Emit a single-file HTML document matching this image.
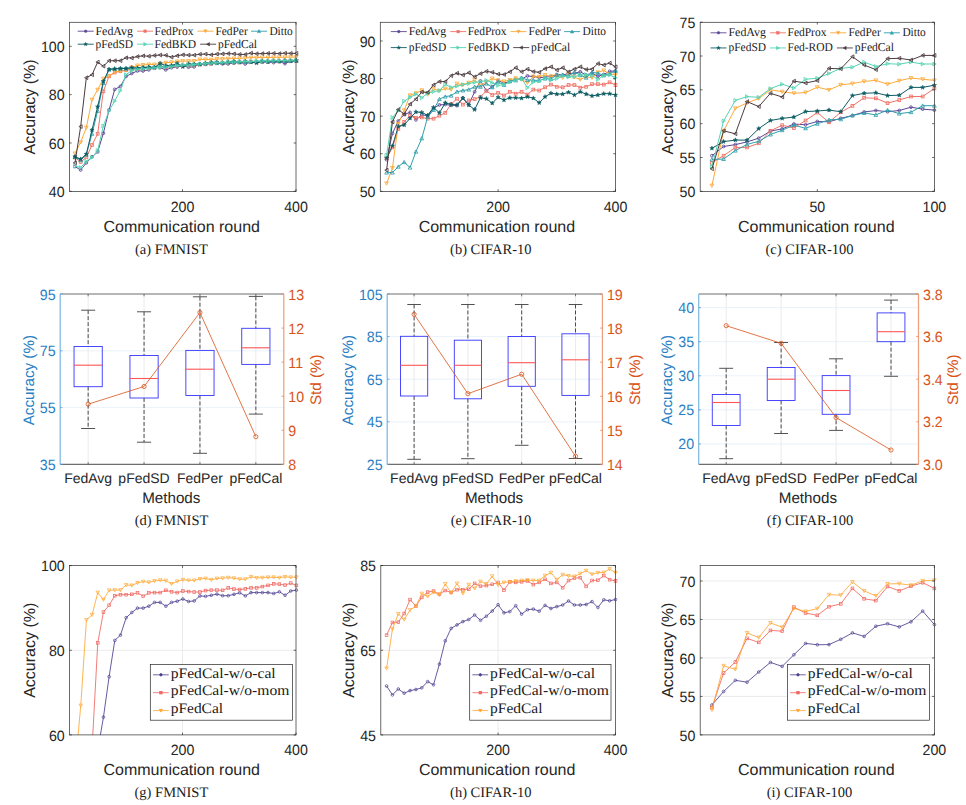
<!DOCTYPE html>
<html><head><meta charset="utf-8"><title>Figure</title>
<style>html,body{margin:0;padding:0;background:#fff}body{width:966px;height:805px;overflow:hidden;font-family:"Liberation Sans",sans-serif}</style>
</head><body>
<svg width="966" height="805" viewBox="0 0 966 805" style="display:block" text-rendering="geometricPrecision">
<g>
<clipPath id="cpa"><rect x="69.4" y="22.3" width="226.6" height="169.2"/></clipPath>
<g clip-path="url(#cpa)"><g transform="translate(0.3,0.5)">
<polyline points="74.67,166.04 80.35,169.46 86.03,162.33 91.7,156.33 97.38,151.42 103.05,132.75 108.72,109.62 114.4,88.9 120.08,85.87 125.75,75.93 131.43,72.97 137.1,70.45 142.78,70.45 148.45,69.37 154.12,67.2 159.8,67.2 165.47,69.37 171.15,67.2 176.82,66.51 182.5,65.26 188.18,66.68 193.85,66.34 199.53,63.49 205.2,63.72 210.88,63.14 216.55,62.46 222.22,63.37 227.9,63.37 233.57,62.57 239.25,61.72 244.93,63.49 250.6,61.6 256.27,61.6 261.95,61.6 267.62,61.6 273.3,62.12 278.98,61.15 284.65,63.14 290.32,60.69 296,60.18" fill="none" stroke="#5b4794" stroke-width="1.0" stroke-linejoin="round"/>
</g></g><g transform="translate(0.3,0.5)"><circle cx="74.67" cy="166.04" r="1.4" fill="none" stroke="#5b4794" stroke-width="0.85"/><circle cx="80.35" cy="169.46" r="1.4" fill="none" stroke="#5b4794" stroke-width="0.85"/><circle cx="86.03" cy="162.33" r="1.4" fill="none" stroke="#5b4794" stroke-width="0.85"/><circle cx="91.7" cy="156.33" r="1.4" fill="none" stroke="#5b4794" stroke-width="0.85"/><circle cx="97.38" cy="151.42" r="1.4" fill="none" stroke="#5b4794" stroke-width="0.85"/><circle cx="103.05" cy="132.75" r="1.4" fill="none" stroke="#5b4794" stroke-width="0.85"/><circle cx="108.72" cy="109.62" r="1.4" fill="none" stroke="#5b4794" stroke-width="0.85"/><circle cx="114.4" cy="88.9" r="1.4" fill="none" stroke="#5b4794" stroke-width="0.85"/><circle cx="120.08" cy="85.87" r="1.4" fill="none" stroke="#5b4794" stroke-width="0.85"/><circle cx="125.75" cy="75.93" r="1.4" fill="none" stroke="#5b4794" stroke-width="0.85"/><circle cx="131.43" cy="72.97" r="1.4" fill="none" stroke="#5b4794" stroke-width="0.85"/><circle cx="137.1" cy="70.45" r="1.4" fill="none" stroke="#5b4794" stroke-width="0.85"/><circle cx="142.78" cy="70.45" r="1.4" fill="none" stroke="#5b4794" stroke-width="0.85"/><circle cx="148.45" cy="69.37" r="1.4" fill="none" stroke="#5b4794" stroke-width="0.85"/><circle cx="154.12" cy="67.2" r="1.4" fill="none" stroke="#5b4794" stroke-width="0.85"/><circle cx="159.8" cy="67.2" r="1.4" fill="none" stroke="#5b4794" stroke-width="0.85"/><circle cx="165.47" cy="69.37" r="1.4" fill="none" stroke="#5b4794" stroke-width="0.85"/><circle cx="171.15" cy="67.2" r="1.4" fill="none" stroke="#5b4794" stroke-width="0.85"/><circle cx="176.82" cy="66.51" r="1.4" fill="none" stroke="#5b4794" stroke-width="0.85"/><circle cx="182.5" cy="65.26" r="1.4" fill="none" stroke="#5b4794" stroke-width="0.85"/><circle cx="188.18" cy="66.68" r="1.4" fill="none" stroke="#5b4794" stroke-width="0.85"/><circle cx="193.85" cy="66.34" r="1.4" fill="none" stroke="#5b4794" stroke-width="0.85"/><circle cx="199.53" cy="63.49" r="1.4" fill="none" stroke="#5b4794" stroke-width="0.85"/><circle cx="205.2" cy="63.72" r="1.4" fill="none" stroke="#5b4794" stroke-width="0.85"/><circle cx="210.88" cy="63.14" r="1.4" fill="none" stroke="#5b4794" stroke-width="0.85"/><circle cx="216.55" cy="62.46" r="1.4" fill="none" stroke="#5b4794" stroke-width="0.85"/><circle cx="222.22" cy="63.37" r="1.4" fill="none" stroke="#5b4794" stroke-width="0.85"/><circle cx="227.9" cy="63.37" r="1.4" fill="none" stroke="#5b4794" stroke-width="0.85"/><circle cx="233.57" cy="62.57" r="1.4" fill="none" stroke="#5b4794" stroke-width="0.85"/><circle cx="239.25" cy="61.72" r="1.4" fill="none" stroke="#5b4794" stroke-width="0.85"/><circle cx="244.93" cy="63.49" r="1.4" fill="none" stroke="#5b4794" stroke-width="0.85"/><circle cx="250.6" cy="61.6" r="1.4" fill="none" stroke="#5b4794" stroke-width="0.85"/><circle cx="256.27" cy="61.6" r="1.4" fill="none" stroke="#5b4794" stroke-width="0.85"/><circle cx="261.95" cy="61.6" r="1.4" fill="none" stroke="#5b4794" stroke-width="0.85"/><circle cx="267.62" cy="61.6" r="1.4" fill="none" stroke="#5b4794" stroke-width="0.85"/><circle cx="273.3" cy="62.12" r="1.4" fill="none" stroke="#5b4794" stroke-width="0.85"/><circle cx="278.98" cy="61.15" r="1.4" fill="none" stroke="#5b4794" stroke-width="0.85"/><circle cx="284.65" cy="63.14" r="1.4" fill="none" stroke="#5b4794" stroke-width="0.85"/><circle cx="290.32" cy="60.69" r="1.4" fill="none" stroke="#5b4794" stroke-width="0.85"/><circle cx="296" cy="60.18" r="1.4" fill="none" stroke="#5b4794" stroke-width="0.85"/></g><g clip-path="url(#cpa)"><g transform="translate(0.3,0.5)">
<polyline points="74.67,157 80.35,161.4 86.03,156.9 91.7,144.5 97.38,133.3 103.05,90.8 108.72,75.8 114.4,72 120.08,70.5 125.75,69.6 131.43,69 137.1,68.5 142.78,68 148.45,67.5 154.12,67 159.8,66.5 165.47,66.8 171.15,66 176.82,65.5 182.5,65.2 188.18,65 193.85,64.8 199.53,64.2 205.2,63.8 210.88,63.2 216.55,62.8 222.22,62.5 227.9,62.5 233.57,62 239.25,62 244.93,61.8 250.6,61.5 256.27,61.5 261.95,61.2 267.62,61 273.3,61 278.98,60.8 284.65,60.8 290.32,60.5 296,60.5" fill="none" stroke="#f07368" stroke-width="1.0" stroke-linejoin="round"/>
</g></g><g transform="translate(0.3,0.5)"><rect x="73.27" y="155.6" width="2.8" height="2.8" fill="none" stroke="#f07368" stroke-width="0.85"/><rect x="78.95" y="160" width="2.8" height="2.8" fill="none" stroke="#f07368" stroke-width="0.85"/><rect x="84.62" y="155.5" width="2.8" height="2.8" fill="none" stroke="#f07368" stroke-width="0.85"/><rect x="90.3" y="143.1" width="2.8" height="2.8" fill="none" stroke="#f07368" stroke-width="0.85"/><rect x="95.97" y="131.9" width="2.8" height="2.8" fill="none" stroke="#f07368" stroke-width="0.85"/><rect x="101.65" y="89.4" width="2.8" height="2.8" fill="none" stroke="#f07368" stroke-width="0.85"/><rect x="107.32" y="74.4" width="2.8" height="2.8" fill="none" stroke="#f07368" stroke-width="0.85"/><rect x="113" y="70.6" width="2.8" height="2.8" fill="none" stroke="#f07368" stroke-width="0.85"/><rect x="118.67" y="69.1" width="2.8" height="2.8" fill="none" stroke="#f07368" stroke-width="0.85"/><rect x="124.35" y="68.2" width="2.8" height="2.8" fill="none" stroke="#f07368" stroke-width="0.85"/><rect x="130.03" y="67.6" width="2.8" height="2.8" fill="none" stroke="#f07368" stroke-width="0.85"/><rect x="135.7" y="67.1" width="2.8" height="2.8" fill="none" stroke="#f07368" stroke-width="0.85"/><rect x="141.38" y="66.6" width="2.8" height="2.8" fill="none" stroke="#f07368" stroke-width="0.85"/><rect x="147.05" y="66.1" width="2.8" height="2.8" fill="none" stroke="#f07368" stroke-width="0.85"/><rect x="152.72" y="65.6" width="2.8" height="2.8" fill="none" stroke="#f07368" stroke-width="0.85"/><rect x="158.4" y="65.1" width="2.8" height="2.8" fill="none" stroke="#f07368" stroke-width="0.85"/><rect x="164.07" y="65.4" width="2.8" height="2.8" fill="none" stroke="#f07368" stroke-width="0.85"/><rect x="169.75" y="64.6" width="2.8" height="2.8" fill="none" stroke="#f07368" stroke-width="0.85"/><rect x="175.42" y="64.1" width="2.8" height="2.8" fill="none" stroke="#f07368" stroke-width="0.85"/><rect x="181.1" y="63.8" width="2.8" height="2.8" fill="none" stroke="#f07368" stroke-width="0.85"/><rect x="186.78" y="63.6" width="2.8" height="2.8" fill="none" stroke="#f07368" stroke-width="0.85"/><rect x="192.45" y="63.4" width="2.8" height="2.8" fill="none" stroke="#f07368" stroke-width="0.85"/><rect x="198.12" y="62.8" width="2.8" height="2.8" fill="none" stroke="#f07368" stroke-width="0.85"/><rect x="203.8" y="62.4" width="2.8" height="2.8" fill="none" stroke="#f07368" stroke-width="0.85"/><rect x="209.47" y="61.8" width="2.8" height="2.8" fill="none" stroke="#f07368" stroke-width="0.85"/><rect x="215.15" y="61.4" width="2.8" height="2.8" fill="none" stroke="#f07368" stroke-width="0.85"/><rect x="220.82" y="61.1" width="2.8" height="2.8" fill="none" stroke="#f07368" stroke-width="0.85"/><rect x="226.5" y="61.1" width="2.8" height="2.8" fill="none" stroke="#f07368" stroke-width="0.85"/><rect x="232.17" y="60.6" width="2.8" height="2.8" fill="none" stroke="#f07368" stroke-width="0.85"/><rect x="237.85" y="60.6" width="2.8" height="2.8" fill="none" stroke="#f07368" stroke-width="0.85"/><rect x="243.53" y="60.4" width="2.8" height="2.8" fill="none" stroke="#f07368" stroke-width="0.85"/><rect x="249.2" y="60.1" width="2.8" height="2.8" fill="none" stroke="#f07368" stroke-width="0.85"/><rect x="254.87" y="60.1" width="2.8" height="2.8" fill="none" stroke="#f07368" stroke-width="0.85"/><rect x="260.55" y="59.8" width="2.8" height="2.8" fill="none" stroke="#f07368" stroke-width="0.85"/><rect x="266.23" y="59.6" width="2.8" height="2.8" fill="none" stroke="#f07368" stroke-width="0.85"/><rect x="271.9" y="59.6" width="2.8" height="2.8" fill="none" stroke="#f07368" stroke-width="0.85"/><rect x="277.58" y="59.4" width="2.8" height="2.8" fill="none" stroke="#f07368" stroke-width="0.85"/><rect x="283.25" y="59.4" width="2.8" height="2.8" fill="none" stroke="#f07368" stroke-width="0.85"/><rect x="288.93" y="59.1" width="2.8" height="2.8" fill="none" stroke="#f07368" stroke-width="0.85"/><rect x="294.6" y="59.1" width="2.8" height="2.8" fill="none" stroke="#f07368" stroke-width="0.85"/></g><g clip-path="url(#cpa)"><g transform="translate(0.3,0.5)">
<polyline points="74.67,153 80.35,141.8 86.03,127.1 91.7,99.2 97.38,89.2 103.05,78.2 108.72,75.8 114.4,71.25 120.08,71 125.75,69.6 131.43,67 137.1,65 142.78,64.5 148.45,64 154.12,64 159.8,63 165.47,62.2 171.15,61.8 176.82,61 182.5,60.6 188.18,60.6 193.85,60.5 199.53,59 205.2,59 210.88,59.2 216.55,58.5 222.22,58.4 227.9,58.2 233.57,58 239.25,57.8 244.93,57.5 250.6,57.1 256.27,57.2 261.95,57 267.62,57 273.3,56.9 278.98,56.8 284.65,56.7 290.32,56.6 296,56.6" fill="none" stroke="#fda93a" stroke-width="1.0" stroke-linejoin="round"/>
</g></g><g transform="translate(0.3,0.5)"><polygon points="72.83,151.52 76.52,151.52 74.67,154.76" fill="none" stroke="#fda93a" stroke-width="0.85" stroke-linejoin="miter"/><polygon points="78.5,140.32 82.2,140.32 80.35,143.56" fill="none" stroke="#fda93a" stroke-width="0.85" stroke-linejoin="miter"/><polygon points="84.18,125.62 87.87,125.62 86.03,128.86" fill="none" stroke="#fda93a" stroke-width="0.85" stroke-linejoin="miter"/><polygon points="89.85,97.72 93.55,97.72 91.7,100.96" fill="none" stroke="#fda93a" stroke-width="0.85" stroke-linejoin="miter"/><polygon points="95.53,87.72 99.22,87.72 97.38,90.96" fill="none" stroke="#fda93a" stroke-width="0.85" stroke-linejoin="miter"/><polygon points="101.2,76.72 104.9,76.72 103.05,79.96" fill="none" stroke="#fda93a" stroke-width="0.85" stroke-linejoin="miter"/><polygon points="106.88,74.32 110.57,74.32 108.72,77.56" fill="none" stroke="#fda93a" stroke-width="0.85" stroke-linejoin="miter"/><polygon points="112.55,69.77 116.25,69.77 114.4,73.01" fill="none" stroke="#fda93a" stroke-width="0.85" stroke-linejoin="miter"/><polygon points="118.23,69.52 121.92,69.52 120.08,72.76" fill="none" stroke="#fda93a" stroke-width="0.85" stroke-linejoin="miter"/><polygon points="123.9,68.12 127.6,68.12 125.75,71.36" fill="none" stroke="#fda93a" stroke-width="0.85" stroke-linejoin="miter"/><polygon points="129.58,65.52 133.27,65.52 131.43,68.76" fill="none" stroke="#fda93a" stroke-width="0.85" stroke-linejoin="miter"/><polygon points="135.25,63.52 138.95,63.52 137.1,66.76" fill="none" stroke="#fda93a" stroke-width="0.85" stroke-linejoin="miter"/><polygon points="140.93,63.02 144.62,63.02 142.78,66.26" fill="none" stroke="#fda93a" stroke-width="0.85" stroke-linejoin="miter"/><polygon points="146.6,62.52 150.3,62.52 148.45,65.76" fill="none" stroke="#fda93a" stroke-width="0.85" stroke-linejoin="miter"/><polygon points="152.28,62.52 155.97,62.52 154.12,65.76" fill="none" stroke="#fda93a" stroke-width="0.85" stroke-linejoin="miter"/><polygon points="157.95,61.52 161.65,61.52 159.8,64.76" fill="none" stroke="#fda93a" stroke-width="0.85" stroke-linejoin="miter"/><polygon points="163.63,60.72 167.32,60.72 165.47,63.96" fill="none" stroke="#fda93a" stroke-width="0.85" stroke-linejoin="miter"/><polygon points="169.3,60.32 173,60.32 171.15,63.56" fill="none" stroke="#fda93a" stroke-width="0.85" stroke-linejoin="miter"/><polygon points="174.98,59.52 178.67,59.52 176.82,62.76" fill="none" stroke="#fda93a" stroke-width="0.85" stroke-linejoin="miter"/><polygon points="180.65,59.12 184.35,59.12 182.5,62.36" fill="none" stroke="#fda93a" stroke-width="0.85" stroke-linejoin="miter"/><polygon points="186.33,59.12 190.02,59.12 188.18,62.36" fill="none" stroke="#fda93a" stroke-width="0.85" stroke-linejoin="miter"/><polygon points="192,59.02 195.7,59.02 193.85,62.26" fill="none" stroke="#fda93a" stroke-width="0.85" stroke-linejoin="miter"/><polygon points="197.68,57.52 201.37,57.52 199.53,60.76" fill="none" stroke="#fda93a" stroke-width="0.85" stroke-linejoin="miter"/><polygon points="203.35,57.52 207.05,57.52 205.2,60.76" fill="none" stroke="#fda93a" stroke-width="0.85" stroke-linejoin="miter"/><polygon points="209.03,57.72 212.72,57.72 210.88,60.96" fill="none" stroke="#fda93a" stroke-width="0.85" stroke-linejoin="miter"/><polygon points="214.7,57.02 218.4,57.02 216.55,60.26" fill="none" stroke="#fda93a" stroke-width="0.85" stroke-linejoin="miter"/><polygon points="220.38,56.92 224.07,56.92 222.22,60.16" fill="none" stroke="#fda93a" stroke-width="0.85" stroke-linejoin="miter"/><polygon points="226.05,56.72 229.75,56.72 227.9,59.96" fill="none" stroke="#fda93a" stroke-width="0.85" stroke-linejoin="miter"/><polygon points="231.73,56.52 235.42,56.52 233.57,59.76" fill="none" stroke="#fda93a" stroke-width="0.85" stroke-linejoin="miter"/><polygon points="237.4,56.32 241.1,56.32 239.25,59.56" fill="none" stroke="#fda93a" stroke-width="0.85" stroke-linejoin="miter"/><polygon points="243.08,56.02 246.77,56.02 244.93,59.26" fill="none" stroke="#fda93a" stroke-width="0.85" stroke-linejoin="miter"/><polygon points="248.75,55.62 252.45,55.62 250.6,58.86" fill="none" stroke="#fda93a" stroke-width="0.85" stroke-linejoin="miter"/><polygon points="254.43,55.72 258.12,55.72 256.27,58.96" fill="none" stroke="#fda93a" stroke-width="0.85" stroke-linejoin="miter"/><polygon points="260.1,55.52 263.8,55.52 261.95,58.76" fill="none" stroke="#fda93a" stroke-width="0.85" stroke-linejoin="miter"/><polygon points="265.78,55.52 269.47,55.52 267.62,58.76" fill="none" stroke="#fda93a" stroke-width="0.85" stroke-linejoin="miter"/><polygon points="271.45,55.42 275.15,55.42 273.3,58.66" fill="none" stroke="#fda93a" stroke-width="0.85" stroke-linejoin="miter"/><polygon points="277.13,55.32 280.82,55.32 278.98,58.56" fill="none" stroke="#fda93a" stroke-width="0.85" stroke-linejoin="miter"/><polygon points="282.8,55.22 286.5,55.22 284.65,58.46" fill="none" stroke="#fda93a" stroke-width="0.85" stroke-linejoin="miter"/><polygon points="288.48,55.12 292.17,55.12 290.32,58.36" fill="none" stroke="#fda93a" stroke-width="0.85" stroke-linejoin="miter"/><polygon points="294.15,55.12 297.85,55.12 296,58.36" fill="none" stroke="#fda93a" stroke-width="0.85" stroke-linejoin="miter"/></g><g clip-path="url(#cpa)"><g transform="translate(0.3,0.5)">
<polyline points="74.67,156.5 80.35,159.8 86.03,154.2 91.7,133.3 97.38,110.4 103.05,82.5 108.72,69.2 114.4,68.5 120.08,68.2 125.75,68.1 131.43,67.8 137.1,67.6 142.78,67.2 148.45,67 154.12,66.6 159.8,66 165.47,65.6 171.15,65.2 176.82,64.8 182.5,64.5 188.18,64.2 193.85,63.9 199.53,63.5 205.2,63.1 210.88,62.8 216.55,62.5 222.22,62.2 227.9,62 233.57,61.8 239.25,61.6 244.93,61.4 250.6,61.2 256.27,61 261.95,60.9 267.62,60.8 273.3,60.6 278.98,60.5 284.65,60.4 290.32,60.3 296,60.2" fill="none" stroke="#2f9fab" stroke-width="1.0" stroke-linejoin="round"/>
</g></g><g transform="translate(0.3,0.5)"><polygon points="72.83,157.98 76.52,157.98 74.67,154.74" fill="none" stroke="#2f9fab" stroke-width="0.85" stroke-linejoin="miter"/><polygon points="78.5,161.28 82.2,161.28 80.35,158.04" fill="none" stroke="#2f9fab" stroke-width="0.85" stroke-linejoin="miter"/><polygon points="84.18,155.68 87.87,155.68 86.03,152.44" fill="none" stroke="#2f9fab" stroke-width="0.85" stroke-linejoin="miter"/><polygon points="89.85,134.78 93.55,134.78 91.7,131.54" fill="none" stroke="#2f9fab" stroke-width="0.85" stroke-linejoin="miter"/><polygon points="95.53,111.88 99.22,111.88 97.38,108.64" fill="none" stroke="#2f9fab" stroke-width="0.85" stroke-linejoin="miter"/><polygon points="101.2,83.98 104.9,83.98 103.05,80.74" fill="none" stroke="#2f9fab" stroke-width="0.85" stroke-linejoin="miter"/><polygon points="106.88,70.68 110.57,70.68 108.72,67.44" fill="none" stroke="#2f9fab" stroke-width="0.85" stroke-linejoin="miter"/><polygon points="112.55,69.98 116.25,69.98 114.4,66.74" fill="none" stroke="#2f9fab" stroke-width="0.85" stroke-linejoin="miter"/><polygon points="118.23,69.68 121.92,69.68 120.08,66.44" fill="none" stroke="#2f9fab" stroke-width="0.85" stroke-linejoin="miter"/><polygon points="123.9,69.58 127.6,69.58 125.75,66.34" fill="none" stroke="#2f9fab" stroke-width="0.85" stroke-linejoin="miter"/><polygon points="129.58,69.28 133.27,69.28 131.43,66.04" fill="none" stroke="#2f9fab" stroke-width="0.85" stroke-linejoin="miter"/><polygon points="135.25,69.08 138.95,69.08 137.1,65.84" fill="none" stroke="#2f9fab" stroke-width="0.85" stroke-linejoin="miter"/><polygon points="140.93,68.68 144.62,68.68 142.78,65.44" fill="none" stroke="#2f9fab" stroke-width="0.85" stroke-linejoin="miter"/><polygon points="146.6,68.48 150.3,68.48 148.45,65.24" fill="none" stroke="#2f9fab" stroke-width="0.85" stroke-linejoin="miter"/><polygon points="152.28,68.08 155.97,68.08 154.12,64.84" fill="none" stroke="#2f9fab" stroke-width="0.85" stroke-linejoin="miter"/><polygon points="157.95,67.48 161.65,67.48 159.8,64.24" fill="none" stroke="#2f9fab" stroke-width="0.85" stroke-linejoin="miter"/><polygon points="163.63,67.08 167.32,67.08 165.47,63.84" fill="none" stroke="#2f9fab" stroke-width="0.85" stroke-linejoin="miter"/><polygon points="169.3,66.68 173,66.68 171.15,63.44" fill="none" stroke="#2f9fab" stroke-width="0.85" stroke-linejoin="miter"/><polygon points="174.98,66.28 178.67,66.28 176.82,63.04" fill="none" stroke="#2f9fab" stroke-width="0.85" stroke-linejoin="miter"/><polygon points="180.65,65.98 184.35,65.98 182.5,62.74" fill="none" stroke="#2f9fab" stroke-width="0.85" stroke-linejoin="miter"/><polygon points="186.33,65.68 190.02,65.68 188.18,62.44" fill="none" stroke="#2f9fab" stroke-width="0.85" stroke-linejoin="miter"/><polygon points="192,65.38 195.7,65.38 193.85,62.14" fill="none" stroke="#2f9fab" stroke-width="0.85" stroke-linejoin="miter"/><polygon points="197.68,64.98 201.37,64.98 199.53,61.74" fill="none" stroke="#2f9fab" stroke-width="0.85" stroke-linejoin="miter"/><polygon points="203.35,64.58 207.05,64.58 205.2,61.34" fill="none" stroke="#2f9fab" stroke-width="0.85" stroke-linejoin="miter"/><polygon points="209.03,64.28 212.72,64.28 210.88,61.04" fill="none" stroke="#2f9fab" stroke-width="0.85" stroke-linejoin="miter"/><polygon points="214.7,63.98 218.4,63.98 216.55,60.74" fill="none" stroke="#2f9fab" stroke-width="0.85" stroke-linejoin="miter"/><polygon points="220.38,63.68 224.07,63.68 222.22,60.44" fill="none" stroke="#2f9fab" stroke-width="0.85" stroke-linejoin="miter"/><polygon points="226.05,63.48 229.75,63.48 227.9,60.24" fill="none" stroke="#2f9fab" stroke-width="0.85" stroke-linejoin="miter"/><polygon points="231.73,63.28 235.42,63.28 233.57,60.04" fill="none" stroke="#2f9fab" stroke-width="0.85" stroke-linejoin="miter"/><polygon points="237.4,63.08 241.1,63.08 239.25,59.84" fill="none" stroke="#2f9fab" stroke-width="0.85" stroke-linejoin="miter"/><polygon points="243.08,62.88 246.77,62.88 244.93,59.64" fill="none" stroke="#2f9fab" stroke-width="0.85" stroke-linejoin="miter"/><polygon points="248.75,62.68 252.45,62.68 250.6,59.44" fill="none" stroke="#2f9fab" stroke-width="0.85" stroke-linejoin="miter"/><polygon points="254.43,62.48 258.12,62.48 256.27,59.24" fill="none" stroke="#2f9fab" stroke-width="0.85" stroke-linejoin="miter"/><polygon points="260.1,62.38 263.8,62.38 261.95,59.14" fill="none" stroke="#2f9fab" stroke-width="0.85" stroke-linejoin="miter"/><polygon points="265.78,62.28 269.47,62.28 267.62,59.04" fill="none" stroke="#2f9fab" stroke-width="0.85" stroke-linejoin="miter"/><polygon points="271.45,62.08 275.15,62.08 273.3,58.84" fill="none" stroke="#2f9fab" stroke-width="0.85" stroke-linejoin="miter"/><polygon points="277.13,61.98 280.82,61.98 278.98,58.74" fill="none" stroke="#2f9fab" stroke-width="0.85" stroke-linejoin="miter"/><polygon points="282.8,61.88 286.5,61.88 284.65,58.64" fill="none" stroke="#2f9fab" stroke-width="0.85" stroke-linejoin="miter"/><polygon points="288.48,61.78 292.17,61.78 290.32,58.54" fill="none" stroke="#2f9fab" stroke-width="0.85" stroke-linejoin="miter"/><polygon points="294.15,61.68 297.85,61.68 296,58.44" fill="none" stroke="#2f9fab" stroke-width="0.85" stroke-linejoin="miter"/></g><g clip-path="url(#cpa)"><g transform="translate(0.3,0.5)">
<polyline points="74.67,156.1 80.35,158.6 86.03,153.6 91.7,129.6 97.38,106.25 103.05,80.8 108.72,68.75 114.4,68.3 120.08,67.9 125.75,67.9 131.43,67.1 137.1,67.5 142.78,67.1 148.45,66.6 154.12,67.1 159.8,62.9 165.47,65.2 171.15,65.2 176.82,62.9 182.5,66.2 188.18,63.4 193.85,63.8 199.53,63.8 205.2,62.9 210.88,62 216.55,61.8 222.22,62.5 227.9,61.5 233.57,61 239.25,61.5 244.93,61 250.6,61.5 256.27,62.5 261.95,60.5 267.62,61.2 273.3,60.5 278.98,60.8 284.65,60.2 290.32,60.5 296,60" fill="none" stroke="#0d5c63" stroke-width="1.0" stroke-linejoin="round"/>
</g></g><g transform="translate(0.3,0.5)"><polygon points="74.67,153.86 75.23,155.34 76.81,155.41 75.57,156.39 75.99,157.91 74.67,157.04 73.36,157.91 73.78,156.39 72.54,155.41 74.12,155.34" fill="#0d5c63" stroke="#0d5c63" stroke-width="0.51"/><polygon points="80.35,156.36 80.9,157.84 82.48,157.91 81.24,158.89 81.67,160.41 80.35,159.54 79.03,160.41 79.46,158.89 78.22,157.91 79.8,157.84" fill="#0d5c63" stroke="#0d5c63" stroke-width="0.51"/><polygon points="86.03,151.36 86.58,152.84 88.16,152.91 86.92,153.89 87.34,155.41 86.03,154.54 84.71,155.41 85.13,153.89 83.89,152.91 85.47,152.84" fill="#0d5c63" stroke="#0d5c63" stroke-width="0.51"/><polygon points="91.7,127.36 92.25,128.84 93.83,128.91 92.59,129.89 93.02,131.41 91.7,130.54 90.38,131.41 90.81,129.89 89.57,128.91 91.15,128.84" fill="#0d5c63" stroke="#0d5c63" stroke-width="0.51"/><polygon points="97.38,104.01 97.93,105.49 99.51,105.56 98.27,106.54 98.69,108.06 97.38,107.19 96.06,108.06 96.48,106.54 95.24,105.56 96.82,105.49" fill="#0d5c63" stroke="#0d5c63" stroke-width="0.51"/><polygon points="103.05,78.56 103.6,80.04 105.18,80.11 103.94,81.09 104.37,82.61 103.05,81.74 101.73,82.61 102.16,81.09 100.92,80.11 102.5,80.04" fill="#0d5c63" stroke="#0d5c63" stroke-width="0.51"/><polygon points="108.72,66.51 109.28,67.99 110.86,68.06 109.62,69.04 110.04,70.56 108.72,69.69 107.41,70.56 107.83,69.04 106.59,68.06 108.17,67.99" fill="#0d5c63" stroke="#0d5c63" stroke-width="0.51"/><polygon points="114.4,66.06 114.95,67.54 116.53,67.61 115.29,68.59 115.72,70.11 114.4,69.24 113.08,70.11 113.51,68.59 112.27,67.61 113.85,67.54" fill="#0d5c63" stroke="#0d5c63" stroke-width="0.51"/><polygon points="120.08,65.66 120.63,67.14 122.21,67.21 120.97,68.19 121.39,69.71 120.08,68.84 118.76,69.71 119.18,68.19 117.94,67.21 119.52,67.14" fill="#0d5c63" stroke="#0d5c63" stroke-width="0.51"/><polygon points="125.75,65.66 126.3,67.14 127.88,67.21 126.64,68.19 127.07,69.71 125.75,68.84 124.43,69.71 124.86,68.19 123.62,67.21 125.2,67.14" fill="#0d5c63" stroke="#0d5c63" stroke-width="0.51"/><polygon points="131.43,64.86 131.98,66.34 133.56,66.41 132.32,67.39 132.74,68.91 131.43,68.04 130.11,68.91 130.53,67.39 129.29,66.41 130.87,66.34" fill="#0d5c63" stroke="#0d5c63" stroke-width="0.51"/><polygon points="137.1,65.26 137.65,66.74 139.23,66.81 137.99,67.79 138.42,69.31 137.1,68.44 135.78,69.31 136.21,67.79 134.97,66.81 136.55,66.74" fill="#0d5c63" stroke="#0d5c63" stroke-width="0.51"/><polygon points="142.78,64.86 143.33,66.34 144.91,66.41 143.67,67.39 144.09,68.91 142.78,68.04 141.46,68.91 141.88,67.39 140.64,66.41 142.22,66.34" fill="#0d5c63" stroke="#0d5c63" stroke-width="0.51"/><polygon points="148.45,64.36 149,65.84 150.58,65.91 149.34,66.89 149.77,68.41 148.45,67.54 147.13,68.41 147.56,66.89 146.32,65.91 147.9,65.84" fill="#0d5c63" stroke="#0d5c63" stroke-width="0.51"/><polygon points="154.12,64.86 154.68,66.34 156.26,66.41 155.02,67.39 155.44,68.91 154.12,68.04 152.81,68.91 153.23,67.39 151.99,66.41 153.57,66.34" fill="#0d5c63" stroke="#0d5c63" stroke-width="0.51"/><polygon points="159.8,60.66 160.35,62.14 161.93,62.21 160.69,63.19 161.12,64.71 159.8,63.84 158.48,64.71 158.91,63.19 157.67,62.21 159.25,62.14" fill="#0d5c63" stroke="#0d5c63" stroke-width="0.51"/><polygon points="165.47,62.96 166.03,64.44 167.61,64.51 166.37,65.49 166.79,67.01 165.47,66.14 164.16,67.01 164.58,65.49 163.34,64.51 164.92,64.44" fill="#0d5c63" stroke="#0d5c63" stroke-width="0.51"/><polygon points="171.15,62.96 171.7,64.44 173.28,64.51 172.04,65.49 172.47,67.01 171.15,66.14 169.83,67.01 170.26,65.49 169.02,64.51 170.6,64.44" fill="#0d5c63" stroke="#0d5c63" stroke-width="0.51"/><polygon points="176.82,60.66 177.38,62.14 178.96,62.21 177.72,63.19 178.14,64.71 176.82,63.84 175.51,64.71 175.93,63.19 174.69,62.21 176.27,62.14" fill="#0d5c63" stroke="#0d5c63" stroke-width="0.51"/><polygon points="182.5,63.96 183.05,65.44 184.63,65.51 183.39,66.49 183.82,68.01 182.5,67.14 181.18,68.01 181.61,66.49 180.37,65.51 181.95,65.44" fill="#0d5c63" stroke="#0d5c63" stroke-width="0.51"/><polygon points="188.18,61.16 188.73,62.64 190.31,62.71 189.07,63.69 189.49,65.21 188.18,64.34 186.86,65.21 187.28,63.69 186.04,62.71 187.62,62.64" fill="#0d5c63" stroke="#0d5c63" stroke-width="0.51"/><polygon points="193.85,61.56 194.4,63.04 195.98,63.11 194.74,64.09 195.17,65.61 193.85,64.74 192.53,65.61 192.96,64.09 191.72,63.11 193.3,63.04" fill="#0d5c63" stroke="#0d5c63" stroke-width="0.51"/><polygon points="199.53,61.56 200.08,63.04 201.66,63.11 200.42,64.09 200.84,65.61 199.53,64.74 198.21,65.61 198.63,64.09 197.39,63.11 198.97,63.04" fill="#0d5c63" stroke="#0d5c63" stroke-width="0.51"/><polygon points="205.2,60.66 205.75,62.14 207.33,62.21 206.09,63.19 206.52,64.71 205.2,63.84 203.88,64.71 204.31,63.19 203.07,62.21 204.65,62.14" fill="#0d5c63" stroke="#0d5c63" stroke-width="0.51"/><polygon points="210.88,59.76 211.43,61.24 213.01,61.31 211.77,62.29 212.19,63.81 210.88,62.94 209.56,63.81 209.98,62.29 208.74,61.31 210.32,61.24" fill="#0d5c63" stroke="#0d5c63" stroke-width="0.51"/><polygon points="216.55,59.56 217.1,61.04 218.68,61.11 217.44,62.09 217.87,63.61 216.55,62.74 215.23,63.61 215.66,62.09 214.42,61.11 216,61.04" fill="#0d5c63" stroke="#0d5c63" stroke-width="0.51"/><polygon points="222.22,60.26 222.78,61.74 224.36,61.81 223.12,62.79 223.54,64.31 222.22,63.44 220.91,64.31 221.33,62.79 220.09,61.81 221.67,61.74" fill="#0d5c63" stroke="#0d5c63" stroke-width="0.51"/><polygon points="227.9,59.26 228.45,60.74 230.03,60.81 228.79,61.79 229.22,63.31 227.9,62.44 226.58,63.31 227.01,61.79 225.77,60.81 227.35,60.74" fill="#0d5c63" stroke="#0d5c63" stroke-width="0.51"/><polygon points="233.57,58.76 234.13,60.24 235.71,60.31 234.47,61.29 234.89,62.81 233.57,61.94 232.26,62.81 232.68,61.29 231.44,60.31 233.02,60.24" fill="#0d5c63" stroke="#0d5c63" stroke-width="0.51"/><polygon points="239.25,59.26 239.8,60.74 241.38,60.81 240.14,61.79 240.57,63.31 239.25,62.44 237.93,63.31 238.36,61.79 237.12,60.81 238.7,60.74" fill="#0d5c63" stroke="#0d5c63" stroke-width="0.51"/><polygon points="244.93,58.76 245.48,60.24 247.06,60.31 245.82,61.29 246.24,62.81 244.93,61.94 243.61,62.81 244.03,61.29 242.79,60.31 244.37,60.24" fill="#0d5c63" stroke="#0d5c63" stroke-width="0.51"/><polygon points="250.6,59.26 251.15,60.74 252.73,60.81 251.49,61.79 251.92,63.31 250.6,62.44 249.28,63.31 249.71,61.79 248.47,60.81 250.05,60.74" fill="#0d5c63" stroke="#0d5c63" stroke-width="0.51"/><polygon points="256.27,60.26 256.83,61.74 258.41,61.81 257.17,62.79 257.59,64.31 256.27,63.44 254.96,64.31 255.38,62.79 254.14,61.81 255.72,61.74" fill="#0d5c63" stroke="#0d5c63" stroke-width="0.51"/><polygon points="261.95,58.26 262.5,59.74 264.08,59.81 262.84,60.79 263.27,62.31 261.95,61.44 260.63,62.31 261.06,60.79 259.82,59.81 261.4,59.74" fill="#0d5c63" stroke="#0d5c63" stroke-width="0.51"/><polygon points="267.62,58.96 268.18,60.44 269.76,60.51 268.52,61.49 268.94,63.01 267.62,62.14 266.31,63.01 266.73,61.49 265.49,60.51 267.07,60.44" fill="#0d5c63" stroke="#0d5c63" stroke-width="0.51"/><polygon points="273.3,58.26 273.85,59.74 275.43,59.81 274.19,60.79 274.62,62.31 273.3,61.44 271.98,62.31 272.41,60.79 271.17,59.81 272.75,59.74" fill="#0d5c63" stroke="#0d5c63" stroke-width="0.51"/><polygon points="278.98,58.56 279.53,60.04 281.11,60.11 279.87,61.09 280.29,62.61 278.98,61.74 277.66,62.61 278.08,61.09 276.84,60.11 278.42,60.04" fill="#0d5c63" stroke="#0d5c63" stroke-width="0.51"/><polygon points="284.65,57.96 285.2,59.44 286.78,59.51 285.54,60.49 285.97,62.01 284.65,61.14 283.33,62.01 283.76,60.49 282.52,59.51 284.1,59.44" fill="#0d5c63" stroke="#0d5c63" stroke-width="0.51"/><polygon points="290.32,58.26 290.88,59.74 292.46,59.81 291.22,60.79 291.64,62.31 290.32,61.44 289.01,62.31 289.43,60.79 288.19,59.81 289.77,59.74" fill="#0d5c63" stroke="#0d5c63" stroke-width="0.51"/><polygon points="296,57.76 296.55,59.24 298.13,59.31 296.89,60.29 297.32,61.81 296,60.94 294.68,61.81 295.11,60.29 293.87,59.31 295.45,59.24" fill="#0d5c63" stroke="#0d5c63" stroke-width="0.51"/></g><g clip-path="url(#cpa)"><g transform="translate(0.3,0.5)">
<polyline points="74.67,165.7 80.35,167 86.03,160.9 91.7,157 97.38,150 103.05,125.4 108.72,110.4 114.4,100.4 120.08,90 125.75,74.2 131.43,70 137.1,68.75 142.78,68.3 148.45,67.8 154.12,67.2 159.8,66.8 165.47,66.5 171.15,66 176.82,65 182.5,64.5 188.18,64.5 193.85,64 199.53,63.5 205.2,63 210.88,62.5 216.55,62 222.22,62 227.9,61.5 233.57,61.5 239.25,61.2 244.93,61 250.6,61 256.27,60.5 261.95,60.5 267.62,60.5 273.3,60.2 278.98,60 284.65,60 290.32,59.8 296,59.5" fill="none" stroke="#55d3b4" stroke-width="1.0" stroke-linejoin="round"/>
</g></g><g transform="translate(0.3,0.5)"><polygon points="73.2,163.85 73.2,167.55 76.43,165.7" fill="none" stroke="#55d3b4" stroke-width="0.85" stroke-linejoin="miter"/><polygon points="78.87,165.15 78.87,168.85 82.11,167" fill="none" stroke="#55d3b4" stroke-width="0.85" stroke-linejoin="miter"/><polygon points="84.55,159.05 84.55,162.75 87.78,160.9" fill="none" stroke="#55d3b4" stroke-width="0.85" stroke-linejoin="miter"/><polygon points="90.22,155.15 90.22,158.85 93.46,157" fill="none" stroke="#55d3b4" stroke-width="0.85" stroke-linejoin="miter"/><polygon points="95.9,148.15 95.9,151.85 99.13,150" fill="none" stroke="#55d3b4" stroke-width="0.85" stroke-linejoin="miter"/><polygon points="101.57,123.55 101.57,127.25 104.81,125.4" fill="none" stroke="#55d3b4" stroke-width="0.85" stroke-linejoin="miter"/><polygon points="107.25,108.55 107.25,112.25 110.48,110.4" fill="none" stroke="#55d3b4" stroke-width="0.85" stroke-linejoin="miter"/><polygon points="112.92,98.55 112.92,102.25 116.16,100.4" fill="none" stroke="#55d3b4" stroke-width="0.85" stroke-linejoin="miter"/><polygon points="118.6,88.15 118.6,91.85 121.83,90" fill="none" stroke="#55d3b4" stroke-width="0.85" stroke-linejoin="miter"/><polygon points="124.27,72.35 124.27,76.05 127.51,74.2" fill="none" stroke="#55d3b4" stroke-width="0.85" stroke-linejoin="miter"/><polygon points="129.95,68.15 129.95,71.85 133.18,70" fill="none" stroke="#55d3b4" stroke-width="0.85" stroke-linejoin="miter"/><polygon points="135.62,66.9 135.62,70.6 138.86,68.75" fill="none" stroke="#55d3b4" stroke-width="0.85" stroke-linejoin="miter"/><polygon points="141.3,66.45 141.3,70.15 144.53,68.3" fill="none" stroke="#55d3b4" stroke-width="0.85" stroke-linejoin="miter"/><polygon points="146.97,65.95 146.97,69.65 150.21,67.8" fill="none" stroke="#55d3b4" stroke-width="0.85" stroke-linejoin="miter"/><polygon points="152.65,65.35 152.65,69.05 155.88,67.2" fill="none" stroke="#55d3b4" stroke-width="0.85" stroke-linejoin="miter"/><polygon points="158.32,64.95 158.32,68.65 161.56,66.8" fill="none" stroke="#55d3b4" stroke-width="0.85" stroke-linejoin="miter"/><polygon points="164,64.65 164,68.35 167.23,66.5" fill="none" stroke="#55d3b4" stroke-width="0.85" stroke-linejoin="miter"/><polygon points="169.67,64.15 169.67,67.85 172.91,66" fill="none" stroke="#55d3b4" stroke-width="0.85" stroke-linejoin="miter"/><polygon points="175.35,63.15 175.35,66.85 178.58,65" fill="none" stroke="#55d3b4" stroke-width="0.85" stroke-linejoin="miter"/><polygon points="181.02,62.65 181.02,66.35 184.26,64.5" fill="none" stroke="#55d3b4" stroke-width="0.85" stroke-linejoin="miter"/><polygon points="186.7,62.65 186.7,66.35 189.93,64.5" fill="none" stroke="#55d3b4" stroke-width="0.85" stroke-linejoin="miter"/><polygon points="192.37,62.15 192.37,65.85 195.61,64" fill="none" stroke="#55d3b4" stroke-width="0.85" stroke-linejoin="miter"/><polygon points="198.05,61.65 198.05,65.35 201.28,63.5" fill="none" stroke="#55d3b4" stroke-width="0.85" stroke-linejoin="miter"/><polygon points="203.72,61.15 203.72,64.85 206.96,63" fill="none" stroke="#55d3b4" stroke-width="0.85" stroke-linejoin="miter"/><polygon points="209.4,60.65 209.4,64.35 212.63,62.5" fill="none" stroke="#55d3b4" stroke-width="0.85" stroke-linejoin="miter"/><polygon points="215.07,60.15 215.07,63.85 218.31,62" fill="none" stroke="#55d3b4" stroke-width="0.85" stroke-linejoin="miter"/><polygon points="220.75,60.15 220.75,63.85 223.98,62" fill="none" stroke="#55d3b4" stroke-width="0.85" stroke-linejoin="miter"/><polygon points="226.42,59.65 226.42,63.35 229.66,61.5" fill="none" stroke="#55d3b4" stroke-width="0.85" stroke-linejoin="miter"/><polygon points="232.1,59.65 232.1,63.35 235.33,61.5" fill="none" stroke="#55d3b4" stroke-width="0.85" stroke-linejoin="miter"/><polygon points="237.77,59.35 237.77,63.05 241.01,61.2" fill="none" stroke="#55d3b4" stroke-width="0.85" stroke-linejoin="miter"/><polygon points="243.45,59.15 243.45,62.85 246.68,61" fill="none" stroke="#55d3b4" stroke-width="0.85" stroke-linejoin="miter"/><polygon points="249.12,59.15 249.12,62.85 252.36,61" fill="none" stroke="#55d3b4" stroke-width="0.85" stroke-linejoin="miter"/><polygon points="254.8,58.65 254.8,62.35 258.03,60.5" fill="none" stroke="#55d3b4" stroke-width="0.85" stroke-linejoin="miter"/><polygon points="260.47,58.65 260.47,62.35 263.71,60.5" fill="none" stroke="#55d3b4" stroke-width="0.85" stroke-linejoin="miter"/><polygon points="266.15,58.65 266.15,62.35 269.38,60.5" fill="none" stroke="#55d3b4" stroke-width="0.85" stroke-linejoin="miter"/><polygon points="271.82,58.35 271.82,62.05 275.06,60.2" fill="none" stroke="#55d3b4" stroke-width="0.85" stroke-linejoin="miter"/><polygon points="277.5,58.15 277.5,61.85 280.73,60" fill="none" stroke="#55d3b4" stroke-width="0.85" stroke-linejoin="miter"/><polygon points="283.17,58.15 283.17,61.85 286.41,60" fill="none" stroke="#55d3b4" stroke-width="0.85" stroke-linejoin="miter"/><polygon points="288.85,57.95 288.85,61.65 292.08,59.8" fill="none" stroke="#55d3b4" stroke-width="0.85" stroke-linejoin="miter"/><polygon points="294.52,57.65 294.52,61.35 297.76,59.5" fill="none" stroke="#55d3b4" stroke-width="0.85" stroke-linejoin="miter"/></g><g clip-path="url(#cpa)"><g transform="translate(0.3,0.5)">
<polyline points="74.67,162.33 80.35,126.07 86.03,77.19 91.7,74.28 97.38,61.6 103.05,65.66 108.72,60.29 114.4,60.18 120.08,60.18 125.75,57.26 131.43,57.49 137.1,56.06 142.78,55.32 148.45,55.72 154.12,54.98 159.8,54.52 165.47,54.81 171.15,56.64 176.82,55.21 182.5,54.29 188.18,54.64 193.85,54.64 199.53,53.78 205.2,53.55 210.88,54.29 216.55,53.55 222.22,53.38 227.9,53.09 233.57,53.38 239.25,53.95 244.93,53.95 250.6,52.64 256.27,53.21 261.95,53.09 267.62,52.87 273.3,52.87 278.98,53.09 284.65,52.64 290.32,52.87 296,52.87" fill="none" stroke="#4b3b3f" stroke-width="1.0" stroke-linejoin="round"/>
</g></g><g transform="translate(0.3,0.5)"><polygon points="76.15,160.48 76.15,164.18 72.92,162.33" fill="none" stroke="#4b3b3f" stroke-width="0.85" stroke-linejoin="miter"/><polygon points="81.83,124.22 81.83,127.92 78.59,126.07" fill="none" stroke="#4b3b3f" stroke-width="0.85" stroke-linejoin="miter"/><polygon points="87.5,75.34 87.5,79.04 84.27,77.19" fill="none" stroke="#4b3b3f" stroke-width="0.85" stroke-linejoin="miter"/><polygon points="93.18,72.43 93.18,76.13 89.94,74.28" fill="none" stroke="#4b3b3f" stroke-width="0.85" stroke-linejoin="miter"/><polygon points="98.85,59.75 98.85,63.45 95.62,61.6" fill="none" stroke="#4b3b3f" stroke-width="0.85" stroke-linejoin="miter"/><polygon points="104.53,63.81 104.53,67.5 101.29,65.66" fill="none" stroke="#4b3b3f" stroke-width="0.85" stroke-linejoin="miter"/><polygon points="110.2,58.44 110.2,62.14 106.97,60.29" fill="none" stroke="#4b3b3f" stroke-width="0.85" stroke-linejoin="miter"/><polygon points="115.88,58.33 115.88,62.02 112.64,60.18" fill="none" stroke="#4b3b3f" stroke-width="0.85" stroke-linejoin="miter"/><polygon points="121.55,58.33 121.55,62.02 118.32,60.18" fill="none" stroke="#4b3b3f" stroke-width="0.85" stroke-linejoin="miter"/><polygon points="127.23,55.42 127.23,59.11 123.99,57.26" fill="none" stroke="#4b3b3f" stroke-width="0.85" stroke-linejoin="miter"/><polygon points="132.9,55.64 132.9,59.34 129.67,57.49" fill="none" stroke="#4b3b3f" stroke-width="0.85" stroke-linejoin="miter"/><polygon points="138.58,54.22 138.58,57.91 135.34,56.06" fill="none" stroke="#4b3b3f" stroke-width="0.85" stroke-linejoin="miter"/><polygon points="144.25,53.47 144.25,57.17 141.02,55.32" fill="none" stroke="#4b3b3f" stroke-width="0.85" stroke-linejoin="miter"/><polygon points="149.93,53.87 149.93,57.57 146.69,55.72" fill="none" stroke="#4b3b3f" stroke-width="0.85" stroke-linejoin="miter"/><polygon points="155.6,53.13 155.6,56.83 152.37,54.98" fill="none" stroke="#4b3b3f" stroke-width="0.85" stroke-linejoin="miter"/><polygon points="161.28,52.67 161.28,56.37 158.04,54.52" fill="none" stroke="#4b3b3f" stroke-width="0.85" stroke-linejoin="miter"/><polygon points="166.95,52.96 166.95,56.66 163.72,54.81" fill="none" stroke="#4b3b3f" stroke-width="0.85" stroke-linejoin="miter"/><polygon points="172.63,54.79 172.63,58.48 169.39,56.64" fill="none" stroke="#4b3b3f" stroke-width="0.85" stroke-linejoin="miter"/><polygon points="178.3,53.36 178.3,57.06 175.07,55.21" fill="none" stroke="#4b3b3f" stroke-width="0.85" stroke-linejoin="miter"/><polygon points="183.98,52.45 183.98,56.14 180.74,54.29" fill="none" stroke="#4b3b3f" stroke-width="0.85" stroke-linejoin="miter"/><polygon points="189.65,52.79 189.65,56.48 186.42,54.64" fill="none" stroke="#4b3b3f" stroke-width="0.85" stroke-linejoin="miter"/><polygon points="195.33,52.79 195.33,56.48 192.09,54.64" fill="none" stroke="#4b3b3f" stroke-width="0.85" stroke-linejoin="miter"/><polygon points="201,51.93 201,55.63 197.77,53.78" fill="none" stroke="#4b3b3f" stroke-width="0.85" stroke-linejoin="miter"/><polygon points="206.68,51.7 206.68,55.4 203.44,53.55" fill="none" stroke="#4b3b3f" stroke-width="0.85" stroke-linejoin="miter"/><polygon points="212.35,52.45 212.35,56.14 209.12,54.29" fill="none" stroke="#4b3b3f" stroke-width="0.85" stroke-linejoin="miter"/><polygon points="218.03,51.7 218.03,55.4 214.79,53.55" fill="none" stroke="#4b3b3f" stroke-width="0.85" stroke-linejoin="miter"/><polygon points="223.7,51.53 223.7,55.23 220.47,53.38" fill="none" stroke="#4b3b3f" stroke-width="0.85" stroke-linejoin="miter"/><polygon points="229.38,51.25 229.38,54.94 226.14,53.09" fill="none" stroke="#4b3b3f" stroke-width="0.85" stroke-linejoin="miter"/><polygon points="235.05,51.53 235.05,55.23 231.82,53.38" fill="none" stroke="#4b3b3f" stroke-width="0.85" stroke-linejoin="miter"/><polygon points="240.73,52.1 240.73,55.8 237.49,53.95" fill="none" stroke="#4b3b3f" stroke-width="0.85" stroke-linejoin="miter"/><polygon points="246.4,52.1 246.4,55.8 243.17,53.95" fill="none" stroke="#4b3b3f" stroke-width="0.85" stroke-linejoin="miter"/><polygon points="252.08,50.79 252.08,54.49 248.84,52.64" fill="none" stroke="#4b3b3f" stroke-width="0.85" stroke-linejoin="miter"/><polygon points="257.75,51.36 257.75,55.06 254.52,53.21" fill="none" stroke="#4b3b3f" stroke-width="0.85" stroke-linejoin="miter"/><polygon points="263.43,51.25 263.43,54.94 260.19,53.09" fill="none" stroke="#4b3b3f" stroke-width="0.85" stroke-linejoin="miter"/><polygon points="269.1,51.02 269.1,54.71 265.87,52.87" fill="none" stroke="#4b3b3f" stroke-width="0.85" stroke-linejoin="miter"/><polygon points="274.78,51.02 274.78,54.71 271.54,52.87" fill="none" stroke="#4b3b3f" stroke-width="0.85" stroke-linejoin="miter"/><polygon points="280.45,51.25 280.45,54.94 277.22,53.09" fill="none" stroke="#4b3b3f" stroke-width="0.85" stroke-linejoin="miter"/><polygon points="286.13,50.79 286.13,54.49 282.89,52.64" fill="none" stroke="#4b3b3f" stroke-width="0.85" stroke-linejoin="miter"/><polygon points="291.8,51.02 291.8,54.71 288.57,52.87" fill="none" stroke="#4b3b3f" stroke-width="0.85" stroke-linejoin="miter"/><polygon points="297.48,51.02 297.48,54.71 294.24,52.87" fill="none" stroke="#4b3b3f" stroke-width="0.85" stroke-linejoin="miter"/></g><g clip-path="url(#cpa)"><g transform="translate(0.3,0.5)">
</g></g>
<rect x="69.4" y="22.3" width="226.6" height="169.2" fill="none" stroke="#3a3a3a" stroke-width="0.75"/>
<path d="M69.4 191.3h2.3M296 191.3h-2.3" stroke="#262626" stroke-width="0.7"/>
<text transform="translate(64.6,196.9) scale(1,1.05)" font-size="14.2" text-anchor="end" font-family="Liberation Sans, sans-serif" fill="#262626">40</text>
<path d="M69.4 142.97h2.3M296 142.97h-2.3" stroke="#262626" stroke-width="0.7"/>
<text transform="translate(64.6,148.57) scale(1,1.05)" font-size="14.2" text-anchor="end" font-family="Liberation Sans, sans-serif" fill="#262626">60</text>
<path d="M69.4 94.63h2.3M296 94.63h-2.3" stroke="#262626" stroke-width="0.7"/>
<text transform="translate(64.6,100.23) scale(1,1.05)" font-size="14.2" text-anchor="end" font-family="Liberation Sans, sans-serif" fill="#262626">80</text>
<path d="M69.4 46.3h2.3M296 46.3h-2.3" stroke="#262626" stroke-width="0.7"/>
<text transform="translate(64.6,51.9) scale(1,1.05)" font-size="14.2" text-anchor="end" font-family="Liberation Sans, sans-serif" fill="#262626">100</text>
<path d="M182.5 191.5v-2.3M182.5 22.3v2.3" stroke="#262626" stroke-width="0.7"/>
<text transform="translate(182.5,211.9) scale(1,1.05)" font-size="14.2" text-anchor="middle" font-family="Liberation Sans, sans-serif" fill="#262626">200</text>
<path d="M296 191.5v-2.3M296 22.3v2.3" stroke="#262626" stroke-width="0.7"/>
<text transform="translate(296,211.9) scale(1,1.05)" font-size="14.2" text-anchor="middle" font-family="Liberation Sans, sans-serif" fill="#262626">400</text>
<text x="181.7" y="231.7" font-size="16" text-anchor="middle" font-family="Liberation Sans, sans-serif" fill="#262626" >Communication round</text>
<text transform="translate(35,106.9) rotate(-90)" font-size="16" text-anchor="middle" font-family="Liberation Sans, sans-serif" fill="#262626">Accuracy (%)</text>
<text x="171.4" y="253.7" font-size="14.5" text-anchor="middle" font-family="Liberation Serif, serif" fill="#1a1a1a" >(a) FMNIST</text>
<line x1="77.7" x2="93.7" y1="31.2" y2="31.2" stroke="#5b4794" stroke-width="0.9"/>
<circle cx="85.7" cy="31.2" r="1.3" fill="#5b4794" stroke="#5b4794" stroke-width="0.5"/>
<text x="95.5" y="35" font-size="12" text-anchor="start" font-family="Liberation Serif, serif" fill="#1a1a1a" textLength="37.5" lengthAdjust="spacingAndGlyphs">FedAvg</text>
<line x1="137.1" x2="153.1" y1="31.2" y2="31.2" stroke="#f07368" stroke-width="0.9"/>
<rect x="143.8" y="29.9" width="2.6" height="2.6" fill="#f07368" stroke="#f07368" stroke-width="0.5"/>
<text x="154.5" y="35" font-size="12" text-anchor="start" font-family="Liberation Serif, serif" fill="#1a1a1a" textLength="38.9" lengthAdjust="spacingAndGlyphs">FedProx</text>
<line x1="197.4" x2="213.4" y1="31.2" y2="31.2" stroke="#fda93a" stroke-width="0.9"/>
<polygon points="203.68,29.83 207.12,29.83 205.4,32.83" fill="#fda93a" stroke="#fda93a" stroke-width="0.5" stroke-linejoin="miter"/>
<text x="215.4" y="35" font-size="12" text-anchor="start" font-family="Liberation Serif, serif" fill="#1a1a1a" textLength="32.3" lengthAdjust="spacingAndGlyphs">FedPer</text>
<line x1="251" x2="267" y1="31.2" y2="31.2" stroke="#2f9fab" stroke-width="0.9"/>
<polygon points="257.28,32.57 260.72,32.57 259,29.57" fill="#2f9fab" stroke="#2f9fab" stroke-width="0.5" stroke-linejoin="miter"/>
<text x="269.4" y="35" font-size="12" text-anchor="start" font-family="Liberation Serif, serif" fill="#1a1a1a" textLength="23.4" lengthAdjust="spacingAndGlyphs">Ditto</text>
<line x1="77.7" x2="93.7" y1="44.2" y2="44.2" stroke="#0d5c63" stroke-width="0.9"/>
<polygon points="85.7,42.12 86.21,43.49 87.68,43.56 86.53,44.47 86.92,45.88 85.7,45.07 84.48,45.88 84.87,44.47 83.72,43.56 85.19,43.49" fill="#0d5c63" stroke="#0d5c63" stroke-width="0.3"/>
<text x="95.5" y="47.5" font-size="12" text-anchor="start" font-family="Liberation Serif, serif" fill="#1a1a1a" textLength="37.5" lengthAdjust="spacingAndGlyphs">pFedSD</text>
<line x1="137.1" x2="153.1" y1="44.2" y2="44.2" stroke="#55d3b4" stroke-width="0.9"/>
<polygon points="143.73,42.48 143.73,45.92 146.73,44.2" fill="#55d3b4" stroke="#55d3b4" stroke-width="0.5" stroke-linejoin="miter"/>
<text x="154.5" y="47.5" font-size="12" text-anchor="start" font-family="Liberation Serif, serif" fill="#1a1a1a" textLength="41.6" lengthAdjust="spacingAndGlyphs">FedBKD</text>
<line x1="200.1" x2="216.1" y1="44.2" y2="44.2" stroke="#4b3b3f" stroke-width="0.9"/>
<polygon points="209.47,42.48 209.47,45.92 206.47,44.2" fill="#4b3b3f" stroke="#4b3b3f" stroke-width="0.5" stroke-linejoin="miter"/>
<text x="217.9" y="47.5" font-size="12" text-anchor="start" font-family="Liberation Serif, serif" fill="#1a1a1a" textLength="39.1" lengthAdjust="spacingAndGlyphs">pFedCal</text>
</g>
<g>
<clipPath id="cpb"><rect x="380.3" y="22.3" width="235.2" height="169.2"/></clipPath>
<g clip-path="url(#cpb)"><g transform="translate(0,0.4)">
<polyline points="386.57,159.25 392.44,133 398.31,120.6 404.18,114.1 410.05,112 415.92,119.5 421.79,114.5 427.66,115.3 433.53,108 439.4,104.5 445.27,104.1 451.14,104.9 457.01,105.2 462.88,97.4 468.75,104.2 474.62,91.4 480.49,80.5 486.36,90.1 492.23,86.4 498.1,80 503.97,82.8 509.84,81 515.71,79 521.58,78.7 527.45,75.5 533.32,76.2 539.19,77.1 545.06,76.9 550.93,76 556.8,74.1 562.67,74.6 568.54,73.2 574.41,72.8 580.28,71.4 586.15,74.6 592.02,72.8 597.89,76 603.76,74.1 609.63,70.9 615.5,70.5" fill="none" stroke="#5b4794" stroke-width="1.0" stroke-linejoin="round"/>
</g></g><g transform="translate(0,0.4)"><circle cx="386.57" cy="159.25" r="1.4" fill="none" stroke="#5b4794" stroke-width="0.85"/><circle cx="392.44" cy="133" r="1.4" fill="none" stroke="#5b4794" stroke-width="0.85"/><circle cx="398.31" cy="120.6" r="1.4" fill="none" stroke="#5b4794" stroke-width="0.85"/><circle cx="404.18" cy="114.1" r="1.4" fill="none" stroke="#5b4794" stroke-width="0.85"/><circle cx="410.05" cy="112" r="1.4" fill="none" stroke="#5b4794" stroke-width="0.85"/><circle cx="415.92" cy="119.5" r="1.4" fill="none" stroke="#5b4794" stroke-width="0.85"/><circle cx="421.79" cy="114.5" r="1.4" fill="none" stroke="#5b4794" stroke-width="0.85"/><circle cx="427.66" cy="115.3" r="1.4" fill="none" stroke="#5b4794" stroke-width="0.85"/><circle cx="433.53" cy="108" r="1.4" fill="none" stroke="#5b4794" stroke-width="0.85"/><circle cx="439.4" cy="104.5" r="1.4" fill="none" stroke="#5b4794" stroke-width="0.85"/><circle cx="445.27" cy="104.1" r="1.4" fill="none" stroke="#5b4794" stroke-width="0.85"/><circle cx="451.14" cy="104.9" r="1.4" fill="none" stroke="#5b4794" stroke-width="0.85"/><circle cx="457.01" cy="105.2" r="1.4" fill="none" stroke="#5b4794" stroke-width="0.85"/><circle cx="462.88" cy="97.4" r="1.4" fill="none" stroke="#5b4794" stroke-width="0.85"/><circle cx="468.75" cy="104.2" r="1.4" fill="none" stroke="#5b4794" stroke-width="0.85"/><circle cx="474.62" cy="91.4" r="1.4" fill="none" stroke="#5b4794" stroke-width="0.85"/><circle cx="480.49" cy="80.5" r="1.4" fill="none" stroke="#5b4794" stroke-width="0.85"/><circle cx="486.36" cy="90.1" r="1.4" fill="none" stroke="#5b4794" stroke-width="0.85"/><circle cx="492.23" cy="86.4" r="1.4" fill="none" stroke="#5b4794" stroke-width="0.85"/><circle cx="498.1" cy="80" r="1.4" fill="none" stroke="#5b4794" stroke-width="0.85"/><circle cx="503.97" cy="82.8" r="1.4" fill="none" stroke="#5b4794" stroke-width="0.85"/><circle cx="509.84" cy="81" r="1.4" fill="none" stroke="#5b4794" stroke-width="0.85"/><circle cx="515.71" cy="79" r="1.4" fill="none" stroke="#5b4794" stroke-width="0.85"/><circle cx="521.58" cy="78.7" r="1.4" fill="none" stroke="#5b4794" stroke-width="0.85"/><circle cx="527.45" cy="75.5" r="1.4" fill="none" stroke="#5b4794" stroke-width="0.85"/><circle cx="533.32" cy="76.2" r="1.4" fill="none" stroke="#5b4794" stroke-width="0.85"/><circle cx="539.19" cy="77.1" r="1.4" fill="none" stroke="#5b4794" stroke-width="0.85"/><circle cx="545.06" cy="76.9" r="1.4" fill="none" stroke="#5b4794" stroke-width="0.85"/><circle cx="550.93" cy="76" r="1.4" fill="none" stroke="#5b4794" stroke-width="0.85"/><circle cx="556.8" cy="74.1" r="1.4" fill="none" stroke="#5b4794" stroke-width="0.85"/><circle cx="562.67" cy="74.6" r="1.4" fill="none" stroke="#5b4794" stroke-width="0.85"/><circle cx="568.54" cy="73.2" r="1.4" fill="none" stroke="#5b4794" stroke-width="0.85"/><circle cx="574.41" cy="72.8" r="1.4" fill="none" stroke="#5b4794" stroke-width="0.85"/><circle cx="580.28" cy="71.4" r="1.4" fill="none" stroke="#5b4794" stroke-width="0.85"/><circle cx="586.15" cy="74.6" r="1.4" fill="none" stroke="#5b4794" stroke-width="0.85"/><circle cx="592.02" cy="72.8" r="1.4" fill="none" stroke="#5b4794" stroke-width="0.85"/><circle cx="597.89" cy="76" r="1.4" fill="none" stroke="#5b4794" stroke-width="0.85"/><circle cx="603.76" cy="74.1" r="1.4" fill="none" stroke="#5b4794" stroke-width="0.85"/><circle cx="609.63" cy="70.9" r="1.4" fill="none" stroke="#5b4794" stroke-width="0.85"/><circle cx="615.5" cy="70.5" r="1.4" fill="none" stroke="#5b4794" stroke-width="0.85"/></g><g clip-path="url(#cpb)"><g transform="translate(0,0.4)">
<polyline points="386.57,158 392.44,147 398.31,128.5 404.18,121.5 410.05,115.3 415.92,117.4 421.79,117 427.66,118.25 433.53,118.25 439.4,115.3 445.27,112.4 451.14,103.7 457.01,98.3 462.88,104.2 468.75,100.1 474.62,98.7 480.49,96.4 486.36,90.5 492.23,94.6 498.1,92.4 503.97,95.1 509.84,91.4 515.71,93.3 521.58,91.4 527.45,94.2 533.32,89.2 539.19,90.1 545.06,86.9 550.93,84.2 556.8,86.4 562.67,86.9 568.54,84.6 574.41,84.6 580.28,87.3 586.15,86.4 592.02,83.7 597.89,83.7 603.76,84.2 609.63,81.9 615.5,84.6" fill="none" stroke="#f07368" stroke-width="1.0" stroke-linejoin="round"/>
</g></g><g transform="translate(0,0.4)"><rect x="385.17" y="156.6" width="2.8" height="2.8" fill="none" stroke="#f07368" stroke-width="0.85"/><rect x="391.04" y="145.6" width="2.8" height="2.8" fill="none" stroke="#f07368" stroke-width="0.85"/><rect x="396.91" y="127.1" width="2.8" height="2.8" fill="none" stroke="#f07368" stroke-width="0.85"/><rect x="402.78" y="120.1" width="2.8" height="2.8" fill="none" stroke="#f07368" stroke-width="0.85"/><rect x="408.65" y="113.9" width="2.8" height="2.8" fill="none" stroke="#f07368" stroke-width="0.85"/><rect x="414.52" y="116" width="2.8" height="2.8" fill="none" stroke="#f07368" stroke-width="0.85"/><rect x="420.39" y="115.6" width="2.8" height="2.8" fill="none" stroke="#f07368" stroke-width="0.85"/><rect x="426.26" y="116.85" width="2.8" height="2.8" fill="none" stroke="#f07368" stroke-width="0.85"/><rect x="432.13" y="116.85" width="2.8" height="2.8" fill="none" stroke="#f07368" stroke-width="0.85"/><rect x="438" y="113.9" width="2.8" height="2.8" fill="none" stroke="#f07368" stroke-width="0.85"/><rect x="443.87" y="111" width="2.8" height="2.8" fill="none" stroke="#f07368" stroke-width="0.85"/><rect x="449.74" y="102.3" width="2.8" height="2.8" fill="none" stroke="#f07368" stroke-width="0.85"/><rect x="455.61" y="96.9" width="2.8" height="2.8" fill="none" stroke="#f07368" stroke-width="0.85"/><rect x="461.48" y="102.8" width="2.8" height="2.8" fill="none" stroke="#f07368" stroke-width="0.85"/><rect x="467.35" y="98.7" width="2.8" height="2.8" fill="none" stroke="#f07368" stroke-width="0.85"/><rect x="473.22" y="97.3" width="2.8" height="2.8" fill="none" stroke="#f07368" stroke-width="0.85"/><rect x="479.09" y="95" width="2.8" height="2.8" fill="none" stroke="#f07368" stroke-width="0.85"/><rect x="484.96" y="89.1" width="2.8" height="2.8" fill="none" stroke="#f07368" stroke-width="0.85"/><rect x="490.83" y="93.2" width="2.8" height="2.8" fill="none" stroke="#f07368" stroke-width="0.85"/><rect x="496.7" y="91" width="2.8" height="2.8" fill="none" stroke="#f07368" stroke-width="0.85"/><rect x="502.57" y="93.7" width="2.8" height="2.8" fill="none" stroke="#f07368" stroke-width="0.85"/><rect x="508.44" y="90" width="2.8" height="2.8" fill="none" stroke="#f07368" stroke-width="0.85"/><rect x="514.31" y="91.9" width="2.8" height="2.8" fill="none" stroke="#f07368" stroke-width="0.85"/><rect x="520.18" y="90" width="2.8" height="2.8" fill="none" stroke="#f07368" stroke-width="0.85"/><rect x="526.05" y="92.8" width="2.8" height="2.8" fill="none" stroke="#f07368" stroke-width="0.85"/><rect x="531.92" y="87.8" width="2.8" height="2.8" fill="none" stroke="#f07368" stroke-width="0.85"/><rect x="537.79" y="88.7" width="2.8" height="2.8" fill="none" stroke="#f07368" stroke-width="0.85"/><rect x="543.66" y="85.5" width="2.8" height="2.8" fill="none" stroke="#f07368" stroke-width="0.85"/><rect x="549.53" y="82.8" width="2.8" height="2.8" fill="none" stroke="#f07368" stroke-width="0.85"/><rect x="555.4" y="85" width="2.8" height="2.8" fill="none" stroke="#f07368" stroke-width="0.85"/><rect x="561.27" y="85.5" width="2.8" height="2.8" fill="none" stroke="#f07368" stroke-width="0.85"/><rect x="567.14" y="83.2" width="2.8" height="2.8" fill="none" stroke="#f07368" stroke-width="0.85"/><rect x="573.01" y="83.2" width="2.8" height="2.8" fill="none" stroke="#f07368" stroke-width="0.85"/><rect x="578.88" y="85.9" width="2.8" height="2.8" fill="none" stroke="#f07368" stroke-width="0.85"/><rect x="584.75" y="85" width="2.8" height="2.8" fill="none" stroke="#f07368" stroke-width="0.85"/><rect x="590.62" y="82.3" width="2.8" height="2.8" fill="none" stroke="#f07368" stroke-width="0.85"/><rect x="596.49" y="82.3" width="2.8" height="2.8" fill="none" stroke="#f07368" stroke-width="0.85"/><rect x="602.36" y="82.8" width="2.8" height="2.8" fill="none" stroke="#f07368" stroke-width="0.85"/><rect x="608.23" y="80.5" width="2.8" height="2.8" fill="none" stroke="#f07368" stroke-width="0.85"/><rect x="614.1" y="83.2" width="2.8" height="2.8" fill="none" stroke="#f07368" stroke-width="0.85"/></g><g clip-path="url(#cpb)"><g transform="translate(0,0.4)">
<polyline points="386.57,183 392.44,167.6 398.31,123.7 404.18,109.9 410.05,94.9 415.92,92.8 421.79,89.9 427.66,94.1 433.53,88.7 439.4,90.3 445.27,88.25 451.14,89.1 457.01,83.25 462.88,84.6 468.75,82.3 474.62,79.6 480.49,85.1 486.36,81.4 492.23,78.2 498.1,80 503.97,81 509.84,79.6 515.71,77.8 521.58,79.1 527.45,82.3 533.32,76.2 539.19,76.4 545.06,74.6 550.93,76 556.8,75.5 562.67,77.3 568.54,73.2 574.41,76.9 580.28,79.1 586.15,76.4 592.02,77.3 597.89,71.9 603.76,70 609.63,73.7 615.5,74.1" fill="none" stroke="#fda93a" stroke-width="1.0" stroke-linejoin="round"/>
</g></g><g transform="translate(0,0.4)"><polygon points="384.72,181.52 388.42,181.52 386.57,184.76" fill="none" stroke="#fda93a" stroke-width="0.85" stroke-linejoin="miter"/><polygon points="390.59,166.12 394.29,166.12 392.44,169.36" fill="none" stroke="#fda93a" stroke-width="0.85" stroke-linejoin="miter"/><polygon points="396.46,122.22 400.16,122.22 398.31,125.46" fill="none" stroke="#fda93a" stroke-width="0.85" stroke-linejoin="miter"/><polygon points="402.33,108.42 406.03,108.42 404.18,111.66" fill="none" stroke="#fda93a" stroke-width="0.85" stroke-linejoin="miter"/><polygon points="408.2,93.42 411.9,93.42 410.05,96.66" fill="none" stroke="#fda93a" stroke-width="0.85" stroke-linejoin="miter"/><polygon points="414.07,91.32 417.77,91.32 415.92,94.56" fill="none" stroke="#fda93a" stroke-width="0.85" stroke-linejoin="miter"/><polygon points="419.94,88.42 423.64,88.42 421.79,91.66" fill="none" stroke="#fda93a" stroke-width="0.85" stroke-linejoin="miter"/><polygon points="425.81,92.62 429.51,92.62 427.66,95.86" fill="none" stroke="#fda93a" stroke-width="0.85" stroke-linejoin="miter"/><polygon points="431.68,87.22 435.38,87.22 433.53,90.46" fill="none" stroke="#fda93a" stroke-width="0.85" stroke-linejoin="miter"/><polygon points="437.55,88.82 441.25,88.82 439.4,92.06" fill="none" stroke="#fda93a" stroke-width="0.85" stroke-linejoin="miter"/><polygon points="443.42,86.77 447.12,86.77 445.27,90.01" fill="none" stroke="#fda93a" stroke-width="0.85" stroke-linejoin="miter"/><polygon points="449.29,87.62 452.99,87.62 451.14,90.86" fill="none" stroke="#fda93a" stroke-width="0.85" stroke-linejoin="miter"/><polygon points="455.16,81.77 458.86,81.77 457.01,85.01" fill="none" stroke="#fda93a" stroke-width="0.85" stroke-linejoin="miter"/><polygon points="461.03,83.12 464.73,83.12 462.88,86.36" fill="none" stroke="#fda93a" stroke-width="0.85" stroke-linejoin="miter"/><polygon points="466.9,80.82 470.6,80.82 468.75,84.06" fill="none" stroke="#fda93a" stroke-width="0.85" stroke-linejoin="miter"/><polygon points="472.77,78.12 476.47,78.12 474.62,81.36" fill="none" stroke="#fda93a" stroke-width="0.85" stroke-linejoin="miter"/><polygon points="478.64,83.62 482.34,83.62 480.49,86.86" fill="none" stroke="#fda93a" stroke-width="0.85" stroke-linejoin="miter"/><polygon points="484.51,79.92 488.21,79.92 486.36,83.16" fill="none" stroke="#fda93a" stroke-width="0.85" stroke-linejoin="miter"/><polygon points="490.38,76.72 494.08,76.72 492.23,79.96" fill="none" stroke="#fda93a" stroke-width="0.85" stroke-linejoin="miter"/><polygon points="496.25,78.52 499.95,78.52 498.1,81.76" fill="none" stroke="#fda93a" stroke-width="0.85" stroke-linejoin="miter"/><polygon points="502.12,79.52 505.82,79.52 503.97,82.76" fill="none" stroke="#fda93a" stroke-width="0.85" stroke-linejoin="miter"/><polygon points="507.99,78.12 511.69,78.12 509.84,81.36" fill="none" stroke="#fda93a" stroke-width="0.85" stroke-linejoin="miter"/><polygon points="513.86,76.32 517.56,76.32 515.71,79.56" fill="none" stroke="#fda93a" stroke-width="0.85" stroke-linejoin="miter"/><polygon points="519.73,77.62 523.43,77.62 521.58,80.86" fill="none" stroke="#fda93a" stroke-width="0.85" stroke-linejoin="miter"/><polygon points="525.6,80.82 529.3,80.82 527.45,84.06" fill="none" stroke="#fda93a" stroke-width="0.85" stroke-linejoin="miter"/><polygon points="531.47,74.72 535.17,74.72 533.32,77.96" fill="none" stroke="#fda93a" stroke-width="0.85" stroke-linejoin="miter"/><polygon points="537.34,74.92 541.04,74.92 539.19,78.16" fill="none" stroke="#fda93a" stroke-width="0.85" stroke-linejoin="miter"/><polygon points="543.21,73.12 546.91,73.12 545.06,76.36" fill="none" stroke="#fda93a" stroke-width="0.85" stroke-linejoin="miter"/><polygon points="549.08,74.52 552.78,74.52 550.93,77.76" fill="none" stroke="#fda93a" stroke-width="0.85" stroke-linejoin="miter"/><polygon points="554.95,74.02 558.65,74.02 556.8,77.26" fill="none" stroke="#fda93a" stroke-width="0.85" stroke-linejoin="miter"/><polygon points="560.82,75.82 564.52,75.82 562.67,79.06" fill="none" stroke="#fda93a" stroke-width="0.85" stroke-linejoin="miter"/><polygon points="566.69,71.72 570.39,71.72 568.54,74.96" fill="none" stroke="#fda93a" stroke-width="0.85" stroke-linejoin="miter"/><polygon points="572.56,75.42 576.26,75.42 574.41,78.66" fill="none" stroke="#fda93a" stroke-width="0.85" stroke-linejoin="miter"/><polygon points="578.43,77.62 582.13,77.62 580.28,80.86" fill="none" stroke="#fda93a" stroke-width="0.85" stroke-linejoin="miter"/><polygon points="584.3,74.92 588,74.92 586.15,78.16" fill="none" stroke="#fda93a" stroke-width="0.85" stroke-linejoin="miter"/><polygon points="590.17,75.82 593.87,75.82 592.02,79.06" fill="none" stroke="#fda93a" stroke-width="0.85" stroke-linejoin="miter"/><polygon points="596.04,70.42 599.74,70.42 597.89,73.66" fill="none" stroke="#fda93a" stroke-width="0.85" stroke-linejoin="miter"/><polygon points="601.91,68.52 605.61,68.52 603.76,71.76" fill="none" stroke="#fda93a" stroke-width="0.85" stroke-linejoin="miter"/><polygon points="607.78,72.22 611.48,72.22 609.63,75.46" fill="none" stroke="#fda93a" stroke-width="0.85" stroke-linejoin="miter"/><polygon points="613.65,72.62 617.35,72.62 615.5,75.86" fill="none" stroke="#fda93a" stroke-width="0.85" stroke-linejoin="miter"/></g><g clip-path="url(#cpb)"><g transform="translate(0,0.4)">
<polyline points="386.57,172.2 392.44,172.2 398.31,166.3 404.18,161.75 410.05,167.2 415.92,151.3 421.79,138 427.66,116.5 433.53,109.5 439.4,98.7 445.27,96.2 451.14,95.3 457.01,91.3 462.88,90.1 468.75,89.2 474.62,86.4 480.49,86.4 486.36,83.2 492.23,86.9 498.1,81.4 503.97,84.6 509.84,81 515.71,80 521.58,77.3 527.45,79.6 533.32,79.8 539.19,80.1 545.06,78.2 550.93,78.7 556.8,74.6 562.67,74.6 568.54,75.5 574.41,71.9 580.28,74.6 586.15,77.3 592.02,71.9 597.89,72.8 603.76,75 609.63,73.2 615.5,70.5" fill="none" stroke="#2f9fab" stroke-width="1.0" stroke-linejoin="round"/>
</g></g><g transform="translate(0,0.4)"><polygon points="384.72,173.68 388.42,173.68 386.57,170.44" fill="none" stroke="#2f9fab" stroke-width="0.85" stroke-linejoin="miter"/><polygon points="390.59,173.68 394.29,173.68 392.44,170.44" fill="none" stroke="#2f9fab" stroke-width="0.85" stroke-linejoin="miter"/><polygon points="396.46,167.78 400.16,167.78 398.31,164.54" fill="none" stroke="#2f9fab" stroke-width="0.85" stroke-linejoin="miter"/><polygon points="402.33,163.23 406.03,163.23 404.18,159.99" fill="none" stroke="#2f9fab" stroke-width="0.85" stroke-linejoin="miter"/><polygon points="408.2,168.68 411.9,168.68 410.05,165.44" fill="none" stroke="#2f9fab" stroke-width="0.85" stroke-linejoin="miter"/><polygon points="414.07,152.78 417.77,152.78 415.92,149.54" fill="none" stroke="#2f9fab" stroke-width="0.85" stroke-linejoin="miter"/><polygon points="419.94,139.48 423.64,139.48 421.79,136.24" fill="none" stroke="#2f9fab" stroke-width="0.85" stroke-linejoin="miter"/><polygon points="425.81,117.98 429.51,117.98 427.66,114.74" fill="none" stroke="#2f9fab" stroke-width="0.85" stroke-linejoin="miter"/><polygon points="431.68,110.98 435.38,110.98 433.53,107.74" fill="none" stroke="#2f9fab" stroke-width="0.85" stroke-linejoin="miter"/><polygon points="437.55,100.18 441.25,100.18 439.4,96.94" fill="none" stroke="#2f9fab" stroke-width="0.85" stroke-linejoin="miter"/><polygon points="443.42,97.68 447.12,97.68 445.27,94.44" fill="none" stroke="#2f9fab" stroke-width="0.85" stroke-linejoin="miter"/><polygon points="449.29,96.78 452.99,96.78 451.14,93.54" fill="none" stroke="#2f9fab" stroke-width="0.85" stroke-linejoin="miter"/><polygon points="455.16,92.78 458.86,92.78 457.01,89.54" fill="none" stroke="#2f9fab" stroke-width="0.85" stroke-linejoin="miter"/><polygon points="461.03,91.58 464.73,91.58 462.88,88.34" fill="none" stroke="#2f9fab" stroke-width="0.85" stroke-linejoin="miter"/><polygon points="466.9,90.68 470.6,90.68 468.75,87.44" fill="none" stroke="#2f9fab" stroke-width="0.85" stroke-linejoin="miter"/><polygon points="472.77,87.88 476.47,87.88 474.62,84.64" fill="none" stroke="#2f9fab" stroke-width="0.85" stroke-linejoin="miter"/><polygon points="478.64,87.88 482.34,87.88 480.49,84.64" fill="none" stroke="#2f9fab" stroke-width="0.85" stroke-linejoin="miter"/><polygon points="484.51,84.68 488.21,84.68 486.36,81.44" fill="none" stroke="#2f9fab" stroke-width="0.85" stroke-linejoin="miter"/><polygon points="490.38,88.38 494.08,88.38 492.23,85.14" fill="none" stroke="#2f9fab" stroke-width="0.85" stroke-linejoin="miter"/><polygon points="496.25,82.88 499.95,82.88 498.1,79.64" fill="none" stroke="#2f9fab" stroke-width="0.85" stroke-linejoin="miter"/><polygon points="502.12,86.08 505.82,86.08 503.97,82.84" fill="none" stroke="#2f9fab" stroke-width="0.85" stroke-linejoin="miter"/><polygon points="507.99,82.48 511.69,82.48 509.84,79.24" fill="none" stroke="#2f9fab" stroke-width="0.85" stroke-linejoin="miter"/><polygon points="513.86,81.48 517.56,81.48 515.71,78.24" fill="none" stroke="#2f9fab" stroke-width="0.85" stroke-linejoin="miter"/><polygon points="519.73,78.78 523.43,78.78 521.58,75.54" fill="none" stroke="#2f9fab" stroke-width="0.85" stroke-linejoin="miter"/><polygon points="525.6,81.08 529.3,81.08 527.45,77.84" fill="none" stroke="#2f9fab" stroke-width="0.85" stroke-linejoin="miter"/><polygon points="531.47,81.28 535.17,81.28 533.32,78.04" fill="none" stroke="#2f9fab" stroke-width="0.85" stroke-linejoin="miter"/><polygon points="537.34,81.58 541.04,81.58 539.19,78.34" fill="none" stroke="#2f9fab" stroke-width="0.85" stroke-linejoin="miter"/><polygon points="543.21,79.68 546.91,79.68 545.06,76.44" fill="none" stroke="#2f9fab" stroke-width="0.85" stroke-linejoin="miter"/><polygon points="549.08,80.18 552.78,80.18 550.93,76.94" fill="none" stroke="#2f9fab" stroke-width="0.85" stroke-linejoin="miter"/><polygon points="554.95,76.08 558.65,76.08 556.8,72.84" fill="none" stroke="#2f9fab" stroke-width="0.85" stroke-linejoin="miter"/><polygon points="560.82,76.08 564.52,76.08 562.67,72.84" fill="none" stroke="#2f9fab" stroke-width="0.85" stroke-linejoin="miter"/><polygon points="566.69,76.98 570.39,76.98 568.54,73.74" fill="none" stroke="#2f9fab" stroke-width="0.85" stroke-linejoin="miter"/><polygon points="572.56,73.38 576.26,73.38 574.41,70.14" fill="none" stroke="#2f9fab" stroke-width="0.85" stroke-linejoin="miter"/><polygon points="578.43,76.08 582.13,76.08 580.28,72.84" fill="none" stroke="#2f9fab" stroke-width="0.85" stroke-linejoin="miter"/><polygon points="584.3,78.78 588,78.78 586.15,75.54" fill="none" stroke="#2f9fab" stroke-width="0.85" stroke-linejoin="miter"/><polygon points="590.17,73.38 593.87,73.38 592.02,70.14" fill="none" stroke="#2f9fab" stroke-width="0.85" stroke-linejoin="miter"/><polygon points="596.04,74.28 599.74,74.28 597.89,71.04" fill="none" stroke="#2f9fab" stroke-width="0.85" stroke-linejoin="miter"/><polygon points="601.91,76.48 605.61,76.48 603.76,73.24" fill="none" stroke="#2f9fab" stroke-width="0.85" stroke-linejoin="miter"/><polygon points="607.78,74.68 611.48,74.68 609.63,71.44" fill="none" stroke="#2f9fab" stroke-width="0.85" stroke-linejoin="miter"/><polygon points="613.65,71.98 617.35,71.98 615.5,68.74" fill="none" stroke="#2f9fab" stroke-width="0.85" stroke-linejoin="miter"/></g><g clip-path="url(#cpb)"><g transform="translate(0,0.4)">
<polyline points="386.57,157.6 392.44,145.5 398.31,126 404.18,124.6 410.05,117.8 415.92,111.6 421.79,112 427.66,114.9 433.53,107 439.4,112.4 445.27,102.4 451.14,104.1 457.01,104.35 462.88,97.8 468.75,104.6 474.62,109.2 480.49,97.4 486.36,98.3 492.23,102.8 498.1,96.9 503.97,99.6 509.84,97.4 515.71,97.4 521.58,97.8 527.45,96.4 533.32,97.8 539.19,102.4 545.06,96.4 550.93,92.8 556.8,93.7 562.67,93.7 568.54,91.9 574.41,94.6 580.28,91.4 586.15,93.7 592.02,95.5 597.89,94.6 603.76,93.3 609.63,93.3 615.5,94.6" fill="none" stroke="#0d5c63" stroke-width="1.0" stroke-linejoin="round"/>
</g></g><g transform="translate(0,0.4)"><polygon points="386.57,155.36 387.12,156.84 388.7,156.91 387.46,157.89 387.89,159.41 386.57,158.54 385.25,159.41 385.68,157.89 384.44,156.91 386.02,156.84" fill="#0d5c63" stroke="#0d5c63" stroke-width="0.51"/><polygon points="392.44,143.26 392.99,144.74 394.57,144.81 393.33,145.79 393.76,147.31 392.44,146.44 391.12,147.31 391.55,145.79 390.31,144.81 391.89,144.74" fill="#0d5c63" stroke="#0d5c63" stroke-width="0.51"/><polygon points="398.31,123.76 398.86,125.24 400.44,125.31 399.2,126.29 399.63,127.81 398.31,126.94 396.99,127.81 397.42,126.29 396.18,125.31 397.76,125.24" fill="#0d5c63" stroke="#0d5c63" stroke-width="0.51"/><polygon points="404.18,122.36 404.73,123.84 406.31,123.91 405.07,124.89 405.5,126.41 404.18,125.54 402.86,126.41 403.29,124.89 402.05,123.91 403.63,123.84" fill="#0d5c63" stroke="#0d5c63" stroke-width="0.51"/><polygon points="410.05,115.56 410.6,117.04 412.18,117.11 410.94,118.09 411.37,119.61 410.05,118.74 408.73,119.61 409.16,118.09 407.92,117.11 409.5,117.04" fill="#0d5c63" stroke="#0d5c63" stroke-width="0.51"/><polygon points="415.92,109.36 416.47,110.84 418.05,110.91 416.81,111.89 417.24,113.41 415.92,112.54 414.6,113.41 415.03,111.89 413.79,110.91 415.37,110.84" fill="#0d5c63" stroke="#0d5c63" stroke-width="0.51"/><polygon points="421.79,109.76 422.34,111.24 423.92,111.31 422.68,112.29 423.11,113.81 421.79,112.94 420.47,113.81 420.9,112.29 419.66,111.31 421.24,111.24" fill="#0d5c63" stroke="#0d5c63" stroke-width="0.51"/><polygon points="427.66,112.66 428.21,114.14 429.79,114.21 428.55,115.19 428.98,116.71 427.66,115.84 426.34,116.71 426.77,115.19 425.53,114.21 427.11,114.14" fill="#0d5c63" stroke="#0d5c63" stroke-width="0.51"/><polygon points="433.53,104.76 434.08,106.24 435.66,106.31 434.42,107.29 434.85,108.81 433.53,107.94 432.21,108.81 432.64,107.29 431.4,106.31 432.98,106.24" fill="#0d5c63" stroke="#0d5c63" stroke-width="0.51"/><polygon points="439.4,110.16 439.95,111.64 441.53,111.71 440.29,112.69 440.72,114.21 439.4,113.34 438.08,114.21 438.51,112.69 437.27,111.71 438.85,111.64" fill="#0d5c63" stroke="#0d5c63" stroke-width="0.51"/><polygon points="445.27,100.16 445.82,101.64 447.4,101.71 446.16,102.69 446.59,104.21 445.27,103.34 443.95,104.21 444.38,102.69 443.14,101.71 444.72,101.64" fill="#0d5c63" stroke="#0d5c63" stroke-width="0.51"/><polygon points="451.14,101.86 451.69,103.34 453.27,103.41 452.03,104.39 452.46,105.91 451.14,105.04 449.82,105.91 450.25,104.39 449.01,103.41 450.59,103.34" fill="#0d5c63" stroke="#0d5c63" stroke-width="0.51"/><polygon points="457.01,102.11 457.56,103.59 459.14,103.66 457.9,104.64 458.33,106.16 457.01,105.29 455.69,106.16 456.12,104.64 454.88,103.66 456.46,103.59" fill="#0d5c63" stroke="#0d5c63" stroke-width="0.51"/><polygon points="462.88,95.56 463.43,97.04 465.01,97.11 463.77,98.09 464.2,99.61 462.88,98.74 461.56,99.61 461.99,98.09 460.75,97.11 462.33,97.04" fill="#0d5c63" stroke="#0d5c63" stroke-width="0.51"/><polygon points="468.75,102.36 469.3,103.84 470.88,103.91 469.64,104.89 470.07,106.41 468.75,105.54 467.43,106.41 467.86,104.89 466.62,103.91 468.2,103.84" fill="#0d5c63" stroke="#0d5c63" stroke-width="0.51"/><polygon points="474.62,106.96 475.17,108.44 476.75,108.51 475.51,109.49 475.94,111.01 474.62,110.14 473.3,111.01 473.73,109.49 472.49,108.51 474.07,108.44" fill="#0d5c63" stroke="#0d5c63" stroke-width="0.51"/><polygon points="480.49,95.16 481.04,96.64 482.62,96.71 481.38,97.69 481.81,99.21 480.49,98.34 479.17,99.21 479.6,97.69 478.36,96.71 479.94,96.64" fill="#0d5c63" stroke="#0d5c63" stroke-width="0.51"/><polygon points="486.36,96.06 486.91,97.54 488.49,97.61 487.25,98.59 487.68,100.11 486.36,99.24 485.04,100.11 485.47,98.59 484.23,97.61 485.81,97.54" fill="#0d5c63" stroke="#0d5c63" stroke-width="0.51"/><polygon points="492.23,100.56 492.78,102.04 494.36,102.11 493.12,103.09 493.55,104.61 492.23,103.74 490.91,104.61 491.34,103.09 490.1,102.11 491.68,102.04" fill="#0d5c63" stroke="#0d5c63" stroke-width="0.51"/><polygon points="498.1,94.66 498.65,96.14 500.23,96.21 498.99,97.19 499.42,98.71 498.1,97.84 496.78,98.71 497.21,97.19 495.97,96.21 497.55,96.14" fill="#0d5c63" stroke="#0d5c63" stroke-width="0.51"/><polygon points="503.97,97.36 504.52,98.84 506.1,98.91 504.86,99.89 505.29,101.41 503.97,100.54 502.65,101.41 503.08,99.89 501.84,98.91 503.42,98.84" fill="#0d5c63" stroke="#0d5c63" stroke-width="0.51"/><polygon points="509.84,95.16 510.39,96.64 511.97,96.71 510.73,97.69 511.16,99.21 509.84,98.34 508.52,99.21 508.95,97.69 507.71,96.71 509.29,96.64" fill="#0d5c63" stroke="#0d5c63" stroke-width="0.51"/><polygon points="515.71,95.16 516.26,96.64 517.84,96.71 516.6,97.69 517.03,99.21 515.71,98.34 514.39,99.21 514.82,97.69 513.58,96.71 515.16,96.64" fill="#0d5c63" stroke="#0d5c63" stroke-width="0.51"/><polygon points="521.58,95.56 522.13,97.04 523.71,97.11 522.47,98.09 522.9,99.61 521.58,98.74 520.26,99.61 520.69,98.09 519.45,97.11 521.03,97.04" fill="#0d5c63" stroke="#0d5c63" stroke-width="0.51"/><polygon points="527.45,94.16 528,95.64 529.58,95.71 528.34,96.69 528.77,98.21 527.45,97.34 526.13,98.21 526.56,96.69 525.32,95.71 526.9,95.64" fill="#0d5c63" stroke="#0d5c63" stroke-width="0.51"/><polygon points="533.32,95.56 533.87,97.04 535.45,97.11 534.21,98.09 534.64,99.61 533.32,98.74 532,99.61 532.43,98.09 531.19,97.11 532.77,97.04" fill="#0d5c63" stroke="#0d5c63" stroke-width="0.51"/><polygon points="539.19,100.16 539.74,101.64 541.32,101.71 540.08,102.69 540.51,104.21 539.19,103.34 537.87,104.21 538.3,102.69 537.06,101.71 538.64,101.64" fill="#0d5c63" stroke="#0d5c63" stroke-width="0.51"/><polygon points="545.06,94.16 545.61,95.64 547.19,95.71 545.95,96.69 546.38,98.21 545.06,97.34 543.74,98.21 544.17,96.69 542.93,95.71 544.51,95.64" fill="#0d5c63" stroke="#0d5c63" stroke-width="0.51"/><polygon points="550.93,90.56 551.48,92.04 553.06,92.11 551.82,93.09 552.25,94.61 550.93,93.74 549.61,94.61 550.04,93.09 548.8,92.11 550.38,92.04" fill="#0d5c63" stroke="#0d5c63" stroke-width="0.51"/><polygon points="556.8,91.46 557.35,92.94 558.93,93.01 557.69,93.99 558.12,95.51 556.8,94.64 555.48,95.51 555.91,93.99 554.67,93.01 556.25,92.94" fill="#0d5c63" stroke="#0d5c63" stroke-width="0.51"/><polygon points="562.67,91.46 563.22,92.94 564.8,93.01 563.56,93.99 563.99,95.51 562.67,94.64 561.35,95.51 561.78,93.99 560.54,93.01 562.12,92.94" fill="#0d5c63" stroke="#0d5c63" stroke-width="0.51"/><polygon points="568.54,89.66 569.09,91.14 570.67,91.21 569.43,92.19 569.86,93.71 568.54,92.84 567.22,93.71 567.65,92.19 566.41,91.21 567.99,91.14" fill="#0d5c63" stroke="#0d5c63" stroke-width="0.51"/><polygon points="574.41,92.36 574.96,93.84 576.54,93.91 575.3,94.89 575.73,96.41 574.41,95.54 573.09,96.41 573.52,94.89 572.28,93.91 573.86,93.84" fill="#0d5c63" stroke="#0d5c63" stroke-width="0.51"/><polygon points="580.28,89.16 580.83,90.64 582.41,90.71 581.17,91.69 581.6,93.21 580.28,92.34 578.96,93.21 579.39,91.69 578.15,90.71 579.73,90.64" fill="#0d5c63" stroke="#0d5c63" stroke-width="0.51"/><polygon points="586.15,91.46 586.7,92.94 588.28,93.01 587.04,93.99 587.47,95.51 586.15,94.64 584.83,95.51 585.26,93.99 584.02,93.01 585.6,92.94" fill="#0d5c63" stroke="#0d5c63" stroke-width="0.51"/><polygon points="592.02,93.26 592.57,94.74 594.15,94.81 592.91,95.79 593.34,97.31 592.02,96.44 590.7,97.31 591.13,95.79 589.89,94.81 591.47,94.74" fill="#0d5c63" stroke="#0d5c63" stroke-width="0.51"/><polygon points="597.89,92.36 598.44,93.84 600.02,93.91 598.78,94.89 599.21,96.41 597.89,95.54 596.57,96.41 597,94.89 595.76,93.91 597.34,93.84" fill="#0d5c63" stroke="#0d5c63" stroke-width="0.51"/><polygon points="603.76,91.06 604.31,92.54 605.89,92.61 604.65,93.59 605.08,95.11 603.76,94.24 602.44,95.11 602.87,93.59 601.63,92.61 603.21,92.54" fill="#0d5c63" stroke="#0d5c63" stroke-width="0.51"/><polygon points="609.63,91.06 610.18,92.54 611.76,92.61 610.52,93.59 610.95,95.11 609.63,94.24 608.31,95.11 608.74,93.59 607.5,92.61 609.08,92.54" fill="#0d5c63" stroke="#0d5c63" stroke-width="0.51"/><polygon points="615.5,92.36 616.05,93.84 617.63,93.91 616.39,94.89 616.82,96.41 615.5,95.54 614.18,96.41 614.61,94.89 613.37,93.91 614.95,93.84" fill="#0d5c63" stroke="#0d5c63" stroke-width="0.51"/></g><g clip-path="url(#cpb)"><g transform="translate(0,0.4)">
<polyline points="386.57,154.7 392.44,117 398.31,110.3 404.18,100.75 410.05,97 415.92,93.7 421.79,97.4 427.66,92.8 433.53,91.2 439.4,90.3 445.27,84.1 451.14,87 457.01,85.75 462.88,84.2 468.75,83.2 474.62,81.9 480.49,81.4 486.36,80 492.23,82.3 498.1,85 503.97,84.2 509.84,81.4 515.71,79.6 521.58,78.2 527.45,87.3 533.32,81.7 539.19,80.7 545.06,77.3 550.93,79.6 556.8,78.2 562.67,75.5 568.54,76.4 574.41,76.4 580.28,74.6 586.15,74.1 592.02,75 597.89,79.1 603.76,75 609.63,74.6 615.5,77.3" fill="none" stroke="#55d3b4" stroke-width="1.0" stroke-linejoin="round"/>
</g></g><g transform="translate(0,0.4)"><polygon points="385.09,152.85 385.09,156.55 388.33,154.7" fill="none" stroke="#55d3b4" stroke-width="0.85" stroke-linejoin="miter"/><polygon points="390.96,115.15 390.96,118.85 394.2,117" fill="none" stroke="#55d3b4" stroke-width="0.85" stroke-linejoin="miter"/><polygon points="396.83,108.45 396.83,112.15 400.07,110.3" fill="none" stroke="#55d3b4" stroke-width="0.85" stroke-linejoin="miter"/><polygon points="402.7,98.9 402.7,102.6 405.94,100.75" fill="none" stroke="#55d3b4" stroke-width="0.85" stroke-linejoin="miter"/><polygon points="408.57,95.15 408.57,98.85 411.81,97" fill="none" stroke="#55d3b4" stroke-width="0.85" stroke-linejoin="miter"/><polygon points="414.44,91.85 414.44,95.55 417.68,93.7" fill="none" stroke="#55d3b4" stroke-width="0.85" stroke-linejoin="miter"/><polygon points="420.31,95.55 420.31,99.25 423.55,97.4" fill="none" stroke="#55d3b4" stroke-width="0.85" stroke-linejoin="miter"/><polygon points="426.18,90.95 426.18,94.65 429.42,92.8" fill="none" stroke="#55d3b4" stroke-width="0.85" stroke-linejoin="miter"/><polygon points="432.05,89.35 432.05,93.05 435.29,91.2" fill="none" stroke="#55d3b4" stroke-width="0.85" stroke-linejoin="miter"/><polygon points="437.92,88.45 437.92,92.15 441.16,90.3" fill="none" stroke="#55d3b4" stroke-width="0.85" stroke-linejoin="miter"/><polygon points="443.79,82.25 443.79,85.95 447.03,84.1" fill="none" stroke="#55d3b4" stroke-width="0.85" stroke-linejoin="miter"/><polygon points="449.66,85.15 449.66,88.85 452.9,87" fill="none" stroke="#55d3b4" stroke-width="0.85" stroke-linejoin="miter"/><polygon points="455.53,83.9 455.53,87.6 458.77,85.75" fill="none" stroke="#55d3b4" stroke-width="0.85" stroke-linejoin="miter"/><polygon points="461.4,82.35 461.4,86.05 464.64,84.2" fill="none" stroke="#55d3b4" stroke-width="0.85" stroke-linejoin="miter"/><polygon points="467.27,81.35 467.27,85.05 470.51,83.2" fill="none" stroke="#55d3b4" stroke-width="0.85" stroke-linejoin="miter"/><polygon points="473.14,80.05 473.14,83.75 476.38,81.9" fill="none" stroke="#55d3b4" stroke-width="0.85" stroke-linejoin="miter"/><polygon points="479.01,79.55 479.01,83.25 482.25,81.4" fill="none" stroke="#55d3b4" stroke-width="0.85" stroke-linejoin="miter"/><polygon points="484.88,78.15 484.88,81.85 488.12,80" fill="none" stroke="#55d3b4" stroke-width="0.85" stroke-linejoin="miter"/><polygon points="490.75,80.45 490.75,84.15 493.99,82.3" fill="none" stroke="#55d3b4" stroke-width="0.85" stroke-linejoin="miter"/><polygon points="496.62,83.15 496.62,86.85 499.86,85" fill="none" stroke="#55d3b4" stroke-width="0.85" stroke-linejoin="miter"/><polygon points="502.49,82.35 502.49,86.05 505.73,84.2" fill="none" stroke="#55d3b4" stroke-width="0.85" stroke-linejoin="miter"/><polygon points="508.36,79.55 508.36,83.25 511.6,81.4" fill="none" stroke="#55d3b4" stroke-width="0.85" stroke-linejoin="miter"/><polygon points="514.23,77.75 514.23,81.45 517.47,79.6" fill="none" stroke="#55d3b4" stroke-width="0.85" stroke-linejoin="miter"/><polygon points="520.1,76.35 520.1,80.05 523.34,78.2" fill="none" stroke="#55d3b4" stroke-width="0.85" stroke-linejoin="miter"/><polygon points="525.97,85.45 525.97,89.15 529.21,87.3" fill="none" stroke="#55d3b4" stroke-width="0.85" stroke-linejoin="miter"/><polygon points="531.84,79.85 531.84,83.55 535.08,81.7" fill="none" stroke="#55d3b4" stroke-width="0.85" stroke-linejoin="miter"/><polygon points="537.71,78.85 537.71,82.55 540.95,80.7" fill="none" stroke="#55d3b4" stroke-width="0.85" stroke-linejoin="miter"/><polygon points="543.58,75.45 543.58,79.15 546.82,77.3" fill="none" stroke="#55d3b4" stroke-width="0.85" stroke-linejoin="miter"/><polygon points="549.45,77.75 549.45,81.45 552.69,79.6" fill="none" stroke="#55d3b4" stroke-width="0.85" stroke-linejoin="miter"/><polygon points="555.32,76.35 555.32,80.05 558.56,78.2" fill="none" stroke="#55d3b4" stroke-width="0.85" stroke-linejoin="miter"/><polygon points="561.19,73.65 561.19,77.35 564.43,75.5" fill="none" stroke="#55d3b4" stroke-width="0.85" stroke-linejoin="miter"/><polygon points="567.06,74.55 567.06,78.25 570.3,76.4" fill="none" stroke="#55d3b4" stroke-width="0.85" stroke-linejoin="miter"/><polygon points="572.93,74.55 572.93,78.25 576.17,76.4" fill="none" stroke="#55d3b4" stroke-width="0.85" stroke-linejoin="miter"/><polygon points="578.8,72.75 578.8,76.45 582.04,74.6" fill="none" stroke="#55d3b4" stroke-width="0.85" stroke-linejoin="miter"/><polygon points="584.67,72.25 584.67,75.95 587.91,74.1" fill="none" stroke="#55d3b4" stroke-width="0.85" stroke-linejoin="miter"/><polygon points="590.54,73.15 590.54,76.85 593.78,75" fill="none" stroke="#55d3b4" stroke-width="0.85" stroke-linejoin="miter"/><polygon points="596.41,77.25 596.41,80.95 599.65,79.1" fill="none" stroke="#55d3b4" stroke-width="0.85" stroke-linejoin="miter"/><polygon points="602.28,73.15 602.28,76.85 605.52,75" fill="none" stroke="#55d3b4" stroke-width="0.85" stroke-linejoin="miter"/><polygon points="608.15,72.75 608.15,76.45 611.39,74.6" fill="none" stroke="#55d3b4" stroke-width="0.85" stroke-linejoin="miter"/><polygon points="614.02,75.45 614.02,79.15 617.26,77.3" fill="none" stroke="#55d3b4" stroke-width="0.85" stroke-linejoin="miter"/></g><g clip-path="url(#cpb)"><g transform="translate(0,0.4)">
<polyline points="386.57,169.7 392.44,121.5 398.31,109.1 404.18,113.7 410.05,103.7 415.92,98.7 421.79,91.6 427.66,92 433.53,84.5 439.4,81.2 445.27,81.2 451.14,75.3 457.01,72.8 462.88,74.6 468.75,72.3 474.62,76.4 480.49,73.2 486.36,70.9 492.23,71.9 498.1,73.7 503.97,74.1 509.84,71.4 515.71,67.3 521.58,71.4 527.45,68.7 533.32,71.2 539.19,71.9 545.06,68.2 550.93,66.4 556.8,69.6 562.67,67.3 568.54,71.4 574.41,68.7 580.28,66.4 586.15,69.1 592.02,68.7 597.89,63.2 603.76,64.6 609.63,62.7 615.5,66.4" fill="none" stroke="#4b3b3f" stroke-width="1.0" stroke-linejoin="round"/>
</g></g><g transform="translate(0,0.4)"><polygon points="388.05,167.85 388.05,171.55 384.81,169.7" fill="none" stroke="#4b3b3f" stroke-width="0.85" stroke-linejoin="miter"/><polygon points="393.92,119.65 393.92,123.35 390.68,121.5" fill="none" stroke="#4b3b3f" stroke-width="0.85" stroke-linejoin="miter"/><polygon points="399.79,107.25 399.79,110.95 396.55,109.1" fill="none" stroke="#4b3b3f" stroke-width="0.85" stroke-linejoin="miter"/><polygon points="405.66,111.85 405.66,115.55 402.42,113.7" fill="none" stroke="#4b3b3f" stroke-width="0.85" stroke-linejoin="miter"/><polygon points="411.53,101.85 411.53,105.55 408.29,103.7" fill="none" stroke="#4b3b3f" stroke-width="0.85" stroke-linejoin="miter"/><polygon points="417.4,96.85 417.4,100.55 414.16,98.7" fill="none" stroke="#4b3b3f" stroke-width="0.85" stroke-linejoin="miter"/><polygon points="423.27,89.75 423.27,93.45 420.03,91.6" fill="none" stroke="#4b3b3f" stroke-width="0.85" stroke-linejoin="miter"/><polygon points="429.14,90.15 429.14,93.85 425.9,92" fill="none" stroke="#4b3b3f" stroke-width="0.85" stroke-linejoin="miter"/><polygon points="435.01,82.65 435.01,86.35 431.77,84.5" fill="none" stroke="#4b3b3f" stroke-width="0.85" stroke-linejoin="miter"/><polygon points="440.88,79.35 440.88,83.05 437.64,81.2" fill="none" stroke="#4b3b3f" stroke-width="0.85" stroke-linejoin="miter"/><polygon points="446.75,79.35 446.75,83.05 443.51,81.2" fill="none" stroke="#4b3b3f" stroke-width="0.85" stroke-linejoin="miter"/><polygon points="452.62,73.45 452.62,77.15 449.38,75.3" fill="none" stroke="#4b3b3f" stroke-width="0.85" stroke-linejoin="miter"/><polygon points="458.49,70.95 458.49,74.65 455.25,72.8" fill="none" stroke="#4b3b3f" stroke-width="0.85" stroke-linejoin="miter"/><polygon points="464.36,72.75 464.36,76.45 461.12,74.6" fill="none" stroke="#4b3b3f" stroke-width="0.85" stroke-linejoin="miter"/><polygon points="470.23,70.45 470.23,74.15 466.99,72.3" fill="none" stroke="#4b3b3f" stroke-width="0.85" stroke-linejoin="miter"/><polygon points="476.1,74.55 476.1,78.25 472.86,76.4" fill="none" stroke="#4b3b3f" stroke-width="0.85" stroke-linejoin="miter"/><polygon points="481.97,71.35 481.97,75.05 478.73,73.2" fill="none" stroke="#4b3b3f" stroke-width="0.85" stroke-linejoin="miter"/><polygon points="487.84,69.05 487.84,72.75 484.6,70.9" fill="none" stroke="#4b3b3f" stroke-width="0.85" stroke-linejoin="miter"/><polygon points="493.71,70.05 493.71,73.75 490.47,71.9" fill="none" stroke="#4b3b3f" stroke-width="0.85" stroke-linejoin="miter"/><polygon points="499.58,71.85 499.58,75.55 496.34,73.7" fill="none" stroke="#4b3b3f" stroke-width="0.85" stroke-linejoin="miter"/><polygon points="505.45,72.25 505.45,75.95 502.21,74.1" fill="none" stroke="#4b3b3f" stroke-width="0.85" stroke-linejoin="miter"/><polygon points="511.32,69.55 511.32,73.25 508.08,71.4" fill="none" stroke="#4b3b3f" stroke-width="0.85" stroke-linejoin="miter"/><polygon points="517.19,65.45 517.19,69.15 513.95,67.3" fill="none" stroke="#4b3b3f" stroke-width="0.85" stroke-linejoin="miter"/><polygon points="523.06,69.55 523.06,73.25 519.82,71.4" fill="none" stroke="#4b3b3f" stroke-width="0.85" stroke-linejoin="miter"/><polygon points="528.93,66.85 528.93,70.55 525.69,68.7" fill="none" stroke="#4b3b3f" stroke-width="0.85" stroke-linejoin="miter"/><polygon points="534.8,69.35 534.8,73.05 531.56,71.2" fill="none" stroke="#4b3b3f" stroke-width="0.85" stroke-linejoin="miter"/><polygon points="540.67,70.05 540.67,73.75 537.43,71.9" fill="none" stroke="#4b3b3f" stroke-width="0.85" stroke-linejoin="miter"/><polygon points="546.54,66.35 546.54,70.05 543.3,68.2" fill="none" stroke="#4b3b3f" stroke-width="0.85" stroke-linejoin="miter"/><polygon points="552.41,64.55 552.41,68.25 549.17,66.4" fill="none" stroke="#4b3b3f" stroke-width="0.85" stroke-linejoin="miter"/><polygon points="558.28,67.75 558.28,71.45 555.04,69.6" fill="none" stroke="#4b3b3f" stroke-width="0.85" stroke-linejoin="miter"/><polygon points="564.15,65.45 564.15,69.15 560.91,67.3" fill="none" stroke="#4b3b3f" stroke-width="0.85" stroke-linejoin="miter"/><polygon points="570.02,69.55 570.02,73.25 566.78,71.4" fill="none" stroke="#4b3b3f" stroke-width="0.85" stroke-linejoin="miter"/><polygon points="575.89,66.85 575.89,70.55 572.65,68.7" fill="none" stroke="#4b3b3f" stroke-width="0.85" stroke-linejoin="miter"/><polygon points="581.76,64.55 581.76,68.25 578.52,66.4" fill="none" stroke="#4b3b3f" stroke-width="0.85" stroke-linejoin="miter"/><polygon points="587.63,67.25 587.63,70.95 584.39,69.1" fill="none" stroke="#4b3b3f" stroke-width="0.85" stroke-linejoin="miter"/><polygon points="593.5,66.85 593.5,70.55 590.26,68.7" fill="none" stroke="#4b3b3f" stroke-width="0.85" stroke-linejoin="miter"/><polygon points="599.37,61.35 599.37,65.05 596.13,63.2" fill="none" stroke="#4b3b3f" stroke-width="0.85" stroke-linejoin="miter"/><polygon points="605.24,62.75 605.24,66.45 602,64.6" fill="none" stroke="#4b3b3f" stroke-width="0.85" stroke-linejoin="miter"/><polygon points="611.11,60.85 611.11,64.55 607.87,62.7" fill="none" stroke="#4b3b3f" stroke-width="0.85" stroke-linejoin="miter"/><polygon points="616.98,64.55 616.98,68.25 613.74,66.4" fill="none" stroke="#4b3b3f" stroke-width="0.85" stroke-linejoin="miter"/></g><g clip-path="url(#cpb)"><g transform="translate(0,0.4)">
</g></g>
<rect x="380.3" y="22.3" width="235.2" height="169.2" fill="none" stroke="#3a3a3a" stroke-width="0.75"/>
<path d="M380.3 191.3h2.3M615.5 191.3h-2.3" stroke="#262626" stroke-width="0.7"/>
<text transform="translate(375.5,196.9) scale(1,1.05)" font-size="14.2" text-anchor="end" font-family="Liberation Sans, sans-serif" fill="#262626">50</text>
<path d="M380.3 153.72h2.3M615.5 153.72h-2.3" stroke="#262626" stroke-width="0.7"/>
<text transform="translate(375.5,159.32) scale(1,1.05)" font-size="14.2" text-anchor="end" font-family="Liberation Sans, sans-serif" fill="#262626">60</text>
<path d="M380.3 116.14h2.3M615.5 116.14h-2.3" stroke="#262626" stroke-width="0.7"/>
<text transform="translate(375.5,121.74) scale(1,1.05)" font-size="14.2" text-anchor="end" font-family="Liberation Sans, sans-serif" fill="#262626">70</text>
<path d="M380.3 78.57h2.3M615.5 78.57h-2.3" stroke="#262626" stroke-width="0.7"/>
<text transform="translate(375.5,84.17) scale(1,1.05)" font-size="14.2" text-anchor="end" font-family="Liberation Sans, sans-serif" fill="#262626">80</text>
<path d="M380.3 40.99h2.3M615.5 40.99h-2.3" stroke="#262626" stroke-width="0.7"/>
<text transform="translate(375.5,46.59) scale(1,1.05)" font-size="14.2" text-anchor="end" font-family="Liberation Sans, sans-serif" fill="#262626">90</text>
<path d="M498.1 191.5v-2.3M498.1 22.3v2.3" stroke="#262626" stroke-width="0.7"/>
<text transform="translate(498.1,211.9) scale(1,1.05)" font-size="14.2" text-anchor="middle" font-family="Liberation Sans, sans-serif" fill="#262626">200</text>
<path d="M615.5 191.5v-2.3M615.5 22.3v2.3" stroke="#262626" stroke-width="0.7"/>
<text transform="translate(615.5,211.9) scale(1,1.05)" font-size="14.2" text-anchor="middle" font-family="Liberation Sans, sans-serif" fill="#262626">400</text>
<text x="496.9" y="231.7" font-size="16" text-anchor="middle" font-family="Liberation Sans, sans-serif" fill="#262626" >Communication round</text>
<text transform="translate(354.2,106.9) rotate(-90)" font-size="16" text-anchor="middle" font-family="Liberation Sans, sans-serif" fill="#262626">Accuracy (%)</text>
<text x="490.8" y="253.7" font-size="14.5" text-anchor="middle" font-family="Liberation Serif, serif" fill="#1a1a1a" >(b) CIFAR-10</text>
<line x1="390.8" x2="406.8" y1="31.6" y2="31.6" stroke="#5b4794" stroke-width="0.9"/>
<circle cx="398.8" cy="31.6" r="1.3" fill="#5b4794" stroke="#5b4794" stroke-width="0.5"/>
<text x="408.7" y="35.2" font-size="12" text-anchor="start" font-family="Liberation Serif, serif" fill="#1a1a1a" textLength="37.5" lengthAdjust="spacingAndGlyphs">FedAvg</text>
<line x1="450.2" x2="466.2" y1="31.6" y2="31.6" stroke="#f07368" stroke-width="0.9"/>
<rect x="456.9" y="30.3" width="2.6" height="2.6" fill="#f07368" stroke="#f07368" stroke-width="0.5"/>
<text x="467.7" y="35.2" font-size="12" text-anchor="start" font-family="Liberation Serif, serif" fill="#1a1a1a" textLength="38.9" lengthAdjust="spacingAndGlyphs">FedProx</text>
<line x1="510.5" x2="526.5" y1="31.6" y2="31.6" stroke="#fda93a" stroke-width="0.9"/>
<polygon points="516.78,30.23 520.22,30.23 518.5,33.23" fill="#fda93a" stroke="#fda93a" stroke-width="0.5" stroke-linejoin="miter"/>
<text x="528.6" y="35.2" font-size="12" text-anchor="start" font-family="Liberation Serif, serif" fill="#1a1a1a" textLength="32.3" lengthAdjust="spacingAndGlyphs">FedPer</text>
<line x1="564.1" x2="580.1" y1="31.6" y2="31.6" stroke="#2f9fab" stroke-width="0.9"/>
<polygon points="570.38,32.97 573.82,32.97 572.1,29.97" fill="#2f9fab" stroke="#2f9fab" stroke-width="0.5" stroke-linejoin="miter"/>
<text x="582.6" y="35.2" font-size="12" text-anchor="start" font-family="Liberation Serif, serif" fill="#1a1a1a" textLength="23.4" lengthAdjust="spacingAndGlyphs">Ditto</text>
<line x1="390.8" x2="406.8" y1="47.6" y2="47.6" stroke="#0d5c63" stroke-width="0.9"/>
<polygon points="398.8,45.52 399.31,46.89 400.78,46.96 399.63,47.87 400.02,49.28 398.8,48.47 397.58,49.28 397.97,47.87 396.82,46.96 398.29,46.89" fill="#0d5c63" stroke="#0d5c63" stroke-width="0.3"/>
<text x="408.7" y="51.1" font-size="12" text-anchor="start" font-family="Liberation Serif, serif" fill="#1a1a1a" textLength="37.5" lengthAdjust="spacingAndGlyphs">pFedSD</text>
<line x1="450.2" x2="466.2" y1="47.6" y2="47.6" stroke="#55d3b4" stroke-width="0.9"/>
<polygon points="456.83,45.88 456.83,49.32 459.83,47.6" fill="#55d3b4" stroke="#55d3b4" stroke-width="0.5" stroke-linejoin="miter"/>
<text x="467.7" y="51.1" font-size="12" text-anchor="start" font-family="Liberation Serif, serif" fill="#1a1a1a" textLength="41.6" lengthAdjust="spacingAndGlyphs">FedBKD</text>
<line x1="513.2" x2="529.2" y1="47.6" y2="47.6" stroke="#4b3b3f" stroke-width="0.9"/>
<polygon points="522.57,45.88 522.57,49.32 519.57,47.6" fill="#4b3b3f" stroke="#4b3b3f" stroke-width="0.5" stroke-linejoin="miter"/>
<text x="531.1" y="51.1" font-size="12" text-anchor="start" font-family="Liberation Serif, serif" fill="#1a1a1a" textLength="39.1" lengthAdjust="spacingAndGlyphs">pFedCal</text>
</g>
<g>
<clipPath id="cpc"><rect x="700.2" y="22.3" width="234.2" height="169.2"/></clipPath>
<g clip-path="url(#cpc)"><g transform="translate(0,0)">
<polyline points="711.91,155.7 723.62,146.5 735.33,144.6 747.04,141.9 758.75,138.2 770.46,131.1 782.17,128.9 793.88,124 805.59,124.8 817.3,121.5 829.01,121.8 840.72,118.3 852.43,115.5 864.14,112 875.85,110.5 887.56,111.7 899.27,110.5 910.98,107.2 922.69,109.1 934.4,110.1" fill="none" stroke="#5b4794" stroke-width="1.0" stroke-linejoin="round"/>
</g></g><g transform="translate(0,0)"><circle cx="711.91" cy="155.7" r="1.4" fill="none" stroke="#5b4794" stroke-width="0.85"/><circle cx="723.62" cy="146.5" r="1.4" fill="none" stroke="#5b4794" stroke-width="0.85"/><circle cx="735.33" cy="144.6" r="1.4" fill="none" stroke="#5b4794" stroke-width="0.85"/><circle cx="747.04" cy="141.9" r="1.4" fill="none" stroke="#5b4794" stroke-width="0.85"/><circle cx="758.75" cy="138.2" r="1.4" fill="none" stroke="#5b4794" stroke-width="0.85"/><circle cx="770.46" cy="131.1" r="1.4" fill="none" stroke="#5b4794" stroke-width="0.85"/><circle cx="782.17" cy="128.9" r="1.4" fill="none" stroke="#5b4794" stroke-width="0.85"/><circle cx="793.88" cy="124" r="1.4" fill="none" stroke="#5b4794" stroke-width="0.85"/><circle cx="805.59" cy="124.8" r="1.4" fill="none" stroke="#5b4794" stroke-width="0.85"/><circle cx="817.3" cy="121.5" r="1.4" fill="none" stroke="#5b4794" stroke-width="0.85"/><circle cx="829.01" cy="121.8" r="1.4" fill="none" stroke="#5b4794" stroke-width="0.85"/><circle cx="840.72" cy="118.3" r="1.4" fill="none" stroke="#5b4794" stroke-width="0.85"/><circle cx="852.43" cy="115.5" r="1.4" fill="none" stroke="#5b4794" stroke-width="0.85"/><circle cx="864.14" cy="112" r="1.4" fill="none" stroke="#5b4794" stroke-width="0.85"/><circle cx="875.85" cy="110.5" r="1.4" fill="none" stroke="#5b4794" stroke-width="0.85"/><circle cx="887.56" cy="111.7" r="1.4" fill="none" stroke="#5b4794" stroke-width="0.85"/><circle cx="899.27" cy="110.5" r="1.4" fill="none" stroke="#5b4794" stroke-width="0.85"/><circle cx="910.98" cy="107.2" r="1.4" fill="none" stroke="#5b4794" stroke-width="0.85"/><circle cx="922.69" cy="109.1" r="1.4" fill="none" stroke="#5b4794" stroke-width="0.85"/><circle cx="934.4" cy="110.1" r="1.4" fill="none" stroke="#5b4794" stroke-width="0.85"/></g><g clip-path="url(#cpc)"><g transform="translate(0,0)">
<polyline points="711.91,162.8 723.62,155.7 735.33,147.5 747.04,147.4 758.75,143.3 770.46,130.8 782.17,125.2 793.88,128 805.59,120.5 817.3,112.5 829.01,122.3 840.72,112.2 852.43,105.9 864.14,97.8 875.85,98.3 887.56,103.1 899.27,100 910.98,96.5 922.69,96.5 934.4,88.4" fill="none" stroke="#f07368" stroke-width="1.0" stroke-linejoin="round"/>
</g></g><g transform="translate(0,0)"><rect x="710.51" y="161.4" width="2.8" height="2.8" fill="none" stroke="#f07368" stroke-width="0.85"/><rect x="722.22" y="154.3" width="2.8" height="2.8" fill="none" stroke="#f07368" stroke-width="0.85"/><rect x="733.93" y="146.1" width="2.8" height="2.8" fill="none" stroke="#f07368" stroke-width="0.85"/><rect x="745.64" y="146" width="2.8" height="2.8" fill="none" stroke="#f07368" stroke-width="0.85"/><rect x="757.35" y="141.9" width="2.8" height="2.8" fill="none" stroke="#f07368" stroke-width="0.85"/><rect x="769.06" y="129.4" width="2.8" height="2.8" fill="none" stroke="#f07368" stroke-width="0.85"/><rect x="780.77" y="123.8" width="2.8" height="2.8" fill="none" stroke="#f07368" stroke-width="0.85"/><rect x="792.48" y="126.6" width="2.8" height="2.8" fill="none" stroke="#f07368" stroke-width="0.85"/><rect x="804.19" y="119.1" width="2.8" height="2.8" fill="none" stroke="#f07368" stroke-width="0.85"/><rect x="815.9" y="111.1" width="2.8" height="2.8" fill="none" stroke="#f07368" stroke-width="0.85"/><rect x="827.61" y="120.9" width="2.8" height="2.8" fill="none" stroke="#f07368" stroke-width="0.85"/><rect x="839.32" y="110.8" width="2.8" height="2.8" fill="none" stroke="#f07368" stroke-width="0.85"/><rect x="851.03" y="104.5" width="2.8" height="2.8" fill="none" stroke="#f07368" stroke-width="0.85"/><rect x="862.74" y="96.4" width="2.8" height="2.8" fill="none" stroke="#f07368" stroke-width="0.85"/><rect x="874.45" y="96.9" width="2.8" height="2.8" fill="none" stroke="#f07368" stroke-width="0.85"/><rect x="886.16" y="101.7" width="2.8" height="2.8" fill="none" stroke="#f07368" stroke-width="0.85"/><rect x="897.87" y="98.6" width="2.8" height="2.8" fill="none" stroke="#f07368" stroke-width="0.85"/><rect x="909.58" y="95.1" width="2.8" height="2.8" fill="none" stroke="#f07368" stroke-width="0.85"/><rect x="921.29" y="95.1" width="2.8" height="2.8" fill="none" stroke="#f07368" stroke-width="0.85"/><rect x="933" y="87" width="2.8" height="2.8" fill="none" stroke="#f07368" stroke-width="0.85"/></g><g clip-path="url(#cpc)"><g transform="translate(0,0)">
<polyline points="711.91,185.6 723.62,130.8 735.33,108.4 747.04,102.9 758.75,98.5 770.46,89.8 782.17,91.7 793.88,93.3 805.59,92.5 817.3,87.2 829.01,89.9 840.72,84.8 852.43,83.6 864.14,81.4 875.85,80.4 887.56,84.2 899.27,80.7 910.98,78.1 922.69,79.2 934.4,80.4" fill="none" stroke="#fda93a" stroke-width="1.0" stroke-linejoin="round"/>
</g></g><g transform="translate(0,0)"><polygon points="710.06,184.12 713.76,184.12 711.91,187.36" fill="none" stroke="#fda93a" stroke-width="0.85" stroke-linejoin="miter"/><polygon points="721.77,129.32 725.47,129.32 723.62,132.56" fill="none" stroke="#fda93a" stroke-width="0.85" stroke-linejoin="miter"/><polygon points="733.48,106.92 737.18,106.92 735.33,110.16" fill="none" stroke="#fda93a" stroke-width="0.85" stroke-linejoin="miter"/><polygon points="745.19,101.42 748.89,101.42 747.04,104.66" fill="none" stroke="#fda93a" stroke-width="0.85" stroke-linejoin="miter"/><polygon points="756.9,97.02 760.6,97.02 758.75,100.26" fill="none" stroke="#fda93a" stroke-width="0.85" stroke-linejoin="miter"/><polygon points="768.61,88.32 772.31,88.32 770.46,91.56" fill="none" stroke="#fda93a" stroke-width="0.85" stroke-linejoin="miter"/><polygon points="780.32,90.22 784.02,90.22 782.17,93.46" fill="none" stroke="#fda93a" stroke-width="0.85" stroke-linejoin="miter"/><polygon points="792.03,91.82 795.73,91.82 793.88,95.06" fill="none" stroke="#fda93a" stroke-width="0.85" stroke-linejoin="miter"/><polygon points="803.74,91.02 807.44,91.02 805.59,94.26" fill="none" stroke="#fda93a" stroke-width="0.85" stroke-linejoin="miter"/><polygon points="815.45,85.72 819.15,85.72 817.3,88.96" fill="none" stroke="#fda93a" stroke-width="0.85" stroke-linejoin="miter"/><polygon points="827.16,88.42 830.86,88.42 829.01,91.66" fill="none" stroke="#fda93a" stroke-width="0.85" stroke-linejoin="miter"/><polygon points="838.87,83.32 842.57,83.32 840.72,86.56" fill="none" stroke="#fda93a" stroke-width="0.85" stroke-linejoin="miter"/><polygon points="850.58,82.12 854.28,82.12 852.43,85.36" fill="none" stroke="#fda93a" stroke-width="0.85" stroke-linejoin="miter"/><polygon points="862.29,79.92 865.99,79.92 864.14,83.16" fill="none" stroke="#fda93a" stroke-width="0.85" stroke-linejoin="miter"/><polygon points="874,78.92 877.7,78.92 875.85,82.16" fill="none" stroke="#fda93a" stroke-width="0.85" stroke-linejoin="miter"/><polygon points="885.71,82.72 889.41,82.72 887.56,85.96" fill="none" stroke="#fda93a" stroke-width="0.85" stroke-linejoin="miter"/><polygon points="897.42,79.22 901.12,79.22 899.27,82.46" fill="none" stroke="#fda93a" stroke-width="0.85" stroke-linejoin="miter"/><polygon points="909.13,76.62 912.83,76.62 910.98,79.86" fill="none" stroke="#fda93a" stroke-width="0.85" stroke-linejoin="miter"/><polygon points="920.84,77.72 924.54,77.72 922.69,80.96" fill="none" stroke="#fda93a" stroke-width="0.85" stroke-linejoin="miter"/><polygon points="932.55,78.92 936.25,78.92 934.4,82.16" fill="none" stroke="#fda93a" stroke-width="0.85" stroke-linejoin="miter"/></g><g clip-path="url(#cpc)"><g transform="translate(0,0)">
<polyline points="711.91,159.5 723.62,159 735.33,150.6 747.04,144.4 758.75,141.3 770.46,134.5 782.17,130.2 793.88,125.2 805.59,128.3 817.3,123.8 829.01,119.8 840.72,119.3 852.43,115.5 864.14,113 875.85,114.9 887.56,110.1 899.27,113.6 910.98,112.2 922.69,105.7 934.4,105.7" fill="none" stroke="#2f9fab" stroke-width="1.0" stroke-linejoin="round"/>
</g></g><g transform="translate(0,0)"><polygon points="710.06,160.98 713.76,160.98 711.91,157.74" fill="none" stroke="#2f9fab" stroke-width="0.85" stroke-linejoin="miter"/><polygon points="721.77,160.48 725.47,160.48 723.62,157.24" fill="none" stroke="#2f9fab" stroke-width="0.85" stroke-linejoin="miter"/><polygon points="733.48,152.08 737.18,152.08 735.33,148.84" fill="none" stroke="#2f9fab" stroke-width="0.85" stroke-linejoin="miter"/><polygon points="745.19,145.88 748.89,145.88 747.04,142.64" fill="none" stroke="#2f9fab" stroke-width="0.85" stroke-linejoin="miter"/><polygon points="756.9,142.78 760.6,142.78 758.75,139.54" fill="none" stroke="#2f9fab" stroke-width="0.85" stroke-linejoin="miter"/><polygon points="768.61,135.98 772.31,135.98 770.46,132.74" fill="none" stroke="#2f9fab" stroke-width="0.85" stroke-linejoin="miter"/><polygon points="780.32,131.68 784.02,131.68 782.17,128.44" fill="none" stroke="#2f9fab" stroke-width="0.85" stroke-linejoin="miter"/><polygon points="792.03,126.68 795.73,126.68 793.88,123.44" fill="none" stroke="#2f9fab" stroke-width="0.85" stroke-linejoin="miter"/><polygon points="803.74,129.78 807.44,129.78 805.59,126.54" fill="none" stroke="#2f9fab" stroke-width="0.85" stroke-linejoin="miter"/><polygon points="815.45,125.28 819.15,125.28 817.3,122.04" fill="none" stroke="#2f9fab" stroke-width="0.85" stroke-linejoin="miter"/><polygon points="827.16,121.28 830.86,121.28 829.01,118.04" fill="none" stroke="#2f9fab" stroke-width="0.85" stroke-linejoin="miter"/><polygon points="838.87,120.78 842.57,120.78 840.72,117.54" fill="none" stroke="#2f9fab" stroke-width="0.85" stroke-linejoin="miter"/><polygon points="850.58,116.98 854.28,116.98 852.43,113.74" fill="none" stroke="#2f9fab" stroke-width="0.85" stroke-linejoin="miter"/><polygon points="862.29,114.48 865.99,114.48 864.14,111.24" fill="none" stroke="#2f9fab" stroke-width="0.85" stroke-linejoin="miter"/><polygon points="874,116.38 877.7,116.38 875.85,113.14" fill="none" stroke="#2f9fab" stroke-width="0.85" stroke-linejoin="miter"/><polygon points="885.71,111.58 889.41,111.58 887.56,108.34" fill="none" stroke="#2f9fab" stroke-width="0.85" stroke-linejoin="miter"/><polygon points="897.42,115.08 901.12,115.08 899.27,111.84" fill="none" stroke="#2f9fab" stroke-width="0.85" stroke-linejoin="miter"/><polygon points="909.13,113.68 912.83,113.68 910.98,110.44" fill="none" stroke="#2f9fab" stroke-width="0.85" stroke-linejoin="miter"/><polygon points="920.84,107.18 924.54,107.18 922.69,103.94" fill="none" stroke="#2f9fab" stroke-width="0.85" stroke-linejoin="miter"/><polygon points="932.55,107.18 936.25,107.18 934.4,103.94" fill="none" stroke="#2f9fab" stroke-width="0.85" stroke-linejoin="miter"/></g><g clip-path="url(#cpc)"><g transform="translate(0,0)">
<polyline points="711.91,148.3 723.62,141.6 735.33,140.1 747.04,140.1 758.75,128.6 770.46,120.5 782.17,118.4 793.88,117.1 805.59,111.6 817.3,111 829.01,110.1 840.72,111.7 852.43,95.6 864.14,93.3 875.85,92.8 887.56,95.6 899.27,95.2 910.98,87.4 922.69,87.4 934.4,85.2" fill="none" stroke="#0d5c63" stroke-width="1.0" stroke-linejoin="round"/>
</g></g><g transform="translate(0,0)"><polygon points="711.91,146.06 712.46,147.54 714.04,147.61 712.8,148.59 713.23,150.11 711.91,149.24 710.59,150.11 711.02,148.59 709.78,147.61 711.36,147.54" fill="#0d5c63" stroke="#0d5c63" stroke-width="0.51"/><polygon points="723.62,139.36 724.17,140.84 725.75,140.91 724.51,141.89 724.94,143.41 723.62,142.54 722.3,143.41 722.73,141.89 721.49,140.91 723.07,140.84" fill="#0d5c63" stroke="#0d5c63" stroke-width="0.51"/><polygon points="735.33,137.86 735.88,139.34 737.46,139.41 736.22,140.39 736.65,141.91 735.33,141.04 734.01,141.91 734.44,140.39 733.2,139.41 734.78,139.34" fill="#0d5c63" stroke="#0d5c63" stroke-width="0.51"/><polygon points="747.04,137.86 747.59,139.34 749.17,139.41 747.93,140.39 748.36,141.91 747.04,141.04 745.72,141.91 746.15,140.39 744.91,139.41 746.49,139.34" fill="#0d5c63" stroke="#0d5c63" stroke-width="0.51"/><polygon points="758.75,126.36 759.3,127.84 760.88,127.91 759.64,128.89 760.07,130.41 758.75,129.54 757.43,130.41 757.86,128.89 756.62,127.91 758.2,127.84" fill="#0d5c63" stroke="#0d5c63" stroke-width="0.51"/><polygon points="770.46,118.26 771.01,119.74 772.59,119.81 771.35,120.79 771.78,122.31 770.46,121.44 769.14,122.31 769.57,120.79 768.33,119.81 769.91,119.74" fill="#0d5c63" stroke="#0d5c63" stroke-width="0.51"/><polygon points="782.17,116.16 782.72,117.64 784.3,117.71 783.06,118.69 783.49,120.21 782.17,119.34 780.85,120.21 781.28,118.69 780.04,117.71 781.62,117.64" fill="#0d5c63" stroke="#0d5c63" stroke-width="0.51"/><polygon points="793.88,114.86 794.43,116.34 796.01,116.41 794.77,117.39 795.2,118.91 793.88,118.04 792.56,118.91 792.99,117.39 791.75,116.41 793.33,116.34" fill="#0d5c63" stroke="#0d5c63" stroke-width="0.51"/><polygon points="805.59,109.36 806.14,110.84 807.72,110.91 806.48,111.89 806.91,113.41 805.59,112.54 804.27,113.41 804.7,111.89 803.46,110.91 805.04,110.84" fill="#0d5c63" stroke="#0d5c63" stroke-width="0.51"/><polygon points="817.3,108.76 817.85,110.24 819.43,110.31 818.19,111.29 818.62,112.81 817.3,111.94 815.98,112.81 816.41,111.29 815.17,110.31 816.75,110.24" fill="#0d5c63" stroke="#0d5c63" stroke-width="0.51"/><polygon points="829.01,107.86 829.56,109.34 831.14,109.41 829.9,110.39 830.33,111.91 829.01,111.04 827.69,111.91 828.12,110.39 826.88,109.41 828.46,109.34" fill="#0d5c63" stroke="#0d5c63" stroke-width="0.51"/><polygon points="840.72,109.46 841.27,110.94 842.85,111.01 841.61,111.99 842.04,113.51 840.72,112.64 839.4,113.51 839.83,111.99 838.59,111.01 840.17,110.94" fill="#0d5c63" stroke="#0d5c63" stroke-width="0.51"/><polygon points="852.43,93.36 852.98,94.84 854.56,94.91 853.32,95.89 853.75,97.41 852.43,96.54 851.11,97.41 851.54,95.89 850.3,94.91 851.88,94.84" fill="#0d5c63" stroke="#0d5c63" stroke-width="0.51"/><polygon points="864.14,91.06 864.69,92.54 866.27,92.61 865.03,93.59 865.46,95.11 864.14,94.24 862.82,95.11 863.25,93.59 862.01,92.61 863.59,92.54" fill="#0d5c63" stroke="#0d5c63" stroke-width="0.51"/><polygon points="875.85,90.56 876.4,92.04 877.98,92.11 876.74,93.09 877.17,94.61 875.85,93.74 874.53,94.61 874.96,93.09 873.72,92.11 875.3,92.04" fill="#0d5c63" stroke="#0d5c63" stroke-width="0.51"/><polygon points="887.56,93.36 888.11,94.84 889.69,94.91 888.45,95.89 888.88,97.41 887.56,96.54 886.24,97.41 886.67,95.89 885.43,94.91 887.01,94.84" fill="#0d5c63" stroke="#0d5c63" stroke-width="0.51"/><polygon points="899.27,92.96 899.82,94.44 901.4,94.51 900.16,95.49 900.59,97.01 899.27,96.14 897.95,97.01 898.38,95.49 897.14,94.51 898.72,94.44" fill="#0d5c63" stroke="#0d5c63" stroke-width="0.51"/><polygon points="910.98,85.16 911.53,86.64 913.11,86.71 911.87,87.69 912.3,89.21 910.98,88.34 909.66,89.21 910.09,87.69 908.85,86.71 910.43,86.64" fill="#0d5c63" stroke="#0d5c63" stroke-width="0.51"/><polygon points="922.69,85.16 923.24,86.64 924.82,86.71 923.58,87.69 924.01,89.21 922.69,88.34 921.37,89.21 921.8,87.69 920.56,86.71 922.14,86.64" fill="#0d5c63" stroke="#0d5c63" stroke-width="0.51"/><polygon points="934.4,82.96 934.95,84.44 936.53,84.51 935.29,85.49 935.72,87.01 934.4,86.14 933.08,87.01 933.51,85.49 932.27,84.51 933.85,84.44" fill="#0d5c63" stroke="#0d5c63" stroke-width="0.51"/></g><g clip-path="url(#cpc)"><g transform="translate(0,0)">
<polyline points="711.91,166.6 723.62,120.9 735.33,100.4 747.04,96.6 758.75,97.3 770.46,88.6 782.17,84.2 793.88,88 805.59,79.25 817.3,78.2 829.01,73.5 840.72,68.4 852.43,67.2 864.14,62.1 875.85,66.5 887.56,63.7 899.27,64.2 910.98,62.1 922.69,64 934.4,64" fill="none" stroke="#55d3b4" stroke-width="1.0" stroke-linejoin="round"/>
</g></g><g transform="translate(0,0)"><polygon points="710.43,164.75 710.43,168.45 713.67,166.6" fill="none" stroke="#55d3b4" stroke-width="0.85" stroke-linejoin="miter"/><polygon points="722.14,119.05 722.14,122.75 725.38,120.9" fill="none" stroke="#55d3b4" stroke-width="0.85" stroke-linejoin="miter"/><polygon points="733.85,98.55 733.85,102.25 737.09,100.4" fill="none" stroke="#55d3b4" stroke-width="0.85" stroke-linejoin="miter"/><polygon points="745.56,94.75 745.56,98.45 748.8,96.6" fill="none" stroke="#55d3b4" stroke-width="0.85" stroke-linejoin="miter"/><polygon points="757.27,95.45 757.27,99.15 760.51,97.3" fill="none" stroke="#55d3b4" stroke-width="0.85" stroke-linejoin="miter"/><polygon points="768.98,86.75 768.98,90.45 772.22,88.6" fill="none" stroke="#55d3b4" stroke-width="0.85" stroke-linejoin="miter"/><polygon points="780.69,82.35 780.69,86.05 783.93,84.2" fill="none" stroke="#55d3b4" stroke-width="0.85" stroke-linejoin="miter"/><polygon points="792.4,86.15 792.4,89.85 795.64,88" fill="none" stroke="#55d3b4" stroke-width="0.85" stroke-linejoin="miter"/><polygon points="804.11,77.4 804.11,81.1 807.35,79.25" fill="none" stroke="#55d3b4" stroke-width="0.85" stroke-linejoin="miter"/><polygon points="815.82,76.35 815.82,80.05 819.06,78.2" fill="none" stroke="#55d3b4" stroke-width="0.85" stroke-linejoin="miter"/><polygon points="827.53,71.65 827.53,75.35 830.77,73.5" fill="none" stroke="#55d3b4" stroke-width="0.85" stroke-linejoin="miter"/><polygon points="839.24,66.55 839.24,70.25 842.48,68.4" fill="none" stroke="#55d3b4" stroke-width="0.85" stroke-linejoin="miter"/><polygon points="850.95,65.35 850.95,69.05 854.19,67.2" fill="none" stroke="#55d3b4" stroke-width="0.85" stroke-linejoin="miter"/><polygon points="862.66,60.25 862.66,63.95 865.9,62.1" fill="none" stroke="#55d3b4" stroke-width="0.85" stroke-linejoin="miter"/><polygon points="874.37,64.65 874.37,68.35 877.61,66.5" fill="none" stroke="#55d3b4" stroke-width="0.85" stroke-linejoin="miter"/><polygon points="886.08,61.85 886.08,65.55 889.32,63.7" fill="none" stroke="#55d3b4" stroke-width="0.85" stroke-linejoin="miter"/><polygon points="897.79,62.35 897.79,66.05 901.03,64.2" fill="none" stroke="#55d3b4" stroke-width="0.85" stroke-linejoin="miter"/><polygon points="909.5,60.25 909.5,63.95 912.74,62.1" fill="none" stroke="#55d3b4" stroke-width="0.85" stroke-linejoin="miter"/><polygon points="921.21,62.15 921.21,65.85 924.45,64" fill="none" stroke="#55d3b4" stroke-width="0.85" stroke-linejoin="miter"/><polygon points="932.92,62.15 932.92,65.85 936.16,64" fill="none" stroke="#55d3b4" stroke-width="0.85" stroke-linejoin="miter"/></g><g clip-path="url(#cpc)"><g transform="translate(0,0)">
<polyline points="711.91,168.8 723.62,130.8 735.33,133.8 747.04,101.6 758.75,106.6 770.46,93.3 782.17,97 793.88,81.1 805.59,83 817.3,80.6 829.01,68.4 840.72,68.8 852.43,56.7 864.14,65 875.85,69.7 887.56,58.7 899.27,58.3 910.98,60 922.69,55.4 934.4,55.4" fill="none" stroke="#4b3b3f" stroke-width="1.0" stroke-linejoin="round"/>
</g></g><g transform="translate(0,0)"><polygon points="713.39,166.95 713.39,170.65 710.15,168.8" fill="none" stroke="#4b3b3f" stroke-width="0.85" stroke-linejoin="miter"/><polygon points="725.1,128.95 725.1,132.65 721.86,130.8" fill="none" stroke="#4b3b3f" stroke-width="0.85" stroke-linejoin="miter"/><polygon points="736.81,131.95 736.81,135.65 733.57,133.8" fill="none" stroke="#4b3b3f" stroke-width="0.85" stroke-linejoin="miter"/><polygon points="748.52,99.75 748.52,103.45 745.28,101.6" fill="none" stroke="#4b3b3f" stroke-width="0.85" stroke-linejoin="miter"/><polygon points="760.23,104.75 760.23,108.45 756.99,106.6" fill="none" stroke="#4b3b3f" stroke-width="0.85" stroke-linejoin="miter"/><polygon points="771.94,91.45 771.94,95.15 768.7,93.3" fill="none" stroke="#4b3b3f" stroke-width="0.85" stroke-linejoin="miter"/><polygon points="783.65,95.15 783.65,98.85 780.41,97" fill="none" stroke="#4b3b3f" stroke-width="0.85" stroke-linejoin="miter"/><polygon points="795.36,79.25 795.36,82.95 792.12,81.1" fill="none" stroke="#4b3b3f" stroke-width="0.85" stroke-linejoin="miter"/><polygon points="807.07,81.15 807.07,84.85 803.83,83" fill="none" stroke="#4b3b3f" stroke-width="0.85" stroke-linejoin="miter"/><polygon points="818.78,78.75 818.78,82.45 815.54,80.6" fill="none" stroke="#4b3b3f" stroke-width="0.85" stroke-linejoin="miter"/><polygon points="830.49,66.55 830.49,70.25 827.25,68.4" fill="none" stroke="#4b3b3f" stroke-width="0.85" stroke-linejoin="miter"/><polygon points="842.2,66.95 842.2,70.65 838.96,68.8" fill="none" stroke="#4b3b3f" stroke-width="0.85" stroke-linejoin="miter"/><polygon points="853.91,54.85 853.91,58.55 850.67,56.7" fill="none" stroke="#4b3b3f" stroke-width="0.85" stroke-linejoin="miter"/><polygon points="865.62,63.15 865.62,66.85 862.38,65" fill="none" stroke="#4b3b3f" stroke-width="0.85" stroke-linejoin="miter"/><polygon points="877.33,67.85 877.33,71.55 874.09,69.7" fill="none" stroke="#4b3b3f" stroke-width="0.85" stroke-linejoin="miter"/><polygon points="889.04,56.85 889.04,60.55 885.8,58.7" fill="none" stroke="#4b3b3f" stroke-width="0.85" stroke-linejoin="miter"/><polygon points="900.75,56.45 900.75,60.15 897.51,58.3" fill="none" stroke="#4b3b3f" stroke-width="0.85" stroke-linejoin="miter"/><polygon points="912.46,58.15 912.46,61.85 909.22,60" fill="none" stroke="#4b3b3f" stroke-width="0.85" stroke-linejoin="miter"/><polygon points="924.17,53.55 924.17,57.25 920.93,55.4" fill="none" stroke="#4b3b3f" stroke-width="0.85" stroke-linejoin="miter"/><polygon points="935.88,53.55 935.88,57.25 932.64,55.4" fill="none" stroke="#4b3b3f" stroke-width="0.85" stroke-linejoin="miter"/></g><g clip-path="url(#cpc)"><g transform="translate(0,0)">
</g></g>
<rect x="700.2" y="22.3" width="234.2" height="169.2" fill="none" stroke="#3a3a3a" stroke-width="0.75"/>
<path d="M700.2 191.3h2.3M934.4 191.3h-2.3" stroke="#262626" stroke-width="0.7"/>
<text transform="translate(695.4,196.9) scale(1,1.05)" font-size="14.2" text-anchor="end" font-family="Liberation Sans, sans-serif" fill="#262626">50</text>
<path d="M700.2 157.48h2.3M934.4 157.48h-2.3" stroke="#262626" stroke-width="0.7"/>
<text transform="translate(695.4,163.08) scale(1,1.05)" font-size="14.2" text-anchor="end" font-family="Liberation Sans, sans-serif" fill="#262626">55</text>
<path d="M700.2 123.66h2.3M934.4 123.66h-2.3" stroke="#262626" stroke-width="0.7"/>
<text transform="translate(695.4,129.26) scale(1,1.05)" font-size="14.2" text-anchor="end" font-family="Liberation Sans, sans-serif" fill="#262626">60</text>
<path d="M700.2 89.84h2.3M934.4 89.84h-2.3" stroke="#262626" stroke-width="0.7"/>
<text transform="translate(695.4,95.44) scale(1,1.05)" font-size="14.2" text-anchor="end" font-family="Liberation Sans, sans-serif" fill="#262626">65</text>
<path d="M700.2 56.02h2.3M934.4 56.02h-2.3" stroke="#262626" stroke-width="0.7"/>
<text transform="translate(695.4,61.62) scale(1,1.05)" font-size="14.2" text-anchor="end" font-family="Liberation Sans, sans-serif" fill="#262626">70</text>
<path d="M700.2 22.2h2.3M934.4 22.2h-2.3" stroke="#262626" stroke-width="0.7"/>
<text transform="translate(695.4,27.8) scale(1,1.05)" font-size="14.2" text-anchor="end" font-family="Liberation Sans, sans-serif" fill="#262626">75</text>
<path d="M817.3 191.5v-2.3M817.3 22.3v2.3" stroke="#262626" stroke-width="0.7"/>
<text transform="translate(817.3,211.9) scale(1,1.05)" font-size="14.2" text-anchor="middle" font-family="Liberation Sans, sans-serif" fill="#262626">50</text>
<path d="M934.4 191.5v-2.3M934.4 22.3v2.3" stroke="#262626" stroke-width="0.7"/>
<text transform="translate(934.4,211.9) scale(1,1.05)" font-size="14.2" text-anchor="middle" font-family="Liberation Sans, sans-serif" fill="#262626">100</text>
<text x="816.3" y="231.7" font-size="16" text-anchor="middle" font-family="Liberation Sans, sans-serif" fill="#262626" >Communication round</text>
<text transform="translate(673,106.9) rotate(-90)" font-size="16" text-anchor="middle" font-family="Liberation Sans, sans-serif" fill="#262626">Accuracy (%)</text>
<text x="809.5" y="253.7" font-size="14.5" text-anchor="middle" font-family="Liberation Serif, serif" fill="#1a1a1a" >(c) CIFAR-100</text>
<line x1="710.5" x2="726.5" y1="32.8" y2="32.8" stroke="#5b4794" stroke-width="0.9"/>
<circle cx="718.5" cy="32.8" r="1.3" fill="#5b4794" stroke="#5b4794" stroke-width="0.5"/>
<text x="728.5" y="36.4" font-size="12" text-anchor="start" font-family="Liberation Serif, serif" fill="#1a1a1a" textLength="37.5" lengthAdjust="spacingAndGlyphs">FedAvg</text>
<line x1="769.9" x2="785.9" y1="32.8" y2="32.8" stroke="#f07368" stroke-width="0.9"/>
<rect x="776.6" y="31.5" width="2.6" height="2.6" fill="#f07368" stroke="#f07368" stroke-width="0.5"/>
<text x="787.5" y="36.4" font-size="12" text-anchor="start" font-family="Liberation Serif, serif" fill="#1a1a1a" textLength="38.9" lengthAdjust="spacingAndGlyphs">FedProx</text>
<line x1="830.2" x2="846.2" y1="32.8" y2="32.8" stroke="#fda93a" stroke-width="0.9"/>
<polygon points="836.48,31.43 839.92,31.43 838.2,34.43" fill="#fda93a" stroke="#fda93a" stroke-width="0.5" stroke-linejoin="miter"/>
<text x="848.4" y="36.4" font-size="12" text-anchor="start" font-family="Liberation Serif, serif" fill="#1a1a1a" textLength="32.3" lengthAdjust="spacingAndGlyphs">FedPer</text>
<line x1="883.8" x2="899.8" y1="32.8" y2="32.8" stroke="#2f9fab" stroke-width="0.9"/>
<polygon points="890.08,34.17 893.52,34.17 891.8,31.17" fill="#2f9fab" stroke="#2f9fab" stroke-width="0.5" stroke-linejoin="miter"/>
<text x="902.4" y="36.4" font-size="12" text-anchor="start" font-family="Liberation Serif, serif" fill="#1a1a1a" textLength="23.4" lengthAdjust="spacingAndGlyphs">Ditto</text>
<line x1="710.5" x2="726.5" y1="47.95" y2="47.95" stroke="#0d5c63" stroke-width="0.9"/>
<polygon points="718.5,45.87 719.01,47.24 720.48,47.31 719.33,48.22 719.72,49.63 718.5,48.82 717.28,49.63 717.67,48.22 716.52,47.31 717.99,47.24" fill="#0d5c63" stroke="#0d5c63" stroke-width="0.3"/>
<text x="728.5" y="51.4" font-size="12" text-anchor="start" font-family="Liberation Serif, serif" fill="#1a1a1a" textLength="37.5" lengthAdjust="spacingAndGlyphs">pFedSD</text>
<line x1="769.9" x2="785.9" y1="47.95" y2="47.95" stroke="#55d3b4" stroke-width="0.9"/>
<polygon points="776.53,46.23 776.53,49.67 779.53,47.95" fill="#55d3b4" stroke="#55d3b4" stroke-width="0.5" stroke-linejoin="miter"/>
<text x="787.5" y="51.4" font-size="12" text-anchor="start" font-family="Liberation Serif, serif" fill="#1a1a1a" textLength="45.4" lengthAdjust="spacingAndGlyphs">Fed-ROD</text>
<line x1="836.8" x2="852.8" y1="47.95" y2="47.95" stroke="#4b3b3f" stroke-width="0.9"/>
<polygon points="846.17,46.23 846.17,49.67 843.17,47.95" fill="#4b3b3f" stroke="#4b3b3f" stroke-width="0.5" stroke-linejoin="miter"/>
<text x="854.8" y="51.4" font-size="12" text-anchor="start" font-family="Liberation Serif, serif" fill="#1a1a1a" textLength="39.1" lengthAdjust="spacingAndGlyphs">pFedCal</text>
</g>
<g>
<line x1="69.5" x2="296" y1="650.25" y2="650.25" stroke="#e3e3e3" stroke-width="0.7"/>
<line y1="565.6" y2="734.9" x1="182.5" x2="182.5" stroke="#e3e3e3" stroke-width="0.7"/>
<clipPath id="cpg"><rect x="69.5" y="565.6" width="226.5" height="169.3"/></clipPath>
<g clip-path="url(#cpg)"><g transform="translate(0.4,0.5)">
<polyline points="74.67,775 80.35,781 86.03,768.5 91.7,758 97.38,749.4 103.05,716.7 108.72,676.2 114.4,639.9 120.08,634.6 125.75,617.2 131.43,612 137.1,607.6 142.78,607.6 148.45,605.7 154.12,601.9 159.8,601.9 165.47,605.7 171.15,601.9 176.82,600.7 182.5,598.5 188.18,601 193.85,600.4 199.53,595.4 205.2,595.8 210.88,594.8 216.55,593.6 222.22,595.2 227.9,595.2 233.57,593.8 239.25,592.3 244.93,595.4 250.6,592.1 256.27,592.1 261.95,592.1 267.62,592.1 273.3,593 278.98,591.3 284.65,594.8 290.32,590.5 296,589.6" fill="none" stroke="#4b3f8f" stroke-width="0.85" stroke-linejoin="round"/>
</g></g><g transform="translate(0.4,0.5)"><circle cx="103.05" cy="716.7" r="1.35" fill="none" stroke="#4b3f8f" stroke-width="0.7"/><circle cx="108.72" cy="676.2" r="1.35" fill="none" stroke="#4b3f8f" stroke-width="0.7"/><circle cx="114.4" cy="639.9" r="1.35" fill="none" stroke="#4b3f8f" stroke-width="0.7"/><circle cx="120.08" cy="634.6" r="1.35" fill="none" stroke="#4b3f8f" stroke-width="0.7"/><circle cx="125.75" cy="617.2" r="1.35" fill="none" stroke="#4b3f8f" stroke-width="0.7"/><circle cx="131.43" cy="612" r="1.35" fill="none" stroke="#4b3f8f" stroke-width="0.7"/><circle cx="137.1" cy="607.6" r="1.35" fill="none" stroke="#4b3f8f" stroke-width="0.7"/><circle cx="142.78" cy="607.6" r="1.35" fill="none" stroke="#4b3f8f" stroke-width="0.7"/><circle cx="148.45" cy="605.7" r="1.35" fill="none" stroke="#4b3f8f" stroke-width="0.7"/><circle cx="154.12" cy="601.9" r="1.35" fill="none" stroke="#4b3f8f" stroke-width="0.7"/><circle cx="159.8" cy="601.9" r="1.35" fill="none" stroke="#4b3f8f" stroke-width="0.7"/><circle cx="165.47" cy="605.7" r="1.35" fill="none" stroke="#4b3f8f" stroke-width="0.7"/><circle cx="171.15" cy="601.9" r="1.35" fill="none" stroke="#4b3f8f" stroke-width="0.7"/><circle cx="176.82" cy="600.7" r="1.35" fill="none" stroke="#4b3f8f" stroke-width="0.7"/><circle cx="182.5" cy="598.5" r="1.35" fill="none" stroke="#4b3f8f" stroke-width="0.7"/><circle cx="188.18" cy="601" r="1.35" fill="none" stroke="#4b3f8f" stroke-width="0.7"/><circle cx="193.85" cy="600.4" r="1.35" fill="none" stroke="#4b3f8f" stroke-width="0.7"/><circle cx="199.53" cy="595.4" r="1.35" fill="none" stroke="#4b3f8f" stroke-width="0.7"/><circle cx="205.2" cy="595.8" r="1.35" fill="none" stroke="#4b3f8f" stroke-width="0.7"/><circle cx="210.88" cy="594.8" r="1.35" fill="none" stroke="#4b3f8f" stroke-width="0.7"/><circle cx="216.55" cy="593.6" r="1.35" fill="none" stroke="#4b3f8f" stroke-width="0.7"/><circle cx="222.22" cy="595.2" r="1.35" fill="none" stroke="#4b3f8f" stroke-width="0.7"/><circle cx="227.9" cy="595.2" r="1.35" fill="none" stroke="#4b3f8f" stroke-width="0.7"/><circle cx="233.57" cy="593.8" r="1.35" fill="none" stroke="#4b3f8f" stroke-width="0.7"/><circle cx="239.25" cy="592.3" r="1.35" fill="none" stroke="#4b3f8f" stroke-width="0.7"/><circle cx="244.93" cy="595.4" r="1.35" fill="none" stroke="#4b3f8f" stroke-width="0.7"/><circle cx="250.6" cy="592.1" r="1.35" fill="none" stroke="#4b3f8f" stroke-width="0.7"/><circle cx="256.27" cy="592.1" r="1.35" fill="none" stroke="#4b3f8f" stroke-width="0.7"/><circle cx="261.95" cy="592.1" r="1.35" fill="none" stroke="#4b3f8f" stroke-width="0.7"/><circle cx="267.62" cy="592.1" r="1.35" fill="none" stroke="#4b3f8f" stroke-width="0.7"/><circle cx="273.3" cy="593" r="1.35" fill="none" stroke="#4b3f8f" stroke-width="0.7"/><circle cx="278.98" cy="591.3" r="1.35" fill="none" stroke="#4b3f8f" stroke-width="0.7"/><circle cx="284.65" cy="594.8" r="1.35" fill="none" stroke="#4b3f8f" stroke-width="0.7"/><circle cx="290.32" cy="590.5" r="1.35" fill="none" stroke="#4b3f8f" stroke-width="0.7"/><circle cx="296" cy="589.6" r="1.35" fill="none" stroke="#4b3f8f" stroke-width="0.7"/></g><g clip-path="url(#cpg)"><g transform="translate(0.4,0.5)">
<polyline points="74.67,770 80.35,775 86.03,765 91.7,747 97.38,642.3 103.05,611.6 108.72,604.75 114.4,595.2 120.08,594.2 125.75,594.2 131.43,593.8 137.1,592.3 142.78,595.7 148.45,592.3 154.12,592.1 159.8,592.1 165.47,589.8 171.15,591.3 176.82,592.1 182.5,590.5 188.18,591.1 193.85,591.5 199.53,591.5 205.2,590.1 210.88,589.6 216.55,589.6 222.22,589.8 227.9,587.4 233.57,588.6 239.25,589 244.93,588.4 250.6,587.4 256.27,587.4 261.95,586.1 267.62,584.9 273.3,583.4 278.98,583.6 284.65,584.6 290.32,582.6 296,584.9" fill="none" stroke="#f0665f" stroke-width="0.85" stroke-linejoin="round"/>
</g></g><g transform="translate(0.4,0.5)"><rect x="96.03" y="640.95" width="2.7" height="2.7" fill="none" stroke="#f0665f" stroke-width="0.7"/><rect x="101.7" y="610.25" width="2.7" height="2.7" fill="none" stroke="#f0665f" stroke-width="0.7"/><rect x="107.38" y="603.4" width="2.7" height="2.7" fill="none" stroke="#f0665f" stroke-width="0.7"/><rect x="113.05" y="593.85" width="2.7" height="2.7" fill="none" stroke="#f0665f" stroke-width="0.7"/><rect x="118.73" y="592.85" width="2.7" height="2.7" fill="none" stroke="#f0665f" stroke-width="0.7"/><rect x="124.4" y="592.85" width="2.7" height="2.7" fill="none" stroke="#f0665f" stroke-width="0.7"/><rect x="130.08" y="592.45" width="2.7" height="2.7" fill="none" stroke="#f0665f" stroke-width="0.7"/><rect x="135.75" y="590.95" width="2.7" height="2.7" fill="none" stroke="#f0665f" stroke-width="0.7"/><rect x="141.43" y="594.35" width="2.7" height="2.7" fill="none" stroke="#f0665f" stroke-width="0.7"/><rect x="147.1" y="590.95" width="2.7" height="2.7" fill="none" stroke="#f0665f" stroke-width="0.7"/><rect x="152.78" y="590.75" width="2.7" height="2.7" fill="none" stroke="#f0665f" stroke-width="0.7"/><rect x="158.45" y="590.75" width="2.7" height="2.7" fill="none" stroke="#f0665f" stroke-width="0.7"/><rect x="164.12" y="588.45" width="2.7" height="2.7" fill="none" stroke="#f0665f" stroke-width="0.7"/><rect x="169.8" y="589.95" width="2.7" height="2.7" fill="none" stroke="#f0665f" stroke-width="0.7"/><rect x="175.47" y="590.75" width="2.7" height="2.7" fill="none" stroke="#f0665f" stroke-width="0.7"/><rect x="181.15" y="589.15" width="2.7" height="2.7" fill="none" stroke="#f0665f" stroke-width="0.7"/><rect x="186.83" y="589.75" width="2.7" height="2.7" fill="none" stroke="#f0665f" stroke-width="0.7"/><rect x="192.5" y="590.15" width="2.7" height="2.7" fill="none" stroke="#f0665f" stroke-width="0.7"/><rect x="198.18" y="590.15" width="2.7" height="2.7" fill="none" stroke="#f0665f" stroke-width="0.7"/><rect x="203.85" y="588.75" width="2.7" height="2.7" fill="none" stroke="#f0665f" stroke-width="0.7"/><rect x="209.53" y="588.25" width="2.7" height="2.7" fill="none" stroke="#f0665f" stroke-width="0.7"/><rect x="215.2" y="588.25" width="2.7" height="2.7" fill="none" stroke="#f0665f" stroke-width="0.7"/><rect x="220.88" y="588.45" width="2.7" height="2.7" fill="none" stroke="#f0665f" stroke-width="0.7"/><rect x="226.55" y="586.05" width="2.7" height="2.7" fill="none" stroke="#f0665f" stroke-width="0.7"/><rect x="232.22" y="587.25" width="2.7" height="2.7" fill="none" stroke="#f0665f" stroke-width="0.7"/><rect x="237.9" y="587.65" width="2.7" height="2.7" fill="none" stroke="#f0665f" stroke-width="0.7"/><rect x="243.58" y="587.05" width="2.7" height="2.7" fill="none" stroke="#f0665f" stroke-width="0.7"/><rect x="249.25" y="586.05" width="2.7" height="2.7" fill="none" stroke="#f0665f" stroke-width="0.7"/><rect x="254.92" y="586.05" width="2.7" height="2.7" fill="none" stroke="#f0665f" stroke-width="0.7"/><rect x="260.6" y="584.75" width="2.7" height="2.7" fill="none" stroke="#f0665f" stroke-width="0.7"/><rect x="266.27" y="583.55" width="2.7" height="2.7" fill="none" stroke="#f0665f" stroke-width="0.7"/><rect x="271.95" y="582.05" width="2.7" height="2.7" fill="none" stroke="#f0665f" stroke-width="0.7"/><rect x="277.62" y="582.25" width="2.7" height="2.7" fill="none" stroke="#f0665f" stroke-width="0.7"/><rect x="283.3" y="583.25" width="2.7" height="2.7" fill="none" stroke="#f0665f" stroke-width="0.7"/><rect x="288.97" y="581.25" width="2.7" height="2.7" fill="none" stroke="#f0665f" stroke-width="0.7"/><rect x="294.65" y="583.55" width="2.7" height="2.7" fill="none" stroke="#f0665f" stroke-width="0.7"/></g><g clip-path="url(#cpg)"><g transform="translate(0.4,0.5)">
<polyline points="74.67,768.5 80.35,705 86.03,619.4 91.7,614.3 97.38,592.1 103.05,599.2 108.72,589.8 114.4,589.6 120.08,589.6 125.75,584.5 131.43,584.9 137.1,582.4 142.78,581.1 148.45,581.8 154.12,580.5 159.8,579.7 165.47,580.2 171.15,583.4 176.82,580.9 182.5,579.3 188.18,579.9 193.85,579.9 199.53,578.4 205.2,578 210.88,579.3 216.55,578 222.22,577.7 227.9,577.2 233.57,577.7 239.25,578.7 244.93,578.7 250.6,576.4 256.27,577.4 261.95,577.2 267.62,576.8 273.3,576.8 278.98,577.2 284.65,576.4 290.32,576.8 296,576.8" fill="none" stroke="#ffa733" stroke-width="0.85" stroke-linejoin="round"/>
</g></g><g transform="translate(0.4,0.5)"><polygon points="78.57,703.57 82.13,703.57 80.35,706.69" fill="none" stroke="#ffa733" stroke-width="0.7" stroke-linejoin="miter"/><polygon points="84.24,617.97 87.81,617.97 86.03,621.09" fill="none" stroke="#ffa733" stroke-width="0.7" stroke-linejoin="miter"/><polygon points="89.92,612.87 93.48,612.87 91.7,615.99" fill="none" stroke="#ffa733" stroke-width="0.7" stroke-linejoin="miter"/><polygon points="95.59,590.67 99.16,590.67 97.38,593.79" fill="none" stroke="#ffa733" stroke-width="0.7" stroke-linejoin="miter"/><polygon points="101.27,597.77 104.83,597.77 103.05,600.89" fill="none" stroke="#ffa733" stroke-width="0.7" stroke-linejoin="miter"/><polygon points="106.94,588.37 110.51,588.37 108.72,591.49" fill="none" stroke="#ffa733" stroke-width="0.7" stroke-linejoin="miter"/><polygon points="112.62,588.17 116.18,588.17 114.4,591.29" fill="none" stroke="#ffa733" stroke-width="0.7" stroke-linejoin="miter"/><polygon points="118.29,588.17 121.86,588.17 120.08,591.29" fill="none" stroke="#ffa733" stroke-width="0.7" stroke-linejoin="miter"/><polygon points="123.97,583.07 127.53,583.07 125.75,586.19" fill="none" stroke="#ffa733" stroke-width="0.7" stroke-linejoin="miter"/><polygon points="129.64,583.47 133.21,583.47 131.43,586.59" fill="none" stroke="#ffa733" stroke-width="0.7" stroke-linejoin="miter"/><polygon points="135.32,580.97 138.88,580.97 137.1,584.09" fill="none" stroke="#ffa733" stroke-width="0.7" stroke-linejoin="miter"/><polygon points="140.99,579.67 144.56,579.67 142.78,582.79" fill="none" stroke="#ffa733" stroke-width="0.7" stroke-linejoin="miter"/><polygon points="146.67,580.37 150.23,580.37 148.45,583.49" fill="none" stroke="#ffa733" stroke-width="0.7" stroke-linejoin="miter"/><polygon points="152.34,579.07 155.91,579.07 154.12,582.19" fill="none" stroke="#ffa733" stroke-width="0.7" stroke-linejoin="miter"/><polygon points="158.02,578.27 161.58,578.27 159.8,581.39" fill="none" stroke="#ffa733" stroke-width="0.7" stroke-linejoin="miter"/><polygon points="163.69,578.77 167.26,578.77 165.47,581.89" fill="none" stroke="#ffa733" stroke-width="0.7" stroke-linejoin="miter"/><polygon points="169.37,581.97 172.93,581.97 171.15,585.09" fill="none" stroke="#ffa733" stroke-width="0.7" stroke-linejoin="miter"/><polygon points="175.04,579.47 178.61,579.47 176.82,582.59" fill="none" stroke="#ffa733" stroke-width="0.7" stroke-linejoin="miter"/><polygon points="180.72,577.87 184.28,577.87 182.5,580.99" fill="none" stroke="#ffa733" stroke-width="0.7" stroke-linejoin="miter"/><polygon points="186.39,578.47 189.96,578.47 188.18,581.59" fill="none" stroke="#ffa733" stroke-width="0.7" stroke-linejoin="miter"/><polygon points="192.07,578.47 195.63,578.47 193.85,581.59" fill="none" stroke="#ffa733" stroke-width="0.7" stroke-linejoin="miter"/><polygon points="197.74,576.97 201.31,576.97 199.53,580.09" fill="none" stroke="#ffa733" stroke-width="0.7" stroke-linejoin="miter"/><polygon points="203.42,576.57 206.98,576.57 205.2,579.69" fill="none" stroke="#ffa733" stroke-width="0.7" stroke-linejoin="miter"/><polygon points="209.09,577.87 212.66,577.87 210.88,580.99" fill="none" stroke="#ffa733" stroke-width="0.7" stroke-linejoin="miter"/><polygon points="214.77,576.57 218.33,576.57 216.55,579.69" fill="none" stroke="#ffa733" stroke-width="0.7" stroke-linejoin="miter"/><polygon points="220.44,576.27 224.01,576.27 222.22,579.39" fill="none" stroke="#ffa733" stroke-width="0.7" stroke-linejoin="miter"/><polygon points="226.12,575.77 229.68,575.77 227.9,578.89" fill="none" stroke="#ffa733" stroke-width="0.7" stroke-linejoin="miter"/><polygon points="231.79,576.27 235.36,576.27 233.57,579.39" fill="none" stroke="#ffa733" stroke-width="0.7" stroke-linejoin="miter"/><polygon points="237.47,577.27 241.03,577.27 239.25,580.39" fill="none" stroke="#ffa733" stroke-width="0.7" stroke-linejoin="miter"/><polygon points="243.14,577.27 246.71,577.27 244.93,580.39" fill="none" stroke="#ffa733" stroke-width="0.7" stroke-linejoin="miter"/><polygon points="248.82,574.97 252.38,574.97 250.6,578.09" fill="none" stroke="#ffa733" stroke-width="0.7" stroke-linejoin="miter"/><polygon points="254.49,575.97 258.06,575.97 256.27,579.09" fill="none" stroke="#ffa733" stroke-width="0.7" stroke-linejoin="miter"/><polygon points="260.17,575.77 263.73,575.77 261.95,578.89" fill="none" stroke="#ffa733" stroke-width="0.7" stroke-linejoin="miter"/><polygon points="265.84,575.37 269.41,575.37 267.62,578.49" fill="none" stroke="#ffa733" stroke-width="0.7" stroke-linejoin="miter"/><polygon points="271.52,575.37 275.08,575.37 273.3,578.49" fill="none" stroke="#ffa733" stroke-width="0.7" stroke-linejoin="miter"/><polygon points="277.19,575.77 280.76,575.77 278.98,578.89" fill="none" stroke="#ffa733" stroke-width="0.7" stroke-linejoin="miter"/><polygon points="282.87,574.97 286.43,574.97 284.65,578.09" fill="none" stroke="#ffa733" stroke-width="0.7" stroke-linejoin="miter"/><polygon points="288.54,575.37 292.11,575.37 290.32,578.49" fill="none" stroke="#ffa733" stroke-width="0.7" stroke-linejoin="miter"/><polygon points="294.22,575.37 297.78,575.37 296,578.49" fill="none" stroke="#ffa733" stroke-width="0.7" stroke-linejoin="miter"/></g><g clip-path="url(#cpg)"><g transform="translate(0.4,0.5)">
</g></g>
<rect x="69.5" y="565.6" width="226.5" height="169.3" fill="none" stroke="#3a3a3a" stroke-width="0.75"/>
<path d="M69.5 734.9h2.3M296 734.9h-2.3" stroke="#262626" stroke-width="0.7"/>
<text transform="translate(64.7,740.5) scale(1,1.05)" font-size="14.2" text-anchor="end" font-family="Liberation Sans, sans-serif" fill="#262626">60</text>
<path d="M69.5 650.25h2.3M296 650.25h-2.3" stroke="#262626" stroke-width="0.7"/>
<text transform="translate(64.7,655.85) scale(1,1.05)" font-size="14.2" text-anchor="end" font-family="Liberation Sans, sans-serif" fill="#262626">80</text>
<path d="M69.5 565.6h2.3M296 565.6h-2.3" stroke="#262626" stroke-width="0.7"/>
<text transform="translate(64.7,571.2) scale(1,1.05)" font-size="14.2" text-anchor="end" font-family="Liberation Sans, sans-serif" fill="#262626">100</text>
<path d="M182.5 734.9v-2.3M182.5 565.6v2.3" stroke="#262626" stroke-width="0.7"/>
<text transform="translate(182.5,754.9) scale(1,1.05)" font-size="14.2" text-anchor="middle" font-family="Liberation Sans, sans-serif" fill="#262626">200</text>
<path d="M296 734.9v-2.3M296 565.6v2.3" stroke="#262626" stroke-width="0.7"/>
<text transform="translate(296,754.9) scale(1,1.05)" font-size="14.2" text-anchor="middle" font-family="Liberation Sans, sans-serif" fill="#262626">400</text>
<text x="181.75" y="774.7" font-size="16" text-anchor="middle" font-family="Liberation Sans, sans-serif" fill="#262626" >Communication round</text>
<text transform="translate(35,650.25) rotate(-90)" font-size="16" text-anchor="middle" font-family="Liberation Sans, sans-serif" fill="#262626">Accuracy (%)</text>
<text x="171.4" y="796.7" font-size="14.5" text-anchor="middle" font-family="Liberation Serif, serif" fill="#1a1a1a" >(g) FMNIST</text>
<rect x="150.3" y="664.5" width="142.3" height="55.7" fill="#fff" stroke="#262626" stroke-width="0.7"/>
<line x1="153" x2="168.7" y1="674.8" y2="674.8" stroke="#4b3f8f" stroke-width="0.8"/>
<circle cx="160.9" cy="674.8" r="1.2" fill="#4b3f8f" stroke="#4b3f8f" stroke-width="0.85"/>
<text x="170.7" y="677.5" font-size="14.5" text-anchor="start" font-family="Liberation Serif, serif" fill="#1a1a1a" textLength="105" lengthAdjust="spacingAndGlyphs">pFedCal-w/o-cal</text>
<line x1="153" x2="168.7" y1="692.7" y2="692.7" stroke="#f0665f" stroke-width="0.8"/>
<rect x="159.7" y="691.5" width="2.4" height="2.4" fill="#f0665f" stroke="#f0665f" stroke-width="0.85"/>
<text x="170.7" y="695.4" font-size="14.5" text-anchor="start" font-family="Liberation Serif, serif" fill="#1a1a1a" textLength="118.7" lengthAdjust="spacingAndGlyphs">pFedCal-w/o-mom</text>
<line x1="153" x2="168.7" y1="710.6" y2="710.6" stroke="#ffa733" stroke-width="0.8"/>
<polygon points="159.32,709.33 162.48,709.33 160.9,712.1" fill="#ffa733" stroke="#ffa733" stroke-width="0.85" stroke-linejoin="miter"/>
<text x="170.7" y="713.3" font-size="14.5" text-anchor="start" font-family="Liberation Serif, serif" fill="#1a1a1a" textLength="52.4" lengthAdjust="spacingAndGlyphs">pFedCal</text>
</g>
<g>
<line x1="380.8" x2="615.5" y1="650.25" y2="650.25" stroke="#e3e3e3" stroke-width="0.7"/>
<line y1="565.6" y2="734.9" x1="498.1" x2="498.1" stroke="#e3e3e3" stroke-width="0.7"/>
<clipPath id="cph"><rect x="380.8" y="565.6" width="234.7" height="169.3"/></clipPath>
<g clip-path="url(#cph)"><g transform="translate(0,0)">
<polyline points="386.57,686 392.44,694.9 398.31,689 404.18,693.2 410.05,690.6 415.92,689.5 421.79,687.8 427.66,681.6 433.53,684.8 439.4,664.1 445.27,640.8 451.14,628.4 457.01,624.9 462.88,621.6 468.75,619.5 474.62,615 480.49,620.3 486.36,616.2 492.23,611 498.1,604.7 503.97,612.8 509.84,611.6 515.71,605.7 521.58,614.1 527.45,609.7 533.32,609.1 539.19,611.2 545.06,605.4 550.93,608.5 556.8,606.6 562.67,605 568.54,601 574.41,605 580.28,605 586.15,604.5 592.02,601.6 597.89,607.5 603.76,599.8 609.63,600.8 615.5,599.5" fill="none" stroke="#4b3f8f" stroke-width="0.85" stroke-linejoin="round"/>
</g></g><g transform="translate(0,0)"><circle cx="386.57" cy="686" r="1.35" fill="none" stroke="#4b3f8f" stroke-width="0.7"/><circle cx="392.44" cy="694.9" r="1.35" fill="none" stroke="#4b3f8f" stroke-width="0.7"/><circle cx="398.31" cy="689" r="1.35" fill="none" stroke="#4b3f8f" stroke-width="0.7"/><circle cx="404.18" cy="693.2" r="1.35" fill="none" stroke="#4b3f8f" stroke-width="0.7"/><circle cx="410.05" cy="690.6" r="1.35" fill="none" stroke="#4b3f8f" stroke-width="0.7"/><circle cx="415.92" cy="689.5" r="1.35" fill="none" stroke="#4b3f8f" stroke-width="0.7"/><circle cx="421.79" cy="687.8" r="1.35" fill="none" stroke="#4b3f8f" stroke-width="0.7"/><circle cx="427.66" cy="681.6" r="1.35" fill="none" stroke="#4b3f8f" stroke-width="0.7"/><circle cx="433.53" cy="684.8" r="1.35" fill="none" stroke="#4b3f8f" stroke-width="0.7"/><circle cx="439.4" cy="664.1" r="1.35" fill="none" stroke="#4b3f8f" stroke-width="0.7"/><circle cx="445.27" cy="640.8" r="1.35" fill="none" stroke="#4b3f8f" stroke-width="0.7"/><circle cx="451.14" cy="628.4" r="1.35" fill="none" stroke="#4b3f8f" stroke-width="0.7"/><circle cx="457.01" cy="624.9" r="1.35" fill="none" stroke="#4b3f8f" stroke-width="0.7"/><circle cx="462.88" cy="621.6" r="1.35" fill="none" stroke="#4b3f8f" stroke-width="0.7"/><circle cx="468.75" cy="619.5" r="1.35" fill="none" stroke="#4b3f8f" stroke-width="0.7"/><circle cx="474.62" cy="615" r="1.35" fill="none" stroke="#4b3f8f" stroke-width="0.7"/><circle cx="480.49" cy="620.3" r="1.35" fill="none" stroke="#4b3f8f" stroke-width="0.7"/><circle cx="486.36" cy="616.2" r="1.35" fill="none" stroke="#4b3f8f" stroke-width="0.7"/><circle cx="492.23" cy="611" r="1.35" fill="none" stroke="#4b3f8f" stroke-width="0.7"/><circle cx="498.1" cy="604.7" r="1.35" fill="none" stroke="#4b3f8f" stroke-width="0.7"/><circle cx="503.97" cy="612.8" r="1.35" fill="none" stroke="#4b3f8f" stroke-width="0.7"/><circle cx="509.84" cy="611.6" r="1.35" fill="none" stroke="#4b3f8f" stroke-width="0.7"/><circle cx="515.71" cy="605.7" r="1.35" fill="none" stroke="#4b3f8f" stroke-width="0.7"/><circle cx="521.58" cy="614.1" r="1.35" fill="none" stroke="#4b3f8f" stroke-width="0.7"/><circle cx="527.45" cy="609.7" r="1.35" fill="none" stroke="#4b3f8f" stroke-width="0.7"/><circle cx="533.32" cy="609.1" r="1.35" fill="none" stroke="#4b3f8f" stroke-width="0.7"/><circle cx="539.19" cy="611.2" r="1.35" fill="none" stroke="#4b3f8f" stroke-width="0.7"/><circle cx="545.06" cy="605.4" r="1.35" fill="none" stroke="#4b3f8f" stroke-width="0.7"/><circle cx="550.93" cy="608.5" r="1.35" fill="none" stroke="#4b3f8f" stroke-width="0.7"/><circle cx="556.8" cy="606.6" r="1.35" fill="none" stroke="#4b3f8f" stroke-width="0.7"/><circle cx="562.67" cy="605" r="1.35" fill="none" stroke="#4b3f8f" stroke-width="0.7"/><circle cx="568.54" cy="601" r="1.35" fill="none" stroke="#4b3f8f" stroke-width="0.7"/><circle cx="574.41" cy="605" r="1.35" fill="none" stroke="#4b3f8f" stroke-width="0.7"/><circle cx="580.28" cy="605" r="1.35" fill="none" stroke="#4b3f8f" stroke-width="0.7"/><circle cx="586.15" cy="604.5" r="1.35" fill="none" stroke="#4b3f8f" stroke-width="0.7"/><circle cx="592.02" cy="601.6" r="1.35" fill="none" stroke="#4b3f8f" stroke-width="0.7"/><circle cx="597.89" cy="607.5" r="1.35" fill="none" stroke="#4b3f8f" stroke-width="0.7"/><circle cx="603.76" cy="599.8" r="1.35" fill="none" stroke="#4b3f8f" stroke-width="0.7"/><circle cx="609.63" cy="600.8" r="1.35" fill="none" stroke="#4b3f8f" stroke-width="0.7"/><circle cx="615.5" cy="599.5" r="1.35" fill="none" stroke="#4b3f8f" stroke-width="0.7"/></g><g clip-path="url(#cph)"><g transform="translate(0,0)">
<polyline points="386.57,635.2 392.44,622.5 398.31,622.2 404.18,613.5 410.05,599.6 415.92,606.1 421.79,597.4 427.66,592.1 433.53,591.1 439.4,594.25 445.27,590.5 451.14,592.4 457.01,589.7 462.88,589.7 468.75,589.3 474.62,583.4 480.49,586.2 486.36,585.6 492.23,584.3 498.1,582.5 503.97,590.2 509.84,581.8 515.71,582.4 521.58,581.8 527.45,580.9 533.32,584.6 539.19,582.4 545.06,579.3 550.93,583.4 556.8,582.4 562.67,587.7 568.54,580.5 574.41,578 580.28,577.7 586.15,586.4 592.02,580.5 597.89,580.2 603.76,575.6 609.63,579.7 615.5,580.9" fill="none" stroke="#f0665f" stroke-width="0.85" stroke-linejoin="round"/>
</g></g><g transform="translate(0,0)"><rect x="385.22" y="633.85" width="2.7" height="2.7" fill="none" stroke="#f0665f" stroke-width="0.7"/><rect x="391.09" y="621.15" width="2.7" height="2.7" fill="none" stroke="#f0665f" stroke-width="0.7"/><rect x="396.96" y="620.85" width="2.7" height="2.7" fill="none" stroke="#f0665f" stroke-width="0.7"/><rect x="402.83" y="612.15" width="2.7" height="2.7" fill="none" stroke="#f0665f" stroke-width="0.7"/><rect x="408.7" y="598.25" width="2.7" height="2.7" fill="none" stroke="#f0665f" stroke-width="0.7"/><rect x="414.57" y="604.75" width="2.7" height="2.7" fill="none" stroke="#f0665f" stroke-width="0.7"/><rect x="420.44" y="596.05" width="2.7" height="2.7" fill="none" stroke="#f0665f" stroke-width="0.7"/><rect x="426.31" y="590.75" width="2.7" height="2.7" fill="none" stroke="#f0665f" stroke-width="0.7"/><rect x="432.18" y="589.75" width="2.7" height="2.7" fill="none" stroke="#f0665f" stroke-width="0.7"/><rect x="438.05" y="592.9" width="2.7" height="2.7" fill="none" stroke="#f0665f" stroke-width="0.7"/><rect x="443.92" y="589.15" width="2.7" height="2.7" fill="none" stroke="#f0665f" stroke-width="0.7"/><rect x="449.79" y="591.05" width="2.7" height="2.7" fill="none" stroke="#f0665f" stroke-width="0.7"/><rect x="455.66" y="588.35" width="2.7" height="2.7" fill="none" stroke="#f0665f" stroke-width="0.7"/><rect x="461.53" y="588.35" width="2.7" height="2.7" fill="none" stroke="#f0665f" stroke-width="0.7"/><rect x="467.4" y="587.95" width="2.7" height="2.7" fill="none" stroke="#f0665f" stroke-width="0.7"/><rect x="473.27" y="582.05" width="2.7" height="2.7" fill="none" stroke="#f0665f" stroke-width="0.7"/><rect x="479.14" y="584.85" width="2.7" height="2.7" fill="none" stroke="#f0665f" stroke-width="0.7"/><rect x="485.01" y="584.25" width="2.7" height="2.7" fill="none" stroke="#f0665f" stroke-width="0.7"/><rect x="490.88" y="582.95" width="2.7" height="2.7" fill="none" stroke="#f0665f" stroke-width="0.7"/><rect x="496.75" y="581.15" width="2.7" height="2.7" fill="none" stroke="#f0665f" stroke-width="0.7"/><rect x="502.62" y="588.85" width="2.7" height="2.7" fill="none" stroke="#f0665f" stroke-width="0.7"/><rect x="508.49" y="580.45" width="2.7" height="2.7" fill="none" stroke="#f0665f" stroke-width="0.7"/><rect x="514.36" y="581.05" width="2.7" height="2.7" fill="none" stroke="#f0665f" stroke-width="0.7"/><rect x="520.23" y="580.45" width="2.7" height="2.7" fill="none" stroke="#f0665f" stroke-width="0.7"/><rect x="526.1" y="579.55" width="2.7" height="2.7" fill="none" stroke="#f0665f" stroke-width="0.7"/><rect x="531.97" y="583.25" width="2.7" height="2.7" fill="none" stroke="#f0665f" stroke-width="0.7"/><rect x="537.84" y="581.05" width="2.7" height="2.7" fill="none" stroke="#f0665f" stroke-width="0.7"/><rect x="543.71" y="577.95" width="2.7" height="2.7" fill="none" stroke="#f0665f" stroke-width="0.7"/><rect x="549.58" y="582.05" width="2.7" height="2.7" fill="none" stroke="#f0665f" stroke-width="0.7"/><rect x="555.45" y="581.05" width="2.7" height="2.7" fill="none" stroke="#f0665f" stroke-width="0.7"/><rect x="561.32" y="586.35" width="2.7" height="2.7" fill="none" stroke="#f0665f" stroke-width="0.7"/><rect x="567.19" y="579.15" width="2.7" height="2.7" fill="none" stroke="#f0665f" stroke-width="0.7"/><rect x="573.06" y="576.65" width="2.7" height="2.7" fill="none" stroke="#f0665f" stroke-width="0.7"/><rect x="578.93" y="576.35" width="2.7" height="2.7" fill="none" stroke="#f0665f" stroke-width="0.7"/><rect x="584.8" y="585.05" width="2.7" height="2.7" fill="none" stroke="#f0665f" stroke-width="0.7"/><rect x="590.67" y="579.15" width="2.7" height="2.7" fill="none" stroke="#f0665f" stroke-width="0.7"/><rect x="596.54" y="578.85" width="2.7" height="2.7" fill="none" stroke="#f0665f" stroke-width="0.7"/><rect x="602.41" y="574.25" width="2.7" height="2.7" fill="none" stroke="#f0665f" stroke-width="0.7"/><rect x="608.28" y="578.35" width="2.7" height="2.7" fill="none" stroke="#f0665f" stroke-width="0.7"/><rect x="614.15" y="579.55" width="2.7" height="2.7" fill="none" stroke="#f0665f" stroke-width="0.7"/></g><g clip-path="url(#cph)"><g transform="translate(0,0)">
<polyline points="386.57,668.4 392.44,629 398.31,613.9 404.18,619.5 410.05,610 415.92,606.1 421.79,593.6 427.66,596.4 433.53,592.4 439.4,594.9 445.27,583.9 451.14,593 457.01,583.4 462.88,593.4 468.75,584.7 474.62,588.4 480.49,581.5 486.36,583.9 492.23,576.2 498.1,584.9 503.97,582.4 509.84,581.8 515.71,581.1 521.58,580.5 527.45,580.2 533.32,580.5 539.19,580.5 545.06,575.6 550.93,572.7 556.8,579.7 562.67,574.7 568.54,575.9 574.41,576.4 580.28,573.7 586.15,570.6 592.02,574.3 597.89,572.7 603.76,572.5 609.63,569 615.5,572.7" fill="none" stroke="#ffa733" stroke-width="0.85" stroke-linejoin="round"/>
</g></g><g transform="translate(0,0)"><polygon points="384.79,666.97 388.35,666.97 386.57,670.09" fill="none" stroke="#ffa733" stroke-width="0.7" stroke-linejoin="miter"/><polygon points="390.66,627.57 394.22,627.57 392.44,630.69" fill="none" stroke="#ffa733" stroke-width="0.7" stroke-linejoin="miter"/><polygon points="396.53,612.47 400.09,612.47 398.31,615.59" fill="none" stroke="#ffa733" stroke-width="0.7" stroke-linejoin="miter"/><polygon points="402.4,618.07 405.96,618.07 404.18,621.19" fill="none" stroke="#ffa733" stroke-width="0.7" stroke-linejoin="miter"/><polygon points="408.27,608.57 411.83,608.57 410.05,611.69" fill="none" stroke="#ffa733" stroke-width="0.7" stroke-linejoin="miter"/><polygon points="414.14,604.67 417.7,604.67 415.92,607.79" fill="none" stroke="#ffa733" stroke-width="0.7" stroke-linejoin="miter"/><polygon points="420.01,592.17 423.57,592.17 421.79,595.29" fill="none" stroke="#ffa733" stroke-width="0.7" stroke-linejoin="miter"/><polygon points="425.88,594.97 429.44,594.97 427.66,598.09" fill="none" stroke="#ffa733" stroke-width="0.7" stroke-linejoin="miter"/><polygon points="431.75,590.97 435.31,590.97 433.53,594.09" fill="none" stroke="#ffa733" stroke-width="0.7" stroke-linejoin="miter"/><polygon points="437.62,593.47 441.18,593.47 439.4,596.59" fill="none" stroke="#ffa733" stroke-width="0.7" stroke-linejoin="miter"/><polygon points="443.49,582.47 447.05,582.47 445.27,585.59" fill="none" stroke="#ffa733" stroke-width="0.7" stroke-linejoin="miter"/><polygon points="449.36,591.57 452.92,591.57 451.14,594.69" fill="none" stroke="#ffa733" stroke-width="0.7" stroke-linejoin="miter"/><polygon points="455.23,581.97 458.79,581.97 457.01,585.09" fill="none" stroke="#ffa733" stroke-width="0.7" stroke-linejoin="miter"/><polygon points="461.1,591.97 464.66,591.97 462.88,595.09" fill="none" stroke="#ffa733" stroke-width="0.7" stroke-linejoin="miter"/><polygon points="466.97,583.27 470.53,583.27 468.75,586.39" fill="none" stroke="#ffa733" stroke-width="0.7" stroke-linejoin="miter"/><polygon points="472.84,586.97 476.4,586.97 474.62,590.09" fill="none" stroke="#ffa733" stroke-width="0.7" stroke-linejoin="miter"/><polygon points="478.71,580.07 482.27,580.07 480.49,583.19" fill="none" stroke="#ffa733" stroke-width="0.7" stroke-linejoin="miter"/><polygon points="484.58,582.47 488.14,582.47 486.36,585.59" fill="none" stroke="#ffa733" stroke-width="0.7" stroke-linejoin="miter"/><polygon points="490.45,574.77 494.01,574.77 492.23,577.89" fill="none" stroke="#ffa733" stroke-width="0.7" stroke-linejoin="miter"/><polygon points="496.32,583.47 499.88,583.47 498.1,586.59" fill="none" stroke="#ffa733" stroke-width="0.7" stroke-linejoin="miter"/><polygon points="502.19,580.97 505.75,580.97 503.97,584.09" fill="none" stroke="#ffa733" stroke-width="0.7" stroke-linejoin="miter"/><polygon points="508.06,580.37 511.62,580.37 509.84,583.49" fill="none" stroke="#ffa733" stroke-width="0.7" stroke-linejoin="miter"/><polygon points="513.93,579.67 517.49,579.67 515.71,582.79" fill="none" stroke="#ffa733" stroke-width="0.7" stroke-linejoin="miter"/><polygon points="519.8,579.07 523.36,579.07 521.58,582.19" fill="none" stroke="#ffa733" stroke-width="0.7" stroke-linejoin="miter"/><polygon points="525.67,578.77 529.23,578.77 527.45,581.89" fill="none" stroke="#ffa733" stroke-width="0.7" stroke-linejoin="miter"/><polygon points="531.54,579.07 535.1,579.07 533.32,582.19" fill="none" stroke="#ffa733" stroke-width="0.7" stroke-linejoin="miter"/><polygon points="537.41,579.07 540.97,579.07 539.19,582.19" fill="none" stroke="#ffa733" stroke-width="0.7" stroke-linejoin="miter"/><polygon points="543.28,574.17 546.84,574.17 545.06,577.29" fill="none" stroke="#ffa733" stroke-width="0.7" stroke-linejoin="miter"/><polygon points="549.15,571.27 552.71,571.27 550.93,574.39" fill="none" stroke="#ffa733" stroke-width="0.7" stroke-linejoin="miter"/><polygon points="555.02,578.27 558.58,578.27 556.8,581.39" fill="none" stroke="#ffa733" stroke-width="0.7" stroke-linejoin="miter"/><polygon points="560.89,573.27 564.45,573.27 562.67,576.39" fill="none" stroke="#ffa733" stroke-width="0.7" stroke-linejoin="miter"/><polygon points="566.76,574.47 570.32,574.47 568.54,577.59" fill="none" stroke="#ffa733" stroke-width="0.7" stroke-linejoin="miter"/><polygon points="572.63,574.97 576.19,574.97 574.41,578.09" fill="none" stroke="#ffa733" stroke-width="0.7" stroke-linejoin="miter"/><polygon points="578.5,572.27 582.06,572.27 580.28,575.39" fill="none" stroke="#ffa733" stroke-width="0.7" stroke-linejoin="miter"/><polygon points="584.37,569.17 587.93,569.17 586.15,572.29" fill="none" stroke="#ffa733" stroke-width="0.7" stroke-linejoin="miter"/><polygon points="590.24,572.87 593.8,572.87 592.02,575.99" fill="none" stroke="#ffa733" stroke-width="0.7" stroke-linejoin="miter"/><polygon points="596.11,571.27 599.67,571.27 597.89,574.39" fill="none" stroke="#ffa733" stroke-width="0.7" stroke-linejoin="miter"/><polygon points="601.98,571.07 605.54,571.07 603.76,574.19" fill="none" stroke="#ffa733" stroke-width="0.7" stroke-linejoin="miter"/><polygon points="607.85,567.57 611.41,567.57 609.63,570.69" fill="none" stroke="#ffa733" stroke-width="0.7" stroke-linejoin="miter"/><polygon points="613.72,571.27 617.28,571.27 615.5,574.39" fill="none" stroke="#ffa733" stroke-width="0.7" stroke-linejoin="miter"/></g><g clip-path="url(#cph)"><g transform="translate(0,0)">
</g></g>
<rect x="380.8" y="565.6" width="234.7" height="169.3" fill="none" stroke="#3a3a3a" stroke-width="0.75"/>
<path d="M380.8 734.9h2.3M615.5 734.9h-2.3" stroke="#262626" stroke-width="0.7"/>
<text transform="translate(376,740.5) scale(1,1.05)" font-size="14.2" text-anchor="end" font-family="Liberation Sans, sans-serif" fill="#262626">45</text>
<path d="M380.8 650.25h2.3M615.5 650.25h-2.3" stroke="#262626" stroke-width="0.7"/>
<text transform="translate(376,655.85) scale(1,1.05)" font-size="14.2" text-anchor="end" font-family="Liberation Sans, sans-serif" fill="#262626">65</text>
<path d="M380.8 565.6h2.3M615.5 565.6h-2.3" stroke="#262626" stroke-width="0.7"/>
<text transform="translate(376,571.2) scale(1,1.05)" font-size="14.2" text-anchor="end" font-family="Liberation Sans, sans-serif" fill="#262626">85</text>
<path d="M498.1 734.9v-2.3M498.1 565.6v2.3" stroke="#262626" stroke-width="0.7"/>
<text transform="translate(498.1,754.9) scale(1,1.05)" font-size="14.2" text-anchor="middle" font-family="Liberation Sans, sans-serif" fill="#262626">200</text>
<path d="M615.5 734.9v-2.3M615.5 565.6v2.3" stroke="#262626" stroke-width="0.7"/>
<text transform="translate(615.5,754.9) scale(1,1.05)" font-size="14.2" text-anchor="middle" font-family="Liberation Sans, sans-serif" fill="#262626">400</text>
<text x="497.15" y="774.7" font-size="16" text-anchor="middle" font-family="Liberation Sans, sans-serif" fill="#262626" >Communication round</text>
<text transform="translate(354.2,650.25) rotate(-90)" font-size="16" text-anchor="middle" font-family="Liberation Sans, sans-serif" fill="#262626">Accuracy (%)</text>
<text x="490.8" y="796.7" font-size="14.5" text-anchor="middle" font-family="Liberation Serif, serif" fill="#1a1a1a" >(h) CIFAR-10</text>
<rect x="469.7" y="664.5" width="141.3" height="55.7" fill="#fff" stroke="#262626" stroke-width="0.7"/>
<line x1="472.4" x2="488.1" y1="674.8" y2="674.8" stroke="#4b3f8f" stroke-width="0.8"/>
<circle cx="480.3" cy="674.8" r="1.2" fill="#4b3f8f" stroke="#4b3f8f" stroke-width="0.85"/>
<text x="490.1" y="677.5" font-size="14.5" text-anchor="start" font-family="Liberation Serif, serif" fill="#1a1a1a" textLength="105" lengthAdjust="spacingAndGlyphs">pFedCal-w/o-cal</text>
<line x1="472.4" x2="488.1" y1="692.7" y2="692.7" stroke="#f0665f" stroke-width="0.8"/>
<rect x="479.1" y="691.5" width="2.4" height="2.4" fill="#f0665f" stroke="#f0665f" stroke-width="0.85"/>
<text x="490.1" y="695.4" font-size="14.5" text-anchor="start" font-family="Liberation Serif, serif" fill="#1a1a1a" textLength="118.7" lengthAdjust="spacingAndGlyphs">pFedCal-w/o-mom</text>
<line x1="472.4" x2="488.1" y1="710.6" y2="710.6" stroke="#ffa733" stroke-width="0.8"/>
<polygon points="478.72,709.33 481.88,709.33 480.3,712.1" fill="#ffa733" stroke="#ffa733" stroke-width="0.85" stroke-linejoin="miter"/>
<text x="490.1" y="713.3" font-size="14.5" text-anchor="start" font-family="Liberation Serif, serif" fill="#1a1a1a" textLength="52.4" lengthAdjust="spacingAndGlyphs">pFedCal</text>
</g>
<g>
<line x1="700.2" x2="934.4" y1="696.42" y2="696.42" stroke="#e3e3e3" stroke-width="0.7"/>
<line x1="700.2" x2="934.4" y1="657.95" y2="657.95" stroke="#e3e3e3" stroke-width="0.7"/>
<line x1="700.2" x2="934.4" y1="619.47" y2="619.47" stroke="#e3e3e3" stroke-width="0.7"/>
<line x1="700.2" x2="934.4" y1="580.99" y2="580.99" stroke="#e3e3e3" stroke-width="0.7"/>
<clipPath id="cpi"><rect x="700.2" y="565.6" width="234.2" height="169.3"/></clipPath>
<g clip-path="url(#cpi)"><g transform="translate(0,0)">
<polyline points="711.91,705 723.62,691.5 735.33,680.3 747.04,682.2 758.75,672 770.46,662.4 782.17,666.4 793.88,654.8 805.59,643.4 817.3,644.75 829.01,644.6 840.72,639.3 852.43,632.9 864.14,636.4 875.85,626.25 887.56,623.7 899.27,626.9 910.98,621.8 922.69,611.1 934.4,624.6" fill="none" stroke="#4b3f8f" stroke-width="0.85" stroke-linejoin="round"/>
</g></g><g transform="translate(0,0)"><circle cx="711.91" cy="705" r="1.35" fill="none" stroke="#4b3f8f" stroke-width="0.7"/><circle cx="723.62" cy="691.5" r="1.35" fill="none" stroke="#4b3f8f" stroke-width="0.7"/><circle cx="735.33" cy="680.3" r="1.35" fill="none" stroke="#4b3f8f" stroke-width="0.7"/><circle cx="747.04" cy="682.2" r="1.35" fill="none" stroke="#4b3f8f" stroke-width="0.7"/><circle cx="758.75" cy="672" r="1.35" fill="none" stroke="#4b3f8f" stroke-width="0.7"/><circle cx="770.46" cy="662.4" r="1.35" fill="none" stroke="#4b3f8f" stroke-width="0.7"/><circle cx="782.17" cy="666.4" r="1.35" fill="none" stroke="#4b3f8f" stroke-width="0.7"/><circle cx="793.88" cy="654.8" r="1.35" fill="none" stroke="#4b3f8f" stroke-width="0.7"/><circle cx="805.59" cy="643.4" r="1.35" fill="none" stroke="#4b3f8f" stroke-width="0.7"/><circle cx="817.3" cy="644.75" r="1.35" fill="none" stroke="#4b3f8f" stroke-width="0.7"/><circle cx="829.01" cy="644.6" r="1.35" fill="none" stroke="#4b3f8f" stroke-width="0.7"/><circle cx="840.72" cy="639.3" r="1.35" fill="none" stroke="#4b3f8f" stroke-width="0.7"/><circle cx="852.43" cy="632.9" r="1.35" fill="none" stroke="#4b3f8f" stroke-width="0.7"/><circle cx="864.14" cy="636.4" r="1.35" fill="none" stroke="#4b3f8f" stroke-width="0.7"/><circle cx="875.85" cy="626.25" r="1.35" fill="none" stroke="#4b3f8f" stroke-width="0.7"/><circle cx="887.56" cy="623.7" r="1.35" fill="none" stroke="#4b3f8f" stroke-width="0.7"/><circle cx="899.27" cy="626.9" r="1.35" fill="none" stroke="#4b3f8f" stroke-width="0.7"/><circle cx="910.98" cy="621.8" r="1.35" fill="none" stroke="#4b3f8f" stroke-width="0.7"/><circle cx="922.69" cy="611.1" r="1.35" fill="none" stroke="#4b3f8f" stroke-width="0.7"/><circle cx="934.4" cy="624.6" r="1.35" fill="none" stroke="#4b3f8f" stroke-width="0.7"/></g><g clip-path="url(#cpi)"><g transform="translate(0,0)">
<polyline points="711.91,707.7 723.62,673 735.33,662 747.04,638.4 758.75,642.4 770.46,630.4 782.17,631.2 793.88,607.1 805.59,613 817.3,615.3 829.01,606.7 840.72,603.9 852.43,588.4 864.14,598.8 875.85,600.6 887.56,586.5 899.27,590.9 910.98,586.2 922.69,582.7 934.4,588.4" fill="none" stroke="#f0665f" stroke-width="0.85" stroke-linejoin="round"/>
</g></g><g transform="translate(0,0)"><rect x="710.56" y="706.35" width="2.7" height="2.7" fill="none" stroke="#f0665f" stroke-width="0.7"/><rect x="722.27" y="671.65" width="2.7" height="2.7" fill="none" stroke="#f0665f" stroke-width="0.7"/><rect x="733.98" y="660.65" width="2.7" height="2.7" fill="none" stroke="#f0665f" stroke-width="0.7"/><rect x="745.69" y="637.05" width="2.7" height="2.7" fill="none" stroke="#f0665f" stroke-width="0.7"/><rect x="757.4" y="641.05" width="2.7" height="2.7" fill="none" stroke="#f0665f" stroke-width="0.7"/><rect x="769.11" y="629.05" width="2.7" height="2.7" fill="none" stroke="#f0665f" stroke-width="0.7"/><rect x="780.82" y="629.85" width="2.7" height="2.7" fill="none" stroke="#f0665f" stroke-width="0.7"/><rect x="792.53" y="605.75" width="2.7" height="2.7" fill="none" stroke="#f0665f" stroke-width="0.7"/><rect x="804.24" y="611.65" width="2.7" height="2.7" fill="none" stroke="#f0665f" stroke-width="0.7"/><rect x="815.95" y="613.95" width="2.7" height="2.7" fill="none" stroke="#f0665f" stroke-width="0.7"/><rect x="827.66" y="605.35" width="2.7" height="2.7" fill="none" stroke="#f0665f" stroke-width="0.7"/><rect x="839.37" y="602.55" width="2.7" height="2.7" fill="none" stroke="#f0665f" stroke-width="0.7"/><rect x="851.08" y="587.05" width="2.7" height="2.7" fill="none" stroke="#f0665f" stroke-width="0.7"/><rect x="862.79" y="597.45" width="2.7" height="2.7" fill="none" stroke="#f0665f" stroke-width="0.7"/><rect x="874.5" y="599.25" width="2.7" height="2.7" fill="none" stroke="#f0665f" stroke-width="0.7"/><rect x="886.21" y="585.15" width="2.7" height="2.7" fill="none" stroke="#f0665f" stroke-width="0.7"/><rect x="897.92" y="589.55" width="2.7" height="2.7" fill="none" stroke="#f0665f" stroke-width="0.7"/><rect x="909.63" y="584.85" width="2.7" height="2.7" fill="none" stroke="#f0665f" stroke-width="0.7"/><rect x="921.34" y="581.35" width="2.7" height="2.7" fill="none" stroke="#f0665f" stroke-width="0.7"/><rect x="933.05" y="587.05" width="2.7" height="2.7" fill="none" stroke="#f0665f" stroke-width="0.7"/></g><g clip-path="url(#cpi)"><g transform="translate(0,0)">
<polyline points="711.91,709.8 723.62,665.8 735.33,669.3 747.04,632.9 758.75,637.5 770.46,622.9 782.17,627.3 793.88,608.6 805.59,611.4 817.3,608.6 829.01,594.7 840.72,595.1 852.43,582 864.14,590.9 875.85,595.9 887.56,583.9 899.27,583.7 910.98,585.2 922.69,580.8 934.4,580.2" fill="none" stroke="#ffa733" stroke-width="0.85" stroke-linejoin="round"/>
</g></g><g transform="translate(0,0)"><polygon points="710.13,708.37 713.69,708.37 711.91,711.49" fill="none" stroke="#ffa733" stroke-width="0.7" stroke-linejoin="miter"/><polygon points="721.84,664.37 725.4,664.37 723.62,667.49" fill="none" stroke="#ffa733" stroke-width="0.7" stroke-linejoin="miter"/><polygon points="733.55,667.87 737.11,667.87 735.33,670.99" fill="none" stroke="#ffa733" stroke-width="0.7" stroke-linejoin="miter"/><polygon points="745.26,631.47 748.82,631.47 747.04,634.59" fill="none" stroke="#ffa733" stroke-width="0.7" stroke-linejoin="miter"/><polygon points="756.97,636.07 760.53,636.07 758.75,639.19" fill="none" stroke="#ffa733" stroke-width="0.7" stroke-linejoin="miter"/><polygon points="768.68,621.47 772.24,621.47 770.46,624.59" fill="none" stroke="#ffa733" stroke-width="0.7" stroke-linejoin="miter"/><polygon points="780.39,625.87 783.95,625.87 782.17,628.99" fill="none" stroke="#ffa733" stroke-width="0.7" stroke-linejoin="miter"/><polygon points="792.1,607.17 795.66,607.17 793.88,610.29" fill="none" stroke="#ffa733" stroke-width="0.7" stroke-linejoin="miter"/><polygon points="803.81,609.97 807.37,609.97 805.59,613.09" fill="none" stroke="#ffa733" stroke-width="0.7" stroke-linejoin="miter"/><polygon points="815.52,607.17 819.08,607.17 817.3,610.29" fill="none" stroke="#ffa733" stroke-width="0.7" stroke-linejoin="miter"/><polygon points="827.23,593.27 830.79,593.27 829.01,596.39" fill="none" stroke="#ffa733" stroke-width="0.7" stroke-linejoin="miter"/><polygon points="838.94,593.67 842.5,593.67 840.72,596.79" fill="none" stroke="#ffa733" stroke-width="0.7" stroke-linejoin="miter"/><polygon points="850.65,580.57 854.21,580.57 852.43,583.69" fill="none" stroke="#ffa733" stroke-width="0.7" stroke-linejoin="miter"/><polygon points="862.36,589.47 865.92,589.47 864.14,592.59" fill="none" stroke="#ffa733" stroke-width="0.7" stroke-linejoin="miter"/><polygon points="874.07,594.47 877.63,594.47 875.85,597.59" fill="none" stroke="#ffa733" stroke-width="0.7" stroke-linejoin="miter"/><polygon points="885.78,582.47 889.34,582.47 887.56,585.59" fill="none" stroke="#ffa733" stroke-width="0.7" stroke-linejoin="miter"/><polygon points="897.49,582.27 901.05,582.27 899.27,585.39" fill="none" stroke="#ffa733" stroke-width="0.7" stroke-linejoin="miter"/><polygon points="909.2,583.77 912.76,583.77 910.98,586.89" fill="none" stroke="#ffa733" stroke-width="0.7" stroke-linejoin="miter"/><polygon points="920.91,579.37 924.47,579.37 922.69,582.49" fill="none" stroke="#ffa733" stroke-width="0.7" stroke-linejoin="miter"/><polygon points="932.62,578.77 936.18,578.77 934.4,581.89" fill="none" stroke="#ffa733" stroke-width="0.7" stroke-linejoin="miter"/></g><g clip-path="url(#cpi)"><g transform="translate(0,0)">
</g></g>
<rect x="700.2" y="565.6" width="234.2" height="169.3" fill="none" stroke="#3a3a3a" stroke-width="0.75"/>
<path d="M700.2 734.9h2.3M934.4 734.9h-2.3" stroke="#262626" stroke-width="0.7"/>
<text transform="translate(695.4,740.5) scale(1,1.05)" font-size="14.2" text-anchor="end" font-family="Liberation Sans, sans-serif" fill="#262626">50</text>
<path d="M700.2 696.42h2.3M934.4 696.42h-2.3" stroke="#262626" stroke-width="0.7"/>
<text transform="translate(695.4,702.02) scale(1,1.05)" font-size="14.2" text-anchor="end" font-family="Liberation Sans, sans-serif" fill="#262626">55</text>
<path d="M700.2 657.95h2.3M934.4 657.95h-2.3" stroke="#262626" stroke-width="0.7"/>
<text transform="translate(695.4,663.55) scale(1,1.05)" font-size="14.2" text-anchor="end" font-family="Liberation Sans, sans-serif" fill="#262626">60</text>
<path d="M700.2 619.47h2.3M934.4 619.47h-2.3" stroke="#262626" stroke-width="0.7"/>
<text transform="translate(695.4,625.07) scale(1,1.05)" font-size="14.2" text-anchor="end" font-family="Liberation Sans, sans-serif" fill="#262626">65</text>
<path d="M700.2 580.99h2.3M934.4 580.99h-2.3" stroke="#262626" stroke-width="0.7"/>
<text transform="translate(695.4,586.59) scale(1,1.05)" font-size="14.2" text-anchor="end" font-family="Liberation Sans, sans-serif" fill="#262626">70</text>
<path d="M934.4 734.9v-2.3M934.4 565.6v2.3" stroke="#262626" stroke-width="0.7"/>
<text transform="translate(934.4,754.9) scale(1,1.05)" font-size="14.2" text-anchor="middle" font-family="Liberation Sans, sans-serif" fill="#262626">200</text>
<text x="816.3" y="774.7" font-size="16" text-anchor="middle" font-family="Liberation Sans, sans-serif" fill="#262626" >Communication round</text>
<text transform="translate(673,650.25) rotate(-90)" font-size="16" text-anchor="middle" font-family="Liberation Sans, sans-serif" fill="#262626">Accuracy (%)</text>
<text x="809.5" y="796.7" font-size="14.5" text-anchor="middle" font-family="Liberation Serif, serif" fill="#1a1a1a" >(i) CIFAR-100</text>
<rect x="787.4" y="664.5" width="142.2" height="55.7" fill="#fff" stroke="#262626" stroke-width="0.7"/>
<line x1="790.1" x2="805.8" y1="674.8" y2="674.8" stroke="#4b3f8f" stroke-width="0.8"/>
<circle cx="798" cy="674.8" r="1.2" fill="#4b3f8f" stroke="#4b3f8f" stroke-width="0.85"/>
<text x="807.8" y="677.5" font-size="14.5" text-anchor="start" font-family="Liberation Serif, serif" fill="#1a1a1a" textLength="105" lengthAdjust="spacingAndGlyphs">pFedCal-w/o-cal</text>
<line x1="790.1" x2="805.8" y1="692.7" y2="692.7" stroke="#f0665f" stroke-width="0.8"/>
<rect x="796.8" y="691.5" width="2.4" height="2.4" fill="#f0665f" stroke="#f0665f" stroke-width="0.85"/>
<text x="807.8" y="695.4" font-size="14.5" text-anchor="start" font-family="Liberation Serif, serif" fill="#1a1a1a" textLength="118.7" lengthAdjust="spacingAndGlyphs">pFedCal-w/o-mom</text>
<line x1="790.1" x2="805.8" y1="710.6" y2="710.6" stroke="#ffa733" stroke-width="0.8"/>
<polygon points="796.42,709.33 799.58,709.33 798,712.1" fill="#ffa733" stroke="#ffa733" stroke-width="0.85" stroke-linejoin="miter"/>
<text x="807.8" y="713.3" font-size="14.5" text-anchor="start" font-family="Liberation Serif, serif" fill="#1a1a1a" textLength="52.4" lengthAdjust="spacingAndGlyphs">pFedCal</text>
</g>
<g>
<line x1="60.2" x2="283.8" y1="407.6" y2="407.6" stroke="#e3eff8" stroke-width="0.8"/>
<line x1="60.2" x2="283.8" y1="350.8" y2="350.8" stroke="#e3eff8" stroke-width="0.8"/>
<line x1="88.15" x2="88.15" y1="294" y2="464.4" stroke="#e6e6e6" stroke-width="0.8"/>
<line x1="144.05" x2="144.05" y1="294" y2="464.4" stroke="#e6e6e6" stroke-width="0.8"/>
<line x1="199.95" x2="199.95" y1="294" y2="464.4" stroke="#e6e6e6" stroke-width="0.8"/>
<line x1="255.85" x2="255.85" y1="294" y2="464.4" stroke="#e6e6e6" stroke-width="0.8"/>
<path d="M88.15 310.2V346.5M88.15 386.7V428.5" stroke="#2b2b2b" stroke-width="0.85" stroke-dasharray="3.9 2.1" fill="none"/>
<path d="M81.1 310.2h14.1M81.1 428.5h14.1" stroke="#4a4a4a" stroke-width="0.95"/>
<rect x="74.05" y="346.5" width="28.2" height="40.2" fill="none" stroke="#3535ff" stroke-width="0.9"/>
<line x1="74.05" x2="102.25" y1="365.2" y2="365.2" stroke="#ff5555" stroke-width="1.1"/>
<path d="M144.05 311.8V355.5M144.05 398V442.2" stroke="#2b2b2b" stroke-width="0.85" stroke-dasharray="3.9 2.1" fill="none"/>
<path d="M137 311.8h14.1M137 442.2h14.1" stroke="#4a4a4a" stroke-width="0.95"/>
<rect x="129.95" y="355.5" width="28.2" height="42.5" fill="none" stroke="#3535ff" stroke-width="0.9"/>
<line x1="129.95" x2="158.15" y1="378.5" y2="378.5" stroke="#ff5555" stroke-width="1.1"/>
<path d="M199.95 296.8V350.4M199.95 395.5V453.3" stroke="#2b2b2b" stroke-width="0.85" stroke-dasharray="3.9 2.1" fill="none"/>
<path d="M192.9 296.8h14.1M192.9 453.3h14.1" stroke="#4a4a4a" stroke-width="0.95"/>
<rect x="185.85" y="350.4" width="28.2" height="45.1" fill="none" stroke="#3535ff" stroke-width="0.9"/>
<line x1="185.85" x2="214.05" y1="369.2" y2="369.2" stroke="#ff5555" stroke-width="1.1"/>
<path d="M255.85 296.4V328.3M255.85 364.4V414.1" stroke="#2b2b2b" stroke-width="0.85" stroke-dasharray="3.9 2.1" fill="none"/>
<path d="M248.8 296.4h14.1M248.8 414.1h14.1" stroke="#4a4a4a" stroke-width="0.95"/>
<rect x="241.75" y="328.3" width="28.2" height="36.1" fill="none" stroke="#3535ff" stroke-width="0.9"/>
<line x1="241.75" x2="269.95" y1="347.8" y2="347.8" stroke="#ff5555" stroke-width="1.1"/>
<polyline points="88.15,404.2 144.05,386.5 199.95,312.5 255.85,436.7" fill="none" stroke="#d95319" stroke-width="0.8"/>
<circle cx="88.15" cy="404.2" r="2.1" fill="none" stroke="#d95319" stroke-width="0.8"/>
<circle cx="144.05" cy="386.5" r="2.1" fill="none" stroke="#d95319" stroke-width="0.8"/>
<circle cx="199.95" cy="312.5" r="2.1" fill="none" stroke="#d95319" stroke-width="0.8"/>
<circle cx="255.85" cy="436.7" r="2.1" fill="none" stroke="#d95319" stroke-width="0.8"/>
<line x1="60.2" x2="283.8" y1="294" y2="294" stroke="#6e6e6e" stroke-width="1.1"/>
<line x1="60.2" x2="283.8" y1="464.4" y2="464.4" stroke="#6e6e6e" stroke-width="1.1"/>
<line x1="60.2" x2="60.2" y1="294" y2="464.4" stroke="#7fb8e2" stroke-width="1.25"/>
<line x1="283.8" x2="283.8" y1="294" y2="464.4" stroke="#eca07d" stroke-width="1.25"/>
<path d="M88.15 464.4v-2.3M88.15 294v2.3" stroke="#404040" stroke-width="0.7"/>
<path d="M144.05 464.4v-2.3M144.05 294v2.3" stroke="#404040" stroke-width="0.7"/>
<path d="M199.95 464.4v-2.3M199.95 294v2.3" stroke="#404040" stroke-width="0.7"/>
<path d="M255.85 464.4v-2.3M255.85 294v2.3" stroke="#404040" stroke-width="0.7"/>
<path d="M60.2 464.4h2.3" stroke="#5aa0d8" stroke-width="0.8"/>
<text transform="translate(55.6,469.9) scale(1,1.05)" font-size="14.2" text-anchor="end" font-family="Liberation Sans, sans-serif" fill="#2a7fc4">35</text>
<path d="M60.2 407.6h2.3" stroke="#5aa0d8" stroke-width="0.8"/>
<text transform="translate(55.6,413.1) scale(1,1.05)" font-size="14.2" text-anchor="end" font-family="Liberation Sans, sans-serif" fill="#2a7fc4">55</text>
<path d="M60.2 350.8h2.3" stroke="#5aa0d8" stroke-width="0.8"/>
<text transform="translate(55.6,356.3) scale(1,1.05)" font-size="14.2" text-anchor="end" font-family="Liberation Sans, sans-serif" fill="#2a7fc4">75</text>
<path d="M60.2 294h2.3" stroke="#5aa0d8" stroke-width="0.8"/>
<text transform="translate(55.6,299.5) scale(1,1.05)" font-size="14.2" text-anchor="end" font-family="Liberation Sans, sans-serif" fill="#2a7fc4">95</text>
<path d="M283.8 464.4h-2.3" stroke="#e8875a" stroke-width="0.8"/>
<text transform="translate(288.3,469.9) scale(1,1.05)" font-size="14.2" text-anchor="start" font-family="Liberation Sans, sans-serif" fill="#d95319">8</text>
<path d="M283.8 430.32h-2.3" stroke="#e8875a" stroke-width="0.8"/>
<text transform="translate(288.3,435.82) scale(1,1.05)" font-size="14.2" text-anchor="start" font-family="Liberation Sans, sans-serif" fill="#d95319">9</text>
<path d="M283.8 396.24h-2.3" stroke="#e8875a" stroke-width="0.8"/>
<text transform="translate(288.3,401.74) scale(1,1.05)" font-size="14.2" text-anchor="start" font-family="Liberation Sans, sans-serif" fill="#d95319">10</text>
<path d="M283.8 362.16h-2.3" stroke="#e8875a" stroke-width="0.8"/>
<text transform="translate(288.3,367.66) scale(1,1.05)" font-size="14.2" text-anchor="start" font-family="Liberation Sans, sans-serif" fill="#d95319">11</text>
<path d="M283.8 328.08h-2.3" stroke="#e8875a" stroke-width="0.8"/>
<text transform="translate(288.3,333.58) scale(1,1.05)" font-size="14.2" text-anchor="start" font-family="Liberation Sans, sans-serif" fill="#d95319">12</text>
<path d="M283.8 294h-2.3" stroke="#e8875a" stroke-width="0.8"/>
<text transform="translate(288.3,299.5) scale(1,1.05)" font-size="14.2" text-anchor="start" font-family="Liberation Sans, sans-serif" fill="#d95319">13</text>
<text x="88.15" y="483" font-size="14" text-anchor="middle" font-family="Liberation Sans, sans-serif" fill="#262626" >FedAvg</text>
<text x="144.05" y="483" font-size="14" text-anchor="middle" font-family="Liberation Sans, sans-serif" fill="#262626" >pFedSD</text>
<text x="199.95" y="483" font-size="14" text-anchor="middle" font-family="Liberation Sans, sans-serif" fill="#262626" >FedPer</text>
<text x="255.85" y="483" font-size="14" text-anchor="middle" font-family="Liberation Sans, sans-serif" fill="#262626" >pFedCal</text>
<text x="171.3" y="502.6" font-size="15.2" text-anchor="middle" font-family="Liberation Sans, sans-serif" fill="#262626" >Methods</text>
<text transform="translate(33.5,380.2) rotate(-90)" font-size="15.2" text-anchor="middle" font-family="Liberation Sans, sans-serif" fill="#2a7fc4">Accuracy (%)</text>
<text transform="translate(320.6,379.8) rotate(-90)" font-size="15.2" text-anchor="middle" font-family="Liberation Sans, sans-serif" fill="#d95319">Std (%)</text>
<text x="171.5" y="525.4" font-size="14.5" text-anchor="middle" font-family="Liberation Serif, serif" fill="#1a1a1a" >(d) FMNIST</text>
</g>
<g>
<line x1="387.2" x2="602.4" y1="421.8" y2="421.8" stroke="#e3eff8" stroke-width="0.8"/>
<line x1="387.2" x2="602.4" y1="379.2" y2="379.2" stroke="#e3eff8" stroke-width="0.8"/>
<line x1="387.2" x2="602.4" y1="336.6" y2="336.6" stroke="#e3eff8" stroke-width="0.8"/>
<line x1="414.1" x2="414.1" y1="294" y2="464.4" stroke="#e6e6e6" stroke-width="0.8"/>
<line x1="467.9" x2="467.9" y1="294" y2="464.4" stroke="#e6e6e6" stroke-width="0.8"/>
<line x1="521.7" x2="521.7" y1="294" y2="464.4" stroke="#e6e6e6" stroke-width="0.8"/>
<line x1="575.5" x2="575.5" y1="294" y2="464.4" stroke="#e6e6e6" stroke-width="0.8"/>
<path d="M414.1 304.5V336.3M414.1 396V459.3" stroke="#2b2b2b" stroke-width="0.85" stroke-dasharray="3.9 2.1" fill="none"/>
<path d="M407.3 304.5h13.6M407.3 459.3h13.6" stroke="#4a4a4a" stroke-width="0.95"/>
<rect x="400.5" y="336.3" width="27.2" height="59.7" fill="none" stroke="#3535ff" stroke-width="0.9"/>
<line x1="400.5" x2="427.7" y1="365.3" y2="365.3" stroke="#ff5555" stroke-width="1.1"/>
<path d="M467.9 304.5V340.2M467.9 398.8V458.7" stroke="#2b2b2b" stroke-width="0.85" stroke-dasharray="3.9 2.1" fill="none"/>
<path d="M461.1 304.5h13.6M461.1 458.7h13.6" stroke="#4a4a4a" stroke-width="0.95"/>
<rect x="454.3" y="340.2" width="27.2" height="58.6" fill="none" stroke="#3535ff" stroke-width="0.9"/>
<line x1="454.3" x2="481.5" y1="365.3" y2="365.3" stroke="#ff5555" stroke-width="1.1"/>
<path d="M521.7 304.5V336.5M521.7 386.3V445.3" stroke="#2b2b2b" stroke-width="0.85" stroke-dasharray="3.9 2.1" fill="none"/>
<path d="M514.9 304.5h13.6M514.9 445.3h13.6" stroke="#4a4a4a" stroke-width="0.95"/>
<rect x="508.1" y="336.5" width="27.2" height="49.8" fill="none" stroke="#3535ff" stroke-width="0.9"/>
<line x1="508.1" x2="535.3" y1="362.7" y2="362.7" stroke="#ff5555" stroke-width="1.1"/>
<path d="M575.5 304.5V333.8M575.5 395.4V458.5" stroke="#2b2b2b" stroke-width="0.85" stroke-dasharray="3.9 2.1" fill="none"/>
<path d="M568.7 304.5h13.6M568.7 458.5h13.6" stroke="#4a4a4a" stroke-width="0.95"/>
<rect x="561.9" y="333.8" width="27.2" height="61.6" fill="none" stroke="#3535ff" stroke-width="0.9"/>
<line x1="561.9" x2="589.1" y1="359.8" y2="359.8" stroke="#ff5555" stroke-width="1.1"/>
<polyline points="414.1,314.3 467.9,393.7 521.7,374.2 575.5,456.3" fill="none" stroke="#d95319" stroke-width="0.8"/>
<circle cx="414.1" cy="314.3" r="2.1" fill="none" stroke="#d95319" stroke-width="0.8"/>
<circle cx="467.9" cy="393.7" r="2.1" fill="none" stroke="#d95319" stroke-width="0.8"/>
<circle cx="521.7" cy="374.2" r="2.1" fill="none" stroke="#d95319" stroke-width="0.8"/>
<circle cx="575.5" cy="456.3" r="2.1" fill="none" stroke="#d95319" stroke-width="0.8"/>
<line x1="387.2" x2="602.4" y1="294" y2="294" stroke="#6e6e6e" stroke-width="1.1"/>
<line x1="387.2" x2="602.4" y1="464.4" y2="464.4" stroke="#6e6e6e" stroke-width="1.1"/>
<line x1="387.2" x2="387.2" y1="294" y2="464.4" stroke="#7fb8e2" stroke-width="1.25"/>
<line x1="602.4" x2="602.4" y1="294" y2="464.4" stroke="#eca07d" stroke-width="1.25"/>
<path d="M414.1 464.4v-2.3M414.1 294v2.3" stroke="#404040" stroke-width="0.7"/>
<path d="M467.9 464.4v-2.3M467.9 294v2.3" stroke="#404040" stroke-width="0.7"/>
<path d="M521.7 464.4v-2.3M521.7 294v2.3" stroke="#404040" stroke-width="0.7"/>
<path d="M575.5 464.4v-2.3M575.5 294v2.3" stroke="#404040" stroke-width="0.7"/>
<path d="M387.2 464.4h2.3" stroke="#5aa0d8" stroke-width="0.8"/>
<text transform="translate(382.6,469.9) scale(1,1.05)" font-size="14.2" text-anchor="end" font-family="Liberation Sans, sans-serif" fill="#2a7fc4">25</text>
<path d="M387.2 421.8h2.3" stroke="#5aa0d8" stroke-width="0.8"/>
<text transform="translate(382.6,427.3) scale(1,1.05)" font-size="14.2" text-anchor="end" font-family="Liberation Sans, sans-serif" fill="#2a7fc4">45</text>
<path d="M387.2 379.2h2.3" stroke="#5aa0d8" stroke-width="0.8"/>
<text transform="translate(382.6,384.7) scale(1,1.05)" font-size="14.2" text-anchor="end" font-family="Liberation Sans, sans-serif" fill="#2a7fc4">65</text>
<path d="M387.2 336.6h2.3" stroke="#5aa0d8" stroke-width="0.8"/>
<text transform="translate(382.6,342.1) scale(1,1.05)" font-size="14.2" text-anchor="end" font-family="Liberation Sans, sans-serif" fill="#2a7fc4">85</text>
<path d="M387.2 294h2.3" stroke="#5aa0d8" stroke-width="0.8"/>
<text transform="translate(382.6,299.5) scale(1,1.05)" font-size="14.2" text-anchor="end" font-family="Liberation Sans, sans-serif" fill="#2a7fc4">105</text>
<path d="M602.4 464.4h-2.3" stroke="#e8875a" stroke-width="0.8"/>
<text transform="translate(606.9,469.9) scale(1,1.05)" font-size="14.2" text-anchor="start" font-family="Liberation Sans, sans-serif" fill="#d95319">14</text>
<path d="M602.4 430.32h-2.3" stroke="#e8875a" stroke-width="0.8"/>
<text transform="translate(606.9,435.82) scale(1,1.05)" font-size="14.2" text-anchor="start" font-family="Liberation Sans, sans-serif" fill="#d95319">15</text>
<path d="M602.4 396.24h-2.3" stroke="#e8875a" stroke-width="0.8"/>
<text transform="translate(606.9,401.74) scale(1,1.05)" font-size="14.2" text-anchor="start" font-family="Liberation Sans, sans-serif" fill="#d95319">16</text>
<path d="M602.4 362.16h-2.3" stroke="#e8875a" stroke-width="0.8"/>
<text transform="translate(606.9,367.66) scale(1,1.05)" font-size="14.2" text-anchor="start" font-family="Liberation Sans, sans-serif" fill="#d95319">17</text>
<path d="M602.4 328.08h-2.3" stroke="#e8875a" stroke-width="0.8"/>
<text transform="translate(606.9,333.58) scale(1,1.05)" font-size="14.2" text-anchor="start" font-family="Liberation Sans, sans-serif" fill="#d95319">18</text>
<path d="M602.4 294h-2.3" stroke="#e8875a" stroke-width="0.8"/>
<text transform="translate(606.9,299.5) scale(1,1.05)" font-size="14.2" text-anchor="start" font-family="Liberation Sans, sans-serif" fill="#d95319">19</text>
<text x="414.1" y="483" font-size="14" text-anchor="middle" font-family="Liberation Sans, sans-serif" fill="#262626" >FedAvg</text>
<text x="467.9" y="483" font-size="14" text-anchor="middle" font-family="Liberation Sans, sans-serif" fill="#262626" >pFedSD</text>
<text x="521.7" y="483" font-size="14" text-anchor="middle" font-family="Liberation Sans, sans-serif" fill="#262626" >FedPer</text>
<text x="575.5" y="483" font-size="14" text-anchor="middle" font-family="Liberation Sans, sans-serif" fill="#262626" >pFedCal</text>
<text x="494.1" y="502.6" font-size="15.2" text-anchor="middle" font-family="Liberation Sans, sans-serif" fill="#262626" >Methods</text>
<text transform="translate(353,380.2) rotate(-90)" font-size="15.2" text-anchor="middle" font-family="Liberation Sans, sans-serif" fill="#2a7fc4">Accuracy (%)</text>
<text transform="translate(639.6,379.8) rotate(-90)" font-size="15.2" text-anchor="middle" font-family="Liberation Sans, sans-serif" fill="#d95319">Std (%)</text>
<text x="491" y="525.4" font-size="14.5" text-anchor="middle" font-family="Liberation Serif, serif" fill="#1a1a1a" >(e) CIFAR-10</text>
</g>
<g>
<line x1="698.7" x2="918.5" y1="443.95" y2="443.95" stroke="#e3eff8" stroke-width="0.8"/>
<line x1="698.7" x2="918.5" y1="409.87" y2="409.87" stroke="#e3eff8" stroke-width="0.8"/>
<line x1="698.7" x2="918.5" y1="375.79" y2="375.79" stroke="#e3eff8" stroke-width="0.8"/>
<line x1="698.7" x2="918.5" y1="341.71" y2="341.71" stroke="#e3eff8" stroke-width="0.8"/>
<line x1="698.7" x2="918.5" y1="307.63" y2="307.63" stroke="#e3eff8" stroke-width="0.8"/>
<line x1="726.18" x2="726.18" y1="294" y2="464.4" stroke="#e6e6e6" stroke-width="0.8"/>
<line x1="781.12" x2="781.12" y1="294" y2="464.4" stroke="#e6e6e6" stroke-width="0.8"/>
<line x1="836.08" x2="836.08" y1="294" y2="464.4" stroke="#e6e6e6" stroke-width="0.8"/>
<line x1="891.02" x2="891.02" y1="294" y2="464.4" stroke="#e6e6e6" stroke-width="0.8"/>
<path d="M726.18 368.3V394.5M726.18 425.5V458.7" stroke="#2b2b2b" stroke-width="0.85" stroke-dasharray="3.9 2.1" fill="none"/>
<path d="M719.23 368.3h13.9M719.23 458.7h13.9" stroke="#4a4a4a" stroke-width="0.95"/>
<rect x="712.28" y="394.5" width="27.8" height="31" fill="none" stroke="#3535ff" stroke-width="0.9"/>
<line x1="712.28" x2="740.08" y1="402.5" y2="402.5" stroke="#ff5555" stroke-width="1.1"/>
<path d="M781.12 342.5V367.5M781.12 400.5V433.5" stroke="#2b2b2b" stroke-width="0.85" stroke-dasharray="3.9 2.1" fill="none"/>
<path d="M774.17 342.5h13.9M774.17 433.5h13.9" stroke="#4a4a4a" stroke-width="0.95"/>
<rect x="767.23" y="367.5" width="27.8" height="33" fill="none" stroke="#3535ff" stroke-width="0.9"/>
<line x1="767.23" x2="795.02" y1="379.2" y2="379.2" stroke="#ff5555" stroke-width="1.1"/>
<path d="M836.08 358.8V375.6M836.08 414.3V430.4" stroke="#2b2b2b" stroke-width="0.85" stroke-dasharray="3.9 2.1" fill="none"/>
<path d="M829.12 358.8h13.9M829.12 430.4h13.9" stroke="#4a4a4a" stroke-width="0.95"/>
<rect x="822.18" y="375.6" width="27.8" height="38.7" fill="none" stroke="#3535ff" stroke-width="0.9"/>
<line x1="822.18" x2="849.98" y1="390.5" y2="390.5" stroke="#ff5555" stroke-width="1.1"/>
<path d="M891.02 300.1V312.9M891.02 341.7V376.3" stroke="#2b2b2b" stroke-width="0.85" stroke-dasharray="3.9 2.1" fill="none"/>
<path d="M884.07 300.1h13.9M884.07 376.3h13.9" stroke="#4a4a4a" stroke-width="0.95"/>
<rect x="877.12" y="312.9" width="27.8" height="28.8" fill="none" stroke="#3535ff" stroke-width="0.9"/>
<line x1="877.12" x2="904.92" y1="331.7" y2="331.7" stroke="#ff5555" stroke-width="1.1"/>
<polyline points="726.18,325.7 781.12,343.3 836.08,417.6 891.02,450" fill="none" stroke="#d95319" stroke-width="0.8"/>
<circle cx="726.18" cy="325.7" r="2.1" fill="none" stroke="#d95319" stroke-width="0.8"/>
<circle cx="781.12" cy="343.3" r="2.1" fill="none" stroke="#d95319" stroke-width="0.8"/>
<circle cx="836.08" cy="417.6" r="2.1" fill="none" stroke="#d95319" stroke-width="0.8"/>
<circle cx="891.02" cy="450" r="2.1" fill="none" stroke="#d95319" stroke-width="0.8"/>
<line x1="698.7" x2="918.5" y1="294" y2="294" stroke="#6e6e6e" stroke-width="1.1"/>
<line x1="698.7" x2="918.5" y1="464.4" y2="464.4" stroke="#6e6e6e" stroke-width="1.1"/>
<line x1="698.7" x2="698.7" y1="294" y2="464.4" stroke="#7fb8e2" stroke-width="1.25"/>
<line x1="918.5" x2="918.5" y1="294" y2="464.4" stroke="#eca07d" stroke-width="1.25"/>
<path d="M726.18 464.4v-2.3M726.18 294v2.3" stroke="#404040" stroke-width="0.7"/>
<path d="M781.12 464.4v-2.3M781.12 294v2.3" stroke="#404040" stroke-width="0.7"/>
<path d="M836.08 464.4v-2.3M836.08 294v2.3" stroke="#404040" stroke-width="0.7"/>
<path d="M891.02 464.4v-2.3M891.02 294v2.3" stroke="#404040" stroke-width="0.7"/>
<path d="M698.7 443.95h2.3" stroke="#5aa0d8" stroke-width="0.8"/>
<text transform="translate(694.1,449.45) scale(1,1.05)" font-size="14.2" text-anchor="end" font-family="Liberation Sans, sans-serif" fill="#2a7fc4">20</text>
<path d="M698.7 409.87h2.3" stroke="#5aa0d8" stroke-width="0.8"/>
<text transform="translate(694.1,415.37) scale(1,1.05)" font-size="14.2" text-anchor="end" font-family="Liberation Sans, sans-serif" fill="#2a7fc4">25</text>
<path d="M698.7 375.79h2.3" stroke="#5aa0d8" stroke-width="0.8"/>
<text transform="translate(694.1,381.29) scale(1,1.05)" font-size="14.2" text-anchor="end" font-family="Liberation Sans, sans-serif" fill="#2a7fc4">30</text>
<path d="M698.7 341.71h2.3" stroke="#5aa0d8" stroke-width="0.8"/>
<text transform="translate(694.1,347.21) scale(1,1.05)" font-size="14.2" text-anchor="end" font-family="Liberation Sans, sans-serif" fill="#2a7fc4">35</text>
<path d="M698.7 307.63h2.3" stroke="#5aa0d8" stroke-width="0.8"/>
<text transform="translate(694.1,313.13) scale(1,1.05)" font-size="14.2" text-anchor="end" font-family="Liberation Sans, sans-serif" fill="#2a7fc4">40</text>
<path d="M918.5 464.4h-2.3" stroke="#e8875a" stroke-width="0.8"/>
<text transform="translate(923,469.9) scale(1,1.05)" font-size="14.2" text-anchor="start" font-family="Liberation Sans, sans-serif" fill="#d95319">3.0</text>
<path d="M918.5 421.8h-2.3" stroke="#e8875a" stroke-width="0.8"/>
<text transform="translate(923,427.3) scale(1,1.05)" font-size="14.2" text-anchor="start" font-family="Liberation Sans, sans-serif" fill="#d95319">3.2</text>
<path d="M918.5 379.2h-2.3" stroke="#e8875a" stroke-width="0.8"/>
<text transform="translate(923,384.7) scale(1,1.05)" font-size="14.2" text-anchor="start" font-family="Liberation Sans, sans-serif" fill="#d95319">3.4</text>
<path d="M918.5 336.6h-2.3" stroke="#e8875a" stroke-width="0.8"/>
<text transform="translate(923,342.1) scale(1,1.05)" font-size="14.2" text-anchor="start" font-family="Liberation Sans, sans-serif" fill="#d95319">3.6</text>
<path d="M918.5 294h-2.3" stroke="#e8875a" stroke-width="0.8"/>
<text transform="translate(923,299.5) scale(1,1.05)" font-size="14.2" text-anchor="start" font-family="Liberation Sans, sans-serif" fill="#d95319">3.8</text>
<text x="726.18" y="483" font-size="14" text-anchor="middle" font-family="Liberation Sans, sans-serif" fill="#262626" >FedAvg</text>
<text x="781.12" y="483" font-size="14" text-anchor="middle" font-family="Liberation Sans, sans-serif" fill="#262626" >pFedSD</text>
<text x="836.08" y="483" font-size="14" text-anchor="middle" font-family="Liberation Sans, sans-serif" fill="#262626" >FedPer</text>
<text x="891.02" y="483" font-size="14" text-anchor="middle" font-family="Liberation Sans, sans-serif" fill="#262626" >pFedCal</text>
<text x="807.9" y="502.6" font-size="15.2" text-anchor="middle" font-family="Liberation Sans, sans-serif" fill="#262626" >Methods</text>
<text transform="translate(672,380.2) rotate(-90)" font-size="15.2" text-anchor="middle" font-family="Liberation Sans, sans-serif" fill="#2a7fc4">Accuracy (%)</text>
<text transform="translate(958,379.8) rotate(-90)" font-size="15.2" text-anchor="middle" font-family="Liberation Sans, sans-serif" fill="#d95319">Std (%)</text>
<text x="810" y="525.4" font-size="14.5" text-anchor="middle" font-family="Liberation Serif, serif" fill="#1a1a1a" >(f) CIFAR-100</text>
</g>
</svg>
</body></html>
